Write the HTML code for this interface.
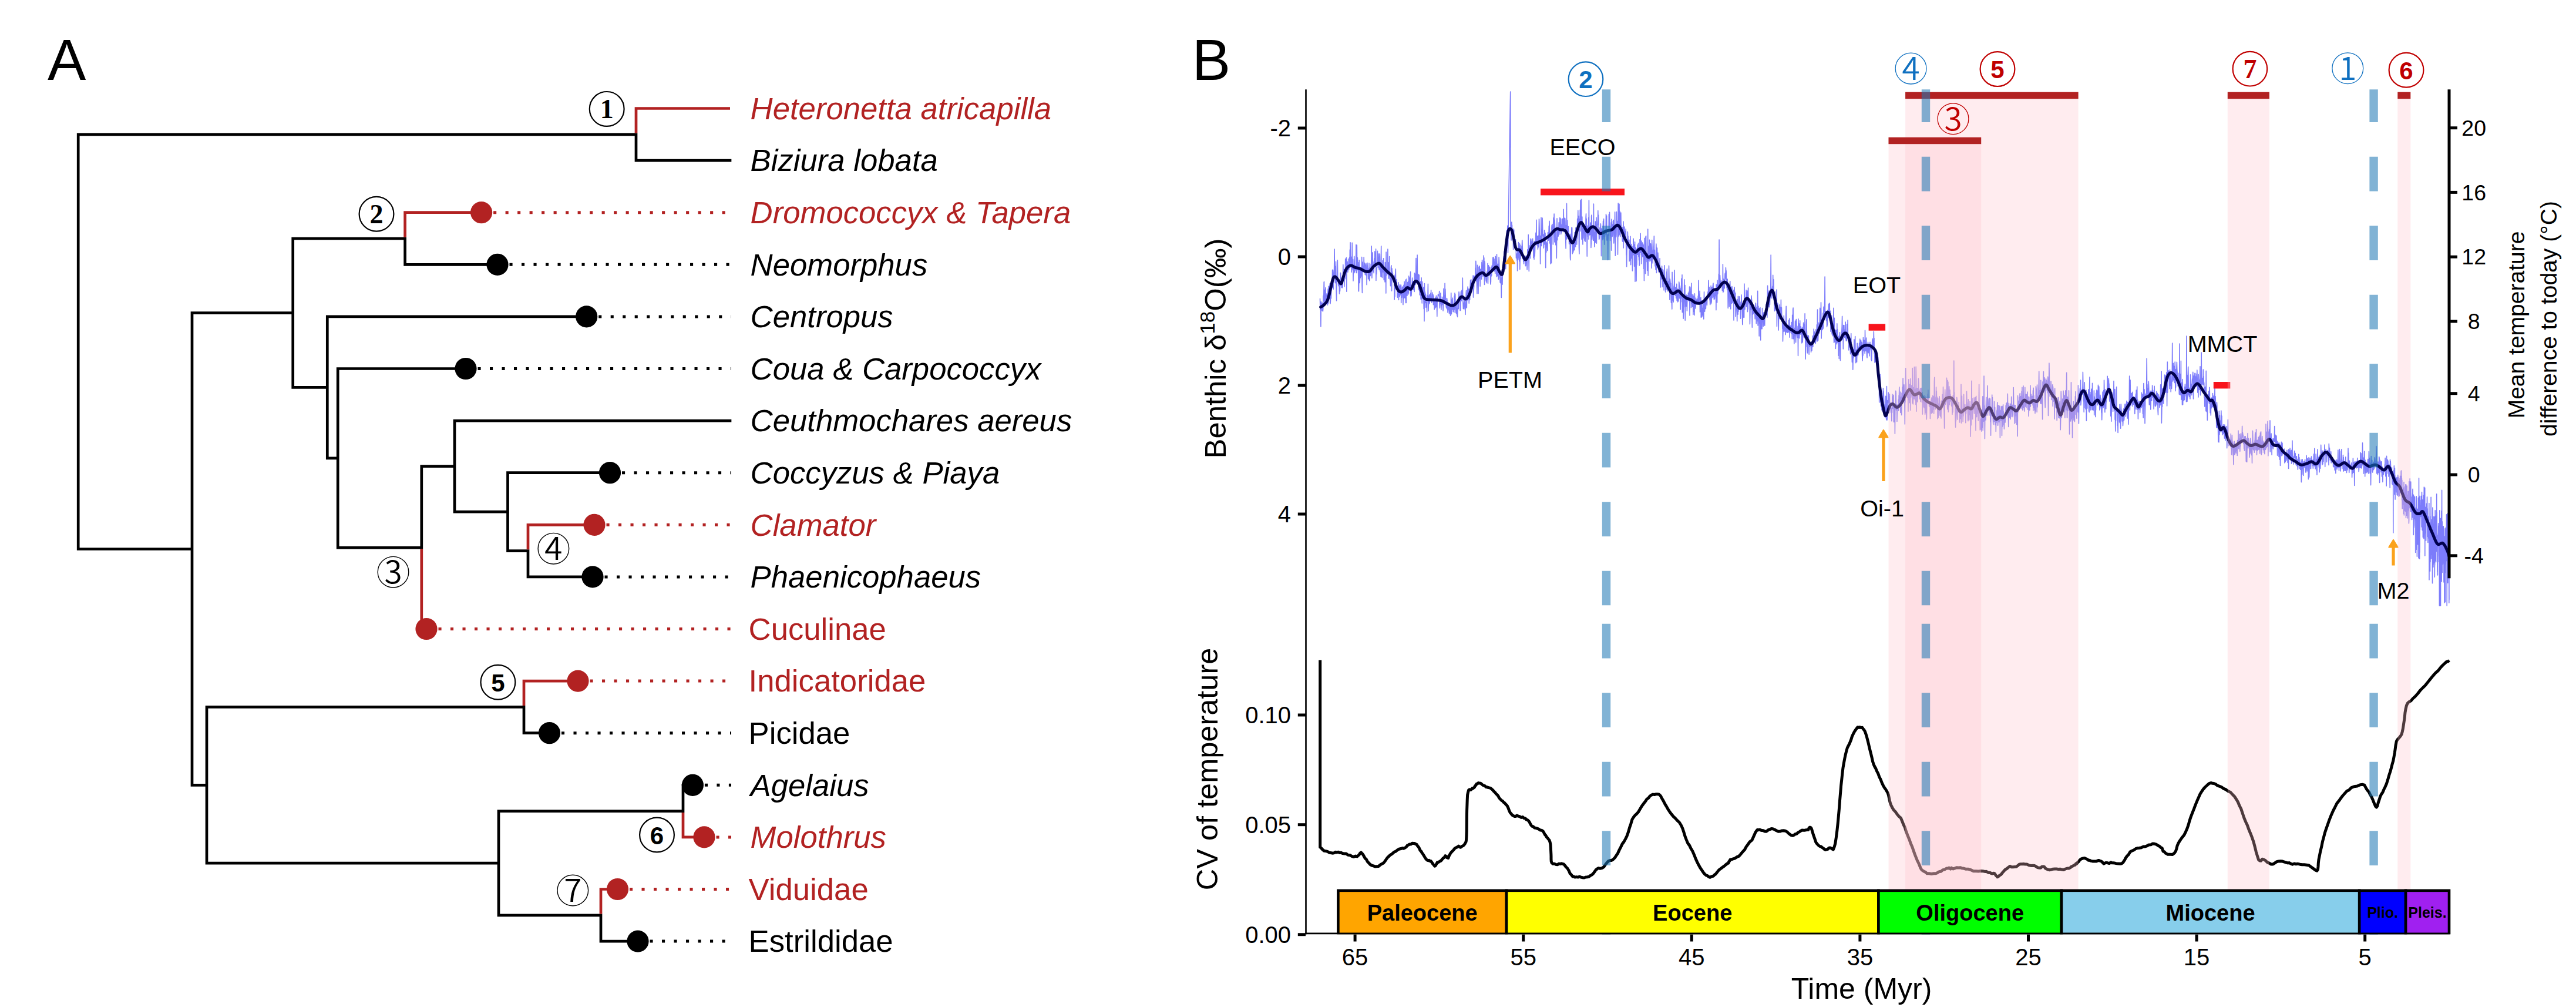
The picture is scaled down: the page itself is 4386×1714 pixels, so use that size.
<!DOCTYPE html>
<html><head><meta charset="utf-8"><title>Figure</title><style>html,body{margin:0;padding:0;background:#fff}svg{display:block}</style></head><body>
<svg width="4386" height="1714" viewBox="0 0 4386 1714" font-family="'Liberation Sans', Arial, Helvetica, sans-serif">
<rect width="4386" height="1714" fill="#fff"/>
<path d="M2247.5 507.9L2247.9 527.1L2248.2 525.9L2248.6 514.7L2248.9 556.0L2249.3 513.2L2249.6 517.6L2250.0 525.8L2250.3 520.4L2250.7 515.7L2251.0 528.8L2251.4 522.9L2251.7 518.0L2252.1 515.3L2252.4 529.9L2252.8 525.0L2253.1 503.4L2253.5 512.2L2253.8 504.0L2254.2 480.3L2254.5 479.5L2254.9 517.4L2255.2 493.4L2255.6 512.0L2255.9 511.7L2256.3 508.8L2256.6 496.1L2257.0 489.5L2257.3 511.5L2257.7 509.9L2258.0 506.9L2258.4 511.5L2258.7 503.8L2259.1 499.9L2259.4 504.7L2259.8 509.4L2260.1 511.1L2260.5 519.3L2260.8 499.8L2261.2 491.9L2261.5 516.3L2261.9 508.2L2262.2 487.3L2262.6 503.8L2262.9 494.8L2263.3 497.1L2263.6 486.5L2264.0 503.3L2264.3 482.9L2264.7 516.0L2265.0 517.0L2265.4 512.3L2265.7 494.6L2266.1 488.9L2266.4 507.9L2266.8 491.8L2267.1 489.9L2267.5 490.2L2267.9 486.8L2268.2 489.5L2268.6 459.3L2268.9 470.1L2269.3 488.5L2269.6 459.5L2270.0 465.4L2270.3 492.3L2270.7 473.2L2271.0 478.6L2271.4 474.0L2271.7 453.1L2272.1 424.0L2272.4 463.4L2272.8 453.0L2273.1 466.8L2273.5 481.8L2273.8 478.6L2274.2 461.4L2274.5 445.3L2274.9 470.4L2275.2 495.6L2275.6 512.0L2275.9 475.7L2276.3 476.8L2276.6 471.8L2277.0 475.2L2277.3 442.8L2277.7 470.5L2278.0 477.5L2278.4 475.3L2278.7 485.7L2279.1 484.6L2279.4 476.6L2279.8 488.0L2280.1 481.8L2280.5 500.3L2280.8 483.8L2281.2 478.1L2281.5 495.7L2281.9 478.3L2282.2 464.4L2282.6 465.1L2282.9 472.7L2283.3 478.6L2283.6 479.9L2284.0 481.2L2284.3 489.7L2284.7 480.2L2285.0 475.4L2285.4 480.5L2285.7 474.9L2286.1 490.0L2286.4 478.8L2286.8 450.6L2287.1 462.1L2287.5 462.8L2287.8 477.3L2288.2 463.9L2288.6 458.5L2288.9 487.7L2289.3 461.7L2289.6 467.5L2290.0 474.7L2290.3 470.7L2290.7 440.6L2291.0 445.7L2291.4 449.5L2291.7 446.2L2292.1 449.9L2292.4 438.5L2292.8 496.2L2293.1 441.7L2293.5 460.9L2293.8 453.5L2294.2 445.5L2294.5 454.0L2294.9 463.1L2295.2 456.4L2295.6 453.0L2295.9 456.9L2296.3 440.7L2296.6 459.4L2297.0 449.2L2297.3 441.0L2297.7 438.1L2298.0 455.9L2298.4 425.1L2298.7 449.6L2299.1 412.8L2299.4 445.9L2299.8 449.6L2300.1 445.5L2300.5 455.7L2300.8 437.4L2301.2 463.3L2301.5 438.7L2301.9 459.7L2302.2 413.3L2302.6 442.9L2302.9 457.0L2303.3 450.4L2303.6 441.6L2304.0 478.2L2304.3 459.7L2304.7 451.3L2305.0 451.4L2305.4 464.8L2305.7 436.2L2306.1 444.1L2306.4 463.1L2306.8 454.5L2307.1 452.4L2307.5 457.1L2307.8 457.4L2308.2 460.0L2308.6 450.7L2308.9 416.5L2309.3 464.4L2309.6 437.9L2310.0 464.4L2310.3 417.1L2310.7 458.5L2311.0 453.7L2311.4 438.7L2311.7 459.6L2312.1 455.9L2312.4 446.7L2312.8 472.0L2313.1 495.2L2313.5 495.8L2313.8 471.0L2314.2 442.9L2314.5 451.5L2314.9 473.3L2315.2 481.6L2315.6 468.4L2315.9 459.2L2316.3 472.9L2316.6 466.9L2317.0 462.7L2317.3 470.4L2317.7 455.2L2318.0 463.0L2318.4 466.3L2318.7 437.5L2319.1 486.2L2319.4 498.5L2319.8 456.7L2320.1 446.1L2320.5 458.6L2320.8 459.1L2321.2 457.2L2321.5 460.8L2321.9 457.5L2322.2 437.8L2322.6 456.7L2322.9 461.7L2323.3 447.6L2323.6 460.7L2324.0 456.8L2324.3 467.5L2324.7 450.8L2325.0 451.3L2325.4 459.7L2325.7 448.2L2326.1 468.9L2326.4 460.9L2326.8 454.4L2327.1 484.7L2327.5 451.1L2327.8 447.3L2328.2 452.3L2328.5 458.5L2328.9 462.7L2329.3 458.9L2329.6 475.2L2330.0 457.6L2330.3 474.1L2330.7 462.2L2331.0 448.1L2331.4 465.0L2331.7 478.0L2332.1 477.0L2332.4 460.9L2332.8 463.5L2333.1 455.3L2333.5 469.5L2333.8 466.9L2334.2 449.3L2334.5 456.8L2334.9 440.6L2335.2 418.9L2335.6 449.5L2335.9 473.3L2336.3 457.1L2336.6 449.8L2337.0 429.9L2337.3 453.0L2337.7 445.5L2338.0 457.8L2338.4 462.2L2338.7 456.5L2339.1 464.6L2339.4 456.4L2339.8 439.7L2340.1 447.4L2340.5 446.2L2340.8 428.0L2341.2 451.4L2341.5 439.7L2341.9 450.3L2342.2 450.0L2342.6 423.8L2342.9 477.5L2343.3 456.9L2343.6 466.6L2344.0 461.0L2344.3 456.1L2344.7 455.1L2345.0 443.7L2345.4 427.2L2345.7 438.5L2346.1 438.3L2346.4 445.9L2346.8 445.0L2347.1 456.0L2347.5 432.0L2347.8 446.2L2348.2 459.5L2348.5 453.2L2348.9 446.5L2349.3 431.9L2349.6 449.0L2350.0 461.4L2350.3 462.8L2350.7 454.8L2351.0 470.8L2351.4 439.8L2351.7 418.9L2352.1 471.2L2352.4 458.1L2352.8 462.6L2353.1 464.2L2353.5 472.6L2353.8 450.9L2354.2 443.5L2354.5 460.6L2354.9 462.9L2355.2 451.3L2355.6 439.8L2355.9 453.4L2356.3 476.6L2356.6 472.5L2357.0 454.7L2357.3 455.2L2357.7 462.4L2358.0 479.9L2358.4 446.5L2358.7 467.0L2359.1 453.6L2359.4 452.3L2359.8 499.1L2360.1 429.0L2360.5 469.1L2360.8 464.8L2361.2 465.4L2361.5 459.3L2361.9 464.4L2362.2 459.0L2362.6 462.5L2362.9 424.0L2363.3 467.7L2363.6 466.7L2364.0 457.9L2364.3 474.1L2364.7 446.9L2365.0 461.9L2365.4 470.9L2365.7 436.6L2366.1 473.2L2366.4 475.2L2366.8 474.1L2367.1 474.4L2367.5 486.8L2367.8 474.6L2368.2 470.1L2368.5 454.8L2368.9 451.8L2369.3 477.9L2369.6 495.2L2370.0 457.1L2370.3 475.5L2370.7 462.8L2371.0 471.8L2371.4 465.4L2371.7 475.3L2372.1 473.8L2372.4 478.5L2372.8 469.9L2373.1 473.4L2373.5 477.9L2373.8 470.1L2374.2 510.0L2374.5 491.2L2374.9 504.7L2375.2 467.9L2375.6 484.3L2375.9 465.1L2376.3 457.7L2376.6 481.5L2377.0 488.6L2377.3 488.8L2377.7 478.1L2378.0 475.7L2378.4 484.8L2378.7 486.3L2379.1 501.4L2379.4 506.1L2379.8 495.8L2380.1 490.3L2380.5 501.6L2380.8 498.8L2381.2 480.8L2381.5 510.4L2381.9 486.6L2382.2 498.2L2382.6 499.6L2382.9 505.1L2383.3 500.1L2383.6 484.1L2384.0 502.2L2384.3 493.2L2384.7 497.2L2385.0 491.6L2385.4 485.0L2385.7 515.5L2386.1 495.2L2386.4 494.6L2386.8 506.3L2387.1 493.1L2387.5 488.0L2387.8 496.7L2388.2 488.6L2388.5 500.3L2388.9 518.6L2389.2 509.9L2389.6 496.5L2390.0 485.4L2390.3 507.8L2390.7 498.3L2391.0 479.2L2391.4 498.4L2391.7 506.5L2392.1 507.1L2392.4 503.8L2392.8 476.1L2393.1 503.6L2393.5 515.4L2393.8 496.9L2394.2 515.5L2394.5 487.3L2394.9 491.0L2395.2 474.7L2395.6 485.5L2395.9 503.3L2396.3 495.9L2396.6 480.9L2397.0 498.2L2397.3 486.3L2397.7 479.4L2398.0 494.4L2398.4 500.8L2398.7 469.8L2399.1 481.3L2399.4 488.0L2399.8 489.6L2400.1 472.8L2400.5 485.8L2400.8 482.1L2401.2 494.7L2401.5 462.6L2401.9 503.9L2402.2 483.6L2402.6 496.4L2402.9 503.8L2403.3 498.5L2403.6 489.1L2404.0 486.3L2404.3 485.4L2404.7 473.1L2405.0 484.5L2405.4 488.6L2405.7 489.8L2406.1 487.3L2406.4 478.7L2406.8 493.4L2407.1 488.3L2407.5 482.4L2407.8 479.1L2408.2 496.5L2408.5 464.8L2408.9 476.6L2409.2 473.8L2409.6 466.5L2410.0 470.9L2410.3 484.7L2410.7 468.7L2411.0 439.5L2411.4 469.1L2411.7 463.8L2412.1 476.4L2412.4 474.8L2412.8 482.6L2413.1 434.0L2413.5 475.2L2413.8 478.0L2414.2 473.8L2414.5 467.2L2414.9 466.7L2415.2 492.4L2415.6 483.4L2415.9 478.9L2416.3 468.0L2416.6 495.2L2417.0 483.5L2417.3 501.8L2417.7 502.2L2418.0 493.1L2418.4 479.4L2418.7 487.8L2419.1 507.8L2419.4 509.5L2419.8 492.7L2420.1 472.8L2420.5 494.3L2420.8 493.9L2421.2 516.1L2421.5 479.5L2421.9 495.5L2422.2 494.7L2422.6 496.7L2422.9 496.1L2423.3 501.0L2423.6 488.7L2424.0 511.1L2424.3 525.8L2424.7 494.8L2425.0 546.7L2425.4 482.5L2425.7 503.3L2426.1 510.7L2426.4 496.8L2426.8 515.5L2427.1 500.0L2427.5 501.1L2427.8 523.3L2428.2 513.7L2428.5 518.4L2428.9 514.0L2429.2 519.4L2429.6 530.7L2429.9 505.0L2430.3 502.9L2430.7 507.1L2431.0 508.5L2431.4 483.3L2431.7 514.3L2432.1 529.2L2432.4 507.9L2432.8 504.4L2433.1 517.4L2433.5 502.7L2433.8 501.6L2434.2 515.9L2434.5 508.5L2434.9 503.4L2435.2 502.1L2435.6 502.5L2435.9 498.8L2436.3 508.6L2436.6 493.9L2437.0 513.5L2437.3 507.2L2437.7 515.3L2438.0 505.4L2438.4 508.5L2438.7 498.0L2439.1 505.4L2439.4 506.2L2439.8 501.2L2440.1 502.1L2440.5 518.7L2440.8 503.6L2441.2 508.9L2441.5 514.2L2441.9 510.9L2442.2 526.7L2442.6 508.5L2442.9 510.2L2443.3 524.6L2443.6 516.4L2444.0 513.6L2444.3 505.9L2444.7 522.9L2445.0 521.3L2445.4 503.2L2445.7 505.9L2446.1 520.5L2446.4 519.6L2446.8 538.6L2447.1 513.4L2447.5 506.4L2447.8 513.8L2448.2 508.0L2448.5 501.2L2448.9 504.1L2449.2 501.0L2449.6 501.8L2449.9 503.1L2450.3 502.0L2450.7 495.5L2451.0 518.4L2451.4 524.4L2451.7 519.1L2452.1 510.7L2452.4 514.3L2452.8 498.9L2453.1 516.6L2453.5 504.9L2453.8 527.1L2454.2 516.9L2454.5 519.7L2454.9 513.8L2455.2 514.4L2455.6 512.6L2455.9 517.9L2456.3 509.3L2456.6 505.5L2457.0 529.1L2457.3 524.2L2457.7 513.7L2458.0 491.4L2458.4 512.3L2458.7 515.4L2459.1 513.8L2459.4 502.7L2459.8 510.7L2460.1 482.2L2460.5 505.0L2460.8 492.1L2461.2 502.2L2461.5 514.8L2461.9 516.1L2462.2 522.0L2462.6 523.6L2462.9 524.5L2463.3 507.5L2463.6 507.8L2464.0 511.3L2464.3 526.5L2464.7 519.8L2465.0 532.0L2465.4 528.7L2465.7 514.9L2466.1 520.7L2466.4 522.2L2466.8 526.8L2467.1 522.6L2467.5 533.9L2467.8 529.5L2468.2 523.8L2468.5 521.9L2468.9 531.2L2469.2 528.2L2469.6 537.1L2469.9 521.2L2470.3 521.5L2470.7 498.5L2471.0 516.6L2471.4 534.6L2471.7 510.5L2472.1 511.3L2472.4 527.1L2472.8 507.0L2473.1 510.8L2473.5 515.2L2473.8 524.5L2474.2 530.7L2474.5 525.9L2474.9 530.7L2475.2 521.5L2475.6 527.5L2475.9 511.0L2476.3 503.8L2476.6 521.1L2477.0 498.8L2477.3 532.1L2477.7 500.7L2478.0 517.0L2478.4 514.7L2478.7 515.5L2479.1 525.1L2479.4 533.3L2479.8 519.2L2480.1 525.5L2480.5 532.7L2480.8 536.9L2481.2 524.6L2481.5 539.5L2481.9 525.3L2482.2 514.9L2482.6 510.9L2482.9 523.0L2483.3 525.8L2483.6 508.1L2484.0 496.7L2484.3 498.8L2484.7 505.6L2485.0 508.2L2485.4 510.4L2485.7 509.6L2486.1 528.7L2486.4 508.7L2486.8 528.1L2487.1 504.6L2487.5 496.3L2487.8 498.9L2488.2 512.2L2488.5 505.1L2488.9 494.3L2489.2 498.7L2489.6 506.8L2489.9 501.9L2490.3 473.1L2490.6 503.9L2491.0 516.0L2491.4 525.4L2491.7 524.0L2492.1 516.5L2492.4 515.3L2492.8 526.2L2493.1 519.8L2493.5 507.4L2493.8 511.1L2494.2 519.3L2494.5 518.5L2494.9 535.4L2495.2 520.1L2495.6 524.8L2495.9 512.7L2496.3 497.5L2496.6 494.4L2497.0 510.1L2497.3 523.9L2497.7 500.5L2498.0 505.6L2498.4 510.9L2498.7 493.9L2499.1 488.0L2499.4 509.2L2499.8 492.3L2500.1 497.4L2500.5 503.1L2500.8 491.8L2501.2 516.3L2501.5 503.9L2501.9 500.6L2502.2 504.6L2502.6 510.5L2502.9 493.1L2503.3 484.4L2503.6 477.3L2504.0 483.2L2504.3 485.5L2504.7 475.7L2505.0 483.0L2505.4 482.1L2505.7 483.2L2506.1 491.7L2506.4 482.6L2506.8 479.2L2507.1 491.5L2507.5 479.3L2507.8 476.1L2508.2 468.9L2508.5 506.1L2508.9 497.4L2509.2 493.7L2509.6 487.2L2509.9 470.6L2510.3 470.0L2510.6 475.7L2511.0 475.1L2511.4 475.1L2511.7 473.3L2512.1 456.2L2512.4 463.6L2512.8 444.2L2513.1 449.9L2513.5 478.6L2513.8 478.5L2514.2 464.7L2514.5 483.6L2514.9 499.8L2515.2 468.1L2515.6 451.3L2515.9 466.3L2516.3 472.4L2516.6 483.9L2517.0 499.8L2517.3 473.5L2517.7 478.5L2518.0 454.3L2518.4 474.5L2518.7 458.7L2519.1 452.8L2519.4 459.2L2519.8 466.4L2520.1 487.3L2520.5 463.0L2520.8 458.2L2521.2 460.7L2521.5 459.4L2521.9 457.7L2522.2 463.7L2522.6 475.2L2522.9 446.6L2523.3 453.6L2523.6 442.5L2524.0 447.1L2524.3 454.6L2524.7 464.8L2525.0 470.5L2525.4 464.8L2525.7 458.2L2526.1 435.1L2526.4 463.7L2526.8 438.7L2527.1 460.7L2527.5 484.5L2527.8 445.0L2528.2 448.1L2528.5 464.8L2528.9 470.7L2529.2 467.7L2529.6 467.7L2529.9 474.3L2530.3 478.8L2530.6 473.7L2531.0 476.6L2531.4 481.6L2531.7 463.0L2532.1 462.4L2532.4 465.7L2532.8 466.8L2533.1 448.4L2533.5 482.5L2533.8 461.2L2534.2 465.2L2534.5 451.9L2534.9 462.1L2535.2 460.2L2535.6 464.3L2535.9 460.9L2536.3 454.2L2536.6 469.2L2537.0 466.2L2537.3 460.8L2537.7 479.9L2538.0 484.0L2538.4 479.0L2538.7 455.4L2539.1 470.2L2539.4 468.1L2539.8 469.0L2540.1 452.4L2540.5 457.7L2540.8 462.2L2541.2 452.4L2541.5 447.5L2541.9 438.3L2542.2 454.7L2542.6 448.5L2542.9 437.7L2543.3 449.0L2543.6 444.9L2544.0 440.7L2544.3 455.4L2544.7 461.7L2545.0 445.7L2545.4 446.6L2545.7 465.6L2546.1 436.3L2546.4 436.7L2546.8 451.6L2547.1 460.8L2547.5 457.3L2547.8 471.1L2548.2 450.9L2548.5 432.7L2548.9 461.1L2549.2 456.4L2549.6 467.6L2549.9 469.9L2550.3 449.3L2550.6 456.3L2551.0 462.2L2551.3 475.5L2551.7 459.0L2552.1 437.9L2552.4 443.4L2552.8 455.0L2553.1 462.8L2553.5 473.4L2553.8 472.5L2554.2 481.0L2554.5 465.5L2554.9 472.0L2555.2 482.1L2555.6 481.8L2555.9 479.4L2556.3 506.4L2556.6 474.7L2557.0 471.7L2557.3 458.8L2557.7 464.2L2558.0 484.2L2558.4 464.2L2558.7 466.4L2559.1 455.7L2559.4 460.1L2559.8 437.4L2560.1 448.6L2560.5 463.1L2560.8 428.3L2561.2 444.8L2561.5 440.6L2561.9 439.7L2562.2 437.1L2562.6 430.6L2562.9 420.6L2563.3 430.3L2563.6 457.8L2564.0 444.5L2564.3 429.3L2564.7 414.7L2565.0 422.9L2565.4 392.4L2565.7 419.0L2566.1 402.5L2566.4 411.9L2566.8 384.2L2567.1 396.7L2567.5 430.0L2567.8 407.2L2568.2 384.3L2568.5 361.5L2568.9 338.7L2569.2 315.8L2569.6 293.0L2569.9 270.2L2570.3 247.3L2570.6 224.5L2571.0 201.7L2571.3 178.8L2571.7 156.0L2572.1 385.8L2572.4 384.4L2572.8 392.4L2573.1 408.9L2573.5 378.4L2573.8 378.0L2574.2 387.9L2574.5 383.2L2574.9 402.5L2575.2 400.1L2575.6 394.8L2575.9 391.6L2576.3 402.2L2576.6 424.7L2577.0 391.6L2577.3 389.5L2577.7 392.3L2578.0 415.2L2578.4 413.2L2578.7 417.0L2579.1 414.5L2579.4 418.5L2579.8 416.8L2580.1 416.3L2580.5 407.8L2580.8 416.2L2581.2 421.1L2581.5 439.3L2581.9 436.0L2582.2 432.1L2582.6 434.5L2582.9 443.3L2583.3 431.9L2583.6 461.0L2584.0 423.6L2584.3 439.1L2584.7 442.1L2585.0 437.9L2585.4 412.6L2585.7 427.4L2586.1 419.0L2586.4 432.8L2586.8 444.8L2587.1 433.9L2587.5 414.7L2587.8 458.4L2588.2 435.0L2588.5 417.2L2588.9 440.5L2589.2 422.5L2589.6 425.7L2589.9 428.3L2590.3 429.2L2590.6 428.8L2591.0 418.9L2591.3 422.1L2591.7 408.9L2592.0 415.5L2592.4 424.0L2592.8 440.5L2593.1 434.9L2593.5 437.2L2593.8 445.3L2594.2 441.0L2594.5 449.3L2594.9 440.6L2595.2 444.2L2595.6 436.2L2595.9 439.8L2596.3 440.4L2596.6 437.3L2597.0 445.9L2597.3 452.8L2597.7 446.1L2598.0 435.8L2598.4 447.3L2598.7 436.4L2599.1 444.7L2599.4 452.7L2599.8 444.0L2600.1 458.9L2600.5 443.2L2600.8 424.8L2601.2 432.9L2601.5 438.8L2601.9 439.2L2602.2 399.6L2602.6 434.1L2602.9 442.5L2603.3 461.8L2603.6 417.7L2604.0 420.0L2604.3 420.9L2604.7 425.8L2605.0 430.9L2605.4 439.7L2605.7 414.5L2606.1 406.6L2606.4 406.4L2606.8 408.1L2607.1 421.1L2607.5 422.9L2607.8 414.2L2608.2 423.7L2608.5 411.1L2608.9 418.0L2609.2 409.6L2609.6 406.2L2609.9 419.1L2610.3 425.6L2610.6 417.4L2611.0 438.8L2611.3 416.6L2611.7 416.4L2612.0 441.5L2612.4 410.5L2612.8 415.3L2613.1 436.0L2613.5 426.8L2613.8 415.3L2614.2 410.6L2614.5 414.3L2614.9 396.3L2615.2 396.1L2615.6 411.0L2615.9 374.2L2616.3 414.6L2616.6 416.6L2617.0 417.2L2617.3 409.9L2617.7 402.3L2618.0 414.6L2618.4 424.3L2618.7 401.1L2619.1 401.7L2619.4 420.8L2619.8 403.6L2620.1 406.7L2620.5 372.7L2620.8 379.8L2621.2 394.5L2621.5 409.6L2621.9 401.1L2622.2 402.7L2622.6 449.3L2622.9 421.4L2623.3 405.1L2623.6 414.7L2624.0 370.3L2624.3 405.6L2624.7 418.6L2625.0 390.6L2625.4 403.8L2625.7 413.2L2626.1 371.0L2626.4 381.7L2626.8 400.1L2627.1 401.5L2627.5 399.4L2627.8 404.2L2628.2 422.3L2628.5 421.0L2628.9 398.8L2629.2 416.1L2629.6 391.9L2629.9 399.6L2630.3 415.4L2630.6 398.3L2631.0 396.5L2631.3 415.1L2631.7 455.8L2632.0 414.3L2632.4 425.5L2632.8 429.4L2633.1 411.9L2633.5 420.7L2633.8 420.2L2634.2 414.6L2634.5 418.9L2634.9 426.6L2635.2 407.6L2635.6 395.5L2635.9 400.3L2636.3 402.3L2636.6 409.1L2637.0 397.4L2637.3 384.5L2637.7 390.3L2638.0 376.2L2638.4 391.0L2638.7 413.9L2639.1 404.5L2639.4 409.6L2639.8 421.7L2640.1 449.2L2640.5 401.4L2640.8 394.2L2641.2 394.4L2641.5 447.8L2641.9 388.0L2642.2 383.2L2642.6 396.0L2642.9 381.6L2643.3 397.3L2643.6 395.5L2644.0 388.2L2644.3 416.1L2644.7 380.1L2645.0 370.8L2645.4 377.5L2645.7 390.5L2646.1 364.1L2646.4 394.8L2646.8 412.1L2647.1 374.3L2647.5 385.8L2647.8 403.1L2648.2 395.0L2648.5 394.9L2648.9 417.0L2649.2 413.9L2649.6 412.4L2649.9 404.7L2650.3 439.5L2650.6 407.7L2651.0 371.9L2651.3 407.5L2651.7 408.6L2652.0 388.3L2652.4 396.5L2652.7 389.3L2653.1 402.3L2653.5 394.2L2653.8 394.0L2654.2 378.8L2654.5 399.4L2654.9 395.8L2655.2 392.2L2655.6 380.0L2655.9 370.5L2656.3 386.5L2656.6 392.7L2657.0 372.0L2657.3 388.5L2657.7 398.7L2658.0 391.3L2658.4 396.7L2658.7 382.3L2659.1 391.3L2659.4 372.8L2659.8 388.6L2660.1 389.0L2660.5 372.3L2660.8 391.9L2661.2 393.2L2661.5 378.5L2661.9 375.3L2662.2 356.2L2662.6 394.6L2662.9 374.9L2663.3 371.1L2663.6 387.2L2664.0 376.1L2664.3 376.9L2664.7 371.9L2665.0 376.9L2665.4 402.8L2665.7 407.5L2666.1 422.9L2666.4 383.7L2666.8 407.4L2667.1 407.0L2667.5 346.4L2667.8 406.6L2668.2 393.9L2668.5 374.7L2668.9 382.8L2669.2 400.0L2669.6 400.3L2669.9 387.0L2670.3 385.5L2670.6 392.7L2671.0 406.5L2671.3 399.8L2671.7 415.5L2672.0 412.4L2672.4 403.5L2672.7 400.2L2673.1 398.4L2673.5 437.8L2673.8 442.7L2674.2 423.3L2674.5 410.2L2674.9 399.9L2675.2 406.0L2675.6 397.5L2675.9 387.3L2676.3 408.5L2676.6 387.5L2677.0 410.5L2677.3 431.9L2677.7 415.1L2678.0 410.0L2678.4 408.9L2678.7 429.3L2679.1 408.7L2679.4 426.1L2679.8 424.8L2680.1 420.8L2680.5 409.6L2680.8 425.6L2681.2 395.5L2681.5 404.4L2681.9 404.4L2682.2 399.4L2682.6 420.3L2682.9 387.7L2683.3 394.2L2683.6 404.4L2684.0 396.7L2684.3 400.7L2684.7 416.1L2685.0 399.8L2685.4 405.9L2685.7 372.5L2686.1 377.4L2686.4 379.0L2686.8 358.4L2687.1 388.5L2687.5 389.3L2687.8 377.2L2688.2 367.8L2688.5 422.2L2688.9 432.3L2689.2 372.9L2689.6 373.3L2689.9 386.5L2690.3 357.2L2690.6 393.4L2691.0 341.0L2691.3 352.1L2691.7 372.3L2692.0 382.1L2692.4 339.2L2692.7 375.5L2693.1 406.9L2693.4 407.6L2693.8 369.1L2694.2 406.0L2694.5 387.9L2694.9 416.0L2695.2 385.9L2695.6 389.8L2695.9 405.5L2696.3 395.0L2696.6 381.3L2697.0 382.3L2697.3 390.5L2697.7 388.1L2698.0 409.2L2698.4 404.0L2698.7 408.0L2699.1 411.3L2699.4 395.1L2699.8 389.7L2700.1 370.6L2700.5 363.8L2700.8 394.7L2701.2 372.4L2701.5 388.7L2701.9 403.4L2702.2 436.2L2702.6 394.0L2702.9 402.5L2703.3 384.2L2703.6 397.9L2704.0 398.3L2704.3 390.9L2704.7 370.4L2705.0 407.3L2705.4 340.9L2705.7 389.8L2706.1 385.2L2706.4 400.0L2706.8 392.7L2707.1 399.8L2707.5 387.1L2707.8 379.1L2708.2 383.3L2708.5 382.7L2708.9 421.4L2709.2 414.6L2709.6 368.3L2709.9 366.1L2710.3 375.9L2710.6 407.5L2711.0 391.7L2711.3 384.1L2711.7 387.2L2712.0 392.8L2712.4 402.1L2712.7 409.1L2713.1 395.3L2713.4 347.0L2713.8 409.4L2714.2 407.1L2714.5 395.7L2714.9 420.2L2715.2 400.7L2715.6 392.0L2715.9 404.2L2716.3 377.1L2716.6 412.8L2717.0 390.4L2717.3 378.7L2717.7 397.4L2718.0 370.2L2718.4 414.3L2718.7 383.2L2719.1 383.5L2719.4 390.6L2719.8 384.7L2720.1 379.1L2720.5 373.6L2720.8 358.5L2721.2 382.2L2721.5 366.0L2721.9 380.0L2722.2 390.0L2722.6 407.8L2722.9 387.5L2723.3 406.3L2723.6 400.5L2724.0 401.5L2724.3 396.7L2724.7 395.2L2725.0 385.7L2725.4 380.9L2725.7 395.6L2726.1 394.8L2726.4 435.7L2726.8 399.6L2727.1 389.0L2727.5 391.5L2727.8 396.5L2728.2 397.3L2728.5 396.4L2728.9 408.4L2729.2 390.7L2729.6 376.3L2729.9 402.1L2730.3 376.9L2730.6 372.5L2731.0 406.8L2731.3 396.7L2731.7 416.3L2732.0 399.7L2732.4 403.5L2732.7 400.7L2733.1 398.5L2733.4 390.5L2733.8 396.0L2734.2 391.7L2734.5 364.6L2734.9 398.7L2735.2 398.8L2735.6 367.3L2735.9 408.9L2736.3 398.6L2736.6 408.9L2737.0 399.7L2737.3 404.1L2737.7 442.5L2738.0 411.4L2738.4 398.7L2738.7 401.4L2739.1 400.7L2739.4 364.8L2739.8 365.9L2740.1 380.2L2740.5 361.4L2740.8 380.5L2741.2 392.4L2741.5 409.6L2741.9 398.2L2742.2 396.2L2742.6 400.5L2742.9 396.9L2743.3 378.9L2743.6 426.3L2744.0 373.1L2744.3 385.9L2744.7 381.9L2745.0 402.7L2745.4 401.5L2745.7 399.4L2746.1 391.7L2746.4 376.7L2746.8 375.6L2747.1 374.5L2747.5 391.1L2747.8 414.0L2748.2 402.4L2748.5 387.2L2748.9 393.5L2749.2 387.7L2749.6 360.9L2749.9 408.4L2750.3 435.3L2750.6 397.2L2751.0 383.3L2751.3 386.8L2751.7 403.4L2752.0 399.4L2752.4 360.6L2752.7 380.3L2753.1 385.3L2753.4 381.9L2753.8 376.5L2754.1 376.7L2754.5 433.3L2754.9 384.9L2755.2 345.9L2755.6 402.3L2755.9 396.8L2756.3 399.1L2756.6 400.6L2757.0 347.3L2757.3 399.0L2757.7 386.9L2758.0 359.6L2758.4 384.6L2758.7 403.0L2759.1 391.0L2759.4 390.9L2759.8 362.0L2760.1 381.3L2760.5 384.0L2760.8 393.8L2761.2 395.9L2761.5 392.7L2761.9 398.7L2762.2 408.8L2762.6 411.0L2762.9 386.6L2763.3 401.3L2763.6 386.8L2764.0 377.1L2764.3 422.1L2764.7 389.2L2765.0 391.8L2765.4 406.5L2765.7 386.1L2766.1 393.2L2766.4 396.4L2766.8 393.6L2767.1 411.5L2767.5 403.3L2767.8 410.0L2768.2 389.7L2768.5 409.2L2768.9 434.2L2769.2 424.8L2769.6 453.9L2769.9 432.8L2770.3 414.1L2770.6 415.5L2771.0 416.5L2771.3 394.6L2771.7 405.7L2772.0 402.1L2772.4 422.1L2772.7 414.8L2773.1 411.2L2773.4 410.1L2773.8 408.2L2774.1 444.7L2774.5 427.7L2774.9 443.2L2775.2 436.8L2775.6 426.6L2775.9 402.2L2776.3 434.2L2776.6 450.7L2777.0 423.9L2777.3 430.1L2777.7 439.8L2778.0 415.5L2778.4 428.9L2778.7 437.6L2779.1 429.9L2779.4 461.1L2779.8 426.5L2780.1 419.4L2780.5 422.6L2780.8 420.2L2781.2 406.3L2781.5 434.0L2781.9 422.6L2782.2 416.4L2782.6 453.2L2782.9 449.3L2783.3 442.5L2783.6 411.7L2784.0 479.2L2784.3 437.0L2784.7 421.1L2785.0 431.6L2785.4 447.1L2785.7 423.0L2786.1 478.5L2786.4 436.8L2786.8 451.3L2787.1 432.8L2787.5 426.3L2787.8 428.6L2788.2 416.8L2788.5 433.2L2788.9 423.0L2789.2 424.7L2789.6 413.8L2789.9 436.9L2790.3 426.6L2790.6 442.9L2791.0 427.0L2791.3 451.9L2791.7 448.5L2792.0 407.5L2792.4 407.6L2792.7 409.5L2793.1 397.3L2793.4 430.2L2793.8 413.6L2794.1 412.5L2794.5 434.0L2794.8 410.0L2795.2 449.1L2795.6 413.2L2795.9 422.7L2796.3 416.5L2796.6 413.1L2797.0 437.2L2797.3 427.1L2797.7 415.3L2798.0 436.4L2798.4 417.4L2798.7 457.5L2799.1 437.2L2799.4 477.7L2799.8 405.4L2800.1 441.7L2800.5 423.8L2800.8 439.3L2801.2 427.5L2801.5 465.7L2801.9 402.8L2802.2 412.9L2802.6 401.5L2802.9 433.7L2803.3 438.1L2803.6 433.4L2804.0 445.6L2804.3 433.1L2804.7 460.6L2805.0 445.0L2805.4 434.5L2805.7 390.1L2806.1 469.1L2806.4 443.8L2806.8 435.6L2807.1 443.5L2807.5 418.9L2807.8 419.5L2808.2 442.5L2808.5 408.4L2808.9 427.1L2809.2 445.1L2809.6 415.1L2809.9 443.5L2810.3 432.1L2810.6 414.9L2811.0 424.5L2811.3 422.7L2811.7 439.2L2812.0 456.5L2812.4 427.8L2812.7 408.5L2813.1 429.9L2813.4 428.2L2813.8 438.4L2814.1 447.9L2814.5 428.6L2814.8 425.0L2815.2 433.6L2815.6 420.7L2815.9 417.4L2816.3 401.8L2816.6 437.1L2817.0 429.6L2817.3 425.6L2817.7 440.8L2818.0 453.0L2818.4 441.3L2818.7 449.8L2819.1 459.3L2819.4 441.4L2819.8 415.1L2820.1 422.5L2820.5 464.5L2820.8 438.5L2821.2 450.7L2821.5 422.0L2821.9 454.3L2822.2 444.9L2822.6 448.9L2822.9 430.3L2823.3 442.6L2823.6 450.0L2824.0 463.0L2824.3 448.5L2824.7 459.5L2825.0 460.4L2825.4 453.0L2825.7 457.8L2826.1 439.7L2826.4 460.7L2826.8 467.3L2827.1 465.3L2827.5 488.9L2827.8 473.7L2828.2 456.8L2828.5 462.8L2828.9 456.4L2829.2 475.1L2829.6 452.7L2829.9 468.5L2830.3 458.5L2830.6 464.4L2831.0 488.5L2831.3 465.7L2831.7 459.2L2832.0 464.7L2832.4 470.2L2832.7 469.9L2833.1 494.0L2833.4 473.4L2833.8 480.4L2834.1 451.7L2834.5 474.9L2834.8 483.0L2835.2 473.0L2835.6 497.1L2835.9 478.5L2836.3 483.1L2836.6 484.5L2837.0 492.9L2837.3 474.9L2837.7 462.8L2838.0 465.0L2838.4 457.9L2838.7 471.9L2839.1 495.4L2839.4 481.1L2839.8 488.5L2840.1 483.4L2840.5 478.8L2840.8 482.9L2841.2 485.4L2841.5 452.2L2841.9 471.5L2842.2 486.0L2842.6 484.6L2842.9 510.2L2843.3 474.9L2843.6 477.3L2844.0 481.0L2844.3 487.8L2844.7 482.2L2845.0 499.3L2845.4 515.1L2845.7 491.5L2846.1 507.1L2846.4 516.4L2846.8 526.1L2847.1 463.3L2847.5 504.8L2847.8 490.0L2848.2 511.1L2848.5 504.0L2848.9 503.0L2849.2 514.2L2849.6 500.5L2849.9 487.9L2850.3 486.6L2850.6 482.8L2851.0 459.8L2851.3 499.7L2851.7 501.2L2852.0 500.1L2852.4 503.1L2852.7 489.0L2853.1 497.2L2853.4 495.7L2853.8 507.4L2854.1 489.4L2854.5 501.2L2854.8 483.4L2855.2 511.6L2855.5 492.3L2855.9 491.5L2856.3 499.2L2856.6 513.9L2857.0 495.9L2857.3 493.6L2857.7 512.6L2858.0 505.0L2858.4 496.8L2858.7 479.9L2859.1 482.0L2859.4 489.7L2859.8 507.7L2860.1 486.2L2860.5 488.8L2860.8 511.7L2861.2 526.8L2861.5 491.3L2861.9 513.9L2862.2 492.9L2862.6 507.8L2862.9 474.2L2863.3 477.5L2863.6 496.9L2864.0 467.7L2864.3 531.6L2864.7 502.9L2865.0 505.8L2865.4 521.9L2865.7 516.0L2866.1 542.5L2866.4 533.5L2866.8 502.3L2867.1 522.7L2867.5 510.1L2867.8 475.9L2868.2 506.1L2868.5 512.3L2868.9 485.6L2869.2 545.2L2869.6 510.1L2869.9 509.0L2870.3 512.5L2870.6 515.0L2871.0 521.3L2871.3 502.1L2871.7 506.1L2872.0 505.8L2872.4 529.3L2872.7 514.4L2873.1 506.0L2873.4 502.8L2873.8 509.8L2874.1 508.4L2874.5 498.5L2874.8 512.1L2875.2 510.6L2875.5 501.9L2875.9 496.0L2876.3 502.2L2876.6 488.0L2877.0 536.9L2877.3 506.3L2877.7 496.4L2878.0 508.8L2878.4 503.1L2878.7 493.6L2879.1 488.4L2879.4 523.7L2879.8 482.1L2880.1 516.3L2880.5 511.4L2880.8 500.8L2881.2 512.4L2881.5 522.3L2881.9 517.7L2882.2 514.4L2882.6 501.5L2882.9 535.6L2883.3 519.7L2883.6 504.1L2884.0 530.1L2884.3 527.5L2884.7 512.4L2885.0 536.4L2885.4 499.9L2885.7 513.3L2886.1 512.7L2886.4 512.0L2886.8 521.2L2887.1 525.1L2887.5 507.1L2887.8 518.5L2888.2 512.3L2888.5 511.6L2888.9 512.0L2889.2 509.8L2889.6 514.8L2889.9 509.1L2890.3 514.1L2890.6 508.0L2891.0 513.9L2891.3 503.8L2891.7 511.0L2892.0 477.2L2892.4 517.0L2892.7 505.5L2893.1 510.2L2893.4 501.7L2893.8 504.1L2894.1 495.2L2894.5 531.1L2894.8 511.2L2895.2 530.4L2895.5 524.3L2895.9 506.6L2896.3 540.3L2896.6 540.2L2897.0 519.5L2897.3 511.9L2897.7 527.0L2898.0 538.9L2898.4 526.0L2898.7 524.5L2899.1 536.5L2899.4 523.9L2899.8 514.8L2900.1 525.9L2900.5 513.8L2900.8 543.1L2901.2 517.7L2901.5 496.7L2901.9 527.6L2902.2 508.6L2902.6 530.3L2902.9 517.4L2903.3 509.7L2903.6 507.1L2904.0 514.3L2904.3 525.8L2904.7 517.4L2905.0 514.7L2905.4 506.7L2905.7 505.2L2906.1 509.2L2906.4 519.4L2906.8 508.1L2907.1 507.4L2907.5 506.7L2907.8 498.1L2908.2 496.1L2908.5 502.2L2908.9 477.2L2909.2 493.6L2909.6 496.2L2909.9 503.2L2910.3 488.7L2910.6 494.7L2911.0 511.0L2911.3 507.6L2911.7 518.8L2912.0 496.4L2912.4 503.8L2912.7 501.8L2913.1 486.6L2913.4 517.3L2913.8 488.9L2914.1 514.7L2914.5 503.4L2914.8 502.4L2915.2 489.4L2915.5 506.7L2915.9 491.0L2916.2 488.0L2916.6 485.0L2917.0 482.1L2917.3 498.4L2917.7 505.8L2918.0 501.2L2918.4 509.9L2918.7 506.1L2919.1 498.0L2919.4 508.6L2919.8 504.3L2920.1 495.9L2920.5 501.9L2920.8 496.1L2921.2 503.8L2921.5 492.3L2921.9 527.8L2922.2 484.4L2922.6 502.4L2922.9 492.4L2923.3 499.6L2923.6 515.1L2924.0 477.0L2924.3 494.5L2924.7 500.4L2925.0 493.1L2925.4 490.1L2925.7 484.7L2926.1 494.1L2926.4 466.3L2926.8 486.7L2927.1 408.0L2927.5 486.1L2927.8 481.0L2928.2 484.5L2928.5 468.6L2928.9 476.9L2929.2 481.1L2929.6 478.4L2929.9 483.8L2930.3 481.6L2930.6 477.9L2931.0 483.2L2931.3 481.1L2931.7 482.6L2932.0 481.0L2932.4 494.7L2932.7 483.1L2933.1 489.0L2933.4 449.8L2933.8 497.4L2934.1 474.5L2934.5 496.4L2934.8 475.5L2935.2 487.5L2935.5 477.0L2935.9 489.6L2936.2 490.6L2936.6 480.7L2937.0 466.9L2937.3 465.1L2937.7 475.3L2938.0 464.9L2938.4 455.5L2938.7 462.5L2939.1 460.8L2939.4 473.5L2939.8 476.2L2940.1 490.0L2940.5 485.9L2940.8 493.4L2941.2 475.1L2941.5 488.4L2941.9 488.8L2942.2 524.6L2942.6 497.9L2942.9 486.2L2943.3 502.7L2943.6 483.2L2944.0 499.4L2944.3 522.0L2944.7 510.0L2945.0 494.5L2945.4 482.8L2945.7 478.5L2946.1 494.5L2946.4 491.4L2946.8 526.0L2947.1 496.7L2947.5 495.9L2947.8 489.4L2948.2 491.5L2948.5 516.7L2948.9 487.6L2949.2 491.2L2949.6 494.6L2949.9 495.3L2950.3 515.2L2950.6 504.5L2951.0 504.5L2951.3 505.1L2951.7 493.8L2952.0 545.1L2952.4 503.5L2952.7 492.8L2953.1 488.7L2953.4 508.0L2953.8 496.9L2954.1 515.2L2954.5 508.3L2954.8 499.0L2955.2 538.8L2955.5 526.1L2955.9 510.2L2956.2 521.1L2956.6 518.5L2956.9 522.3L2957.3 531.8L2957.7 546.7L2958.0 509.6L2958.4 521.3L2958.7 516.6L2959.1 535.1L2959.4 504.2L2959.8 530.4L2960.1 526.4L2960.5 523.7L2960.8 517.9L2961.2 526.1L2961.5 504.8L2961.9 507.3L2962.2 511.5L2962.6 514.7L2962.9 514.1L2963.3 527.8L2963.6 542.3L2964.0 524.6L2964.3 520.2L2964.7 517.7L2965.0 501.7L2965.4 515.9L2965.7 520.2L2966.1 520.3L2966.4 530.7L2966.8 552.6L2967.1 550.9L2967.5 535.7L2967.8 526.6L2968.2 536.1L2968.5 520.3L2968.9 540.2L2969.2 514.0L2969.6 540.3L2969.9 483.0L2970.3 512.3L2970.6 511.9L2971.0 526.4L2971.3 511.9L2971.7 517.7L2972.0 511.2L2972.4 505.8L2972.7 513.4L2973.1 493.9L2973.4 522.1L2973.8 501.5L2974.1 507.7L2974.5 504.5L2974.8 497.0L2975.2 495.0L2975.5 530.6L2975.9 502.4L2976.2 526.3L2976.6 490.1L2976.9 512.1L2977.3 506.8L2977.7 511.7L2978.0 511.1L2978.4 517.7L2978.7 514.8L2979.1 516.0L2979.4 551.7L2979.8 535.1L2980.1 523.4L2980.5 527.0L2980.8 516.8L2981.2 526.9L2981.5 518.8L2981.9 503.3L2982.2 507.7L2982.6 511.3L2982.9 529.7L2983.3 557.3L2983.6 520.8L2984.0 522.9L2984.3 535.1L2984.7 530.1L2985.0 531.2L2985.4 534.2L2985.7 529.6L2986.1 531.4L2986.4 520.1L2986.8 524.0L2987.1 530.6L2987.5 531.0L2987.8 533.9L2988.2 542.9L2988.5 539.3L2988.9 521.9L2989.2 515.8L2989.6 536.8L2989.9 522.5L2990.3 550.7L2990.6 543.7L2991.0 532.8L2991.3 537.8L2991.7 516.7L2992.0 535.9L2992.4 546.8L2992.7 495.4L2993.1 554.1L2993.4 539.6L2993.8 521.3L2994.1 542.6L2994.5 529.6L2994.8 534.6L2995.2 572.1L2995.5 525.0L2995.9 543.4L2996.2 538.6L2996.6 550.3L2996.9 523.2L2997.3 547.1L2997.7 579.0L2998.0 537.4L2998.4 542.4L2998.7 550.0L2999.1 559.7L2999.4 542.3L2999.8 541.1L3000.1 559.7L3000.5 524.6L3000.8 542.5L3001.2 543.9L3001.5 548.1L3001.9 543.7L3002.2 555.5L3002.6 532.3L3002.9 548.2L3003.3 551.6L3003.6 539.7L3004.0 548.2L3004.3 551.6L3004.7 554.2L3005.0 535.0L3005.4 537.8L3005.7 536.1L3006.1 531.6L3006.4 536.4L3006.8 524.7L3007.1 517.7L3007.5 517.6L3007.8 519.7L3008.2 514.5L3008.5 516.3L3008.9 540.2L3009.2 517.1L3009.6 486.4L3009.9 503.7L3010.3 516.1L3010.6 498.2L3011.0 502.2L3011.3 522.5L3011.7 500.6L3012.0 495.1L3012.4 522.8L3012.7 496.5L3013.1 508.2L3013.4 518.7L3013.8 502.6L3014.1 502.2L3014.5 507.3L3014.8 488.0L3015.2 434.0L3015.5 486.5L3015.9 491.9L3016.2 491.7L3016.6 499.3L3016.9 507.7L3017.3 491.0L3017.6 496.4L3018.0 487.1L3018.4 502.6L3018.7 468.3L3019.1 495.4L3019.4 488.1L3019.8 475.9L3020.1 490.5L3020.5 511.2L3020.8 504.3L3021.2 521.7L3021.5 529.5L3021.9 505.8L3022.2 496.6L3022.6 528.3L3022.9 523.7L3023.3 512.6L3023.6 512.7L3024.0 519.7L3024.3 520.5L3024.7 522.5L3025.0 493.1L3025.4 555.6L3025.7 526.3L3026.1 533.0L3026.4 523.3L3026.8 515.9L3027.1 526.7L3027.5 531.0L3027.8 545.2L3028.2 562.1L3028.5 531.6L3028.9 526.6L3029.2 534.2L3029.6 518.7L3029.9 542.7L3030.3 535.0L3030.6 526.9L3031.0 522.9L3031.3 528.6L3031.7 534.5L3032.0 536.1L3032.4 510.2L3032.7 541.1L3033.1 541.5L3033.4 523.5L3033.8 541.1L3034.1 543.8L3034.5 541.3L3034.8 559.3L3035.2 541.9L3035.5 581.0L3035.9 563.7L3036.2 554.0L3036.6 564.3L3036.9 548.6L3037.3 537.4L3037.6 555.8L3038.0 557.5L3038.4 563.1L3038.7 553.6L3039.1 564.4L3039.4 559.2L3039.8 561.1L3040.1 569.7L3040.5 559.8L3040.8 535.4L3041.2 521.3L3041.5 540.3L3041.9 565.1L3042.2 565.7L3042.6 556.3L3042.9 559.7L3043.3 554.8L3043.6 566.1L3044.0 556.5L3044.3 559.8L3044.7 562.1L3045.0 558.2L3045.4 565.4L3045.7 545.0L3046.1 549.8L3046.4 551.1L3046.8 542.3L3047.1 574.3L3047.5 553.5L3047.8 562.3L3048.2 555.8L3048.5 556.5L3048.9 554.8L3049.2 566.1L3049.6 559.8L3049.9 567.8L3050.3 548.6L3050.6 553.9L3051.0 563.5L3051.3 576.8L3051.7 536.2L3052.0 564.7L3052.4 568.6L3052.7 527.1L3053.1 524.0L3053.4 576.6L3053.8 566.3L3054.1 576.0L3054.5 570.4L3054.8 585.2L3055.2 570.8L3055.5 558.4L3055.9 562.9L3056.2 560.3L3056.6 546.1L3056.9 569.5L3057.3 575.6L3057.6 582.7L3058.0 564.9L3058.3 543.6L3058.7 547.8L3059.1 564.9L3059.4 561.9L3059.8 571.1L3060.1 572.4L3060.5 574.7L3060.8 562.5L3061.2 555.1L3061.5 605.4L3061.9 542.7L3062.2 553.4L3062.6 575.2L3062.9 550.8L3063.3 568.8L3063.6 575.7L3064.0 568.2L3064.3 565.5L3064.7 545.8L3065.0 569.2L3065.4 559.4L3065.7 560.2L3066.1 555.8L3066.4 568.5L3066.8 561.6L3067.1 566.9L3067.5 570.0L3067.8 584.0L3068.2 569.1L3068.5 557.0L3068.9 575.9L3069.2 582.4L3069.6 570.3L3069.9 574.3L3070.3 561.1L3070.6 549.2L3071.0 555.6L3071.3 557.1L3071.7 565.0L3072.0 563.2L3072.4 552.3L3072.7 575.5L3073.1 533.7L3073.4 574.1L3073.8 570.4L3074.1 611.3L3074.5 578.8L3074.8 590.6L3075.2 570.4L3075.5 549.1L3075.9 543.7L3076.2 560.9L3076.6 575.3L3076.9 594.1L3077.3 600.9L3077.6 571.2L3078.0 586.3L3078.3 574.6L3078.7 570.7L3079.1 580.1L3079.4 572.1L3079.8 596.7L3080.1 603.3L3080.5 586.0L3080.8 584.0L3081.2 590.2L3081.5 588.1L3081.9 585.5L3082.2 584.1L3082.6 588.7L3082.9 583.3L3083.3 591.1L3083.6 599.4L3084.0 583.7L3084.3 584.2L3084.7 581.6L3085.0 596.7L3085.4 580.2L3085.7 585.2L3086.1 586.8L3086.4 571.8L3086.8 590.4L3087.1 576.0L3087.5 571.3L3087.8 581.1L3088.2 560.0L3088.5 567.6L3088.9 567.1L3089.2 564.9L3089.6 570.7L3089.9 583.2L3090.3 576.6L3090.6 579.7L3091.0 581.0L3091.3 584.8L3091.7 561.1L3092.0 578.9L3092.4 565.5L3092.7 567.4L3093.1 572.7L3093.4 552.8L3093.8 581.3L3094.1 579.9L3094.5 527.0L3094.8 562.0L3095.2 577.0L3095.5 579.5L3095.9 570.1L3096.2 569.1L3096.6 567.6L3096.9 549.4L3097.3 556.7L3097.6 567.1L3098.0 551.1L3098.3 553.6L3098.7 524.2L3099.1 539.7L3099.4 548.5L3099.8 561.0L3100.1 548.3L3100.5 514.9L3100.8 542.5L3101.2 575.9L3101.5 556.7L3101.9 559.1L3102.2 554.5L3102.6 553.8L3102.9 547.2L3103.3 561.4L3103.6 555.2L3104.0 532.9L3104.3 558.9L3104.7 544.7L3105.0 522.2L3105.4 546.3L3105.7 537.3L3106.1 528.4L3106.4 524.9L3106.8 511.3L3107.1 471.0L3107.5 529.9L3107.8 531.9L3108.2 529.7L3108.5 533.2L3108.9 530.4L3109.2 540.8L3109.6 545.9L3109.9 535.3L3110.3 537.8L3110.6 556.4L3111.0 532.1L3111.3 553.8L3111.7 529.4L3112.0 527.8L3112.4 540.5L3112.7 528.5L3113.1 541.0L3113.4 521.3L3113.8 517.4L3114.1 533.0L3114.5 535.2L3114.8 520.8L3115.2 516.1L3115.5 545.4L3115.9 533.5L3116.2 542.1L3116.6 529.2L3116.9 564.3L3117.3 542.3L3117.6 538.8L3118.0 546.2L3118.3 551.7L3118.7 537.1L3119.0 566.8L3119.4 569.2L3119.8 554.3L3120.1 560.6L3120.5 571.8L3120.8 566.7L3121.2 571.6L3121.5 565.7L3121.9 524.3L3122.2 567.6L3122.6 583.2L3122.9 565.2L3123.3 541.2L3123.6 581.9L3124.0 565.1L3124.3 565.3L3124.7 570.3L3125.0 561.6L3125.4 593.5L3125.7 578.5L3126.1 562.8L3126.4 562.0L3126.8 583.2L3127.1 580.7L3127.5 585.7L3127.8 550.7L3128.2 582.8L3128.5 560.5L3128.9 580.1L3129.2 582.6L3129.6 576.0L3129.9 577.3L3130.3 605.2L3130.6 588.0L3131.0 572.1L3131.3 610.6L3131.7 578.2L3132.0 575.2L3132.4 565.9L3132.7 588.4L3133.1 578.2L3133.4 613.6L3133.8 577.0L3134.1 575.2L3134.5 571.7L3134.8 579.0L3135.2 565.1L3135.5 574.8L3135.9 562.0L3136.2 555.9L3136.6 538.4L3136.9 563.8L3137.3 565.7L3137.6 577.8L3138.0 563.1L3138.3 593.9L3138.7 553.6L3139.0 559.0L3139.4 569.8L3139.8 553.6L3140.1 566.6L3140.5 571.9L3140.8 574.3L3141.2 568.7L3141.5 561.0L3141.9 563.1L3142.2 548.1L3142.6 576.4L3142.9 564.7L3143.3 580.5L3143.6 568.0L3144.0 567.5L3144.3 579.4L3144.7 551.7L3145.0 575.8L3145.4 573.6L3145.7 571.6L3146.1 545.0L3146.4 573.2L3146.8 579.6L3147.1 578.7L3147.5 571.4L3147.8 595.9L3148.2 581.5L3148.5 579.4L3148.9 585.1L3149.2 589.2L3149.6 590.9L3149.9 586.7L3150.3 585.3L3150.6 602.6L3151.0 591.1L3151.3 601.4L3151.7 567.6L3152.0 584.7L3152.4 593.1L3152.7 597.6L3153.1 600.0L3153.4 616.5L3153.8 601.2L3154.1 606.6L3154.5 599.4L3154.8 629.2L3155.2 603.3L3155.5 609.7L3155.9 594.3L3156.2 607.9L3156.6 600.1L3156.9 577.9L3157.3 603.8L3157.6 599.0L3158.0 589.4L3158.3 588.2L3158.7 572.6L3159.0 600.9L3159.4 601.8L3159.8 617.7L3160.1 609.0L3160.5 596.2L3160.8 595.2L3161.2 599.5L3161.5 616.3L3161.9 596.3L3162.2 584.3L3162.6 589.5L3162.9 603.7L3163.3 605.5L3163.6 598.7L3164.0 603.5L3164.3 601.2L3164.7 591.2L3165.0 590.3L3165.4 592.2L3165.7 584.0L3166.1 588.4L3166.4 596.6L3166.8 577.0L3167.1 590.8L3167.5 584.7L3167.8 589.8L3168.2 588.4L3168.5 579.2L3168.9 593.6L3169.2 594.2L3169.6 582.4L3169.9 582.6L3170.3 584.6L3170.6 602.8L3171.0 614.2L3171.3 608.3L3171.7 591.8L3172.0 605.1L3172.4 574.6L3172.7 583.9L3173.1 596.8L3173.4 583.3L3173.8 579.0L3174.1 597.4L3174.5 591.0L3174.8 594.9L3175.2 601.8L3175.5 562.4L3175.9 583.2L3176.2 586.7L3176.6 593.8L3176.9 597.4L3177.3 593.3L3177.6 575.0L3178.0 589.4L3178.3 599.4L3178.7 607.0L3179.0 608.9L3179.4 592.1L3179.7 599.5L3180.1 597.5L3180.5 582.3L3180.8 589.4L3181.2 585.7L3181.5 600.8L3181.9 594.2L3182.2 589.7L3182.6 590.6L3182.9 606.0L3183.3 586.3L3183.6 584.9L3184.0 582.4L3184.3 593.7L3184.7 593.1L3185.0 590.9L3185.4 595.7L3185.7 597.5L3186.1 612.6L3186.4 610.1L3186.8 614.1L3187.1 586.8L3187.5 591.6L3187.8 576.3L3188.2 583.0L3188.5 578.2L3188.9 583.8L3189.2 587.4L3189.6 593.1L3189.9 586.1L3190.3 564.3L3190.6 580.7L3191.0 575.6L3191.3 602.3L3191.7 601.2L3192.0 617.1L3192.4 595.9L3192.7 606.4L3193.1 612.3L3193.4 615.7L3193.8 606.3L3194.1 605.6L3194.5 596.9L3194.8 600.8L3195.2 604.2L3195.5 609.3L3195.9 615.7L3196.2 607.2L3196.6 625.1L3196.9 620.4L3197.3 623.3L3197.6 608.2L3198.0 644.1L3198.3 644.4L3198.7 631.5L3199.0 654.9L3199.4 650.5L3199.7 684.9L3200.1 655.2L3200.5 666.0L3200.8 660.8L3201.2 637.2L3201.5 660.7L3201.9 684.7L3202.2 670.2L3202.6 691.3L3202.9 672.0L3203.3 682.8L3203.6 677.4L3204.0 697.9L3204.3 680.1L3204.7 689.5L3205.0 696.0L3205.4 689.5L3205.7 700.2L3206.1 677.1L3206.4 660.9L3206.8 689.7L3207.1 666.1L3207.5 677.2L3207.8 690.0L3208.2 707.0L3208.5 688.8L3208.9 697.8L3209.2 709.0L3209.6 709.8L3209.9 710.6L3210.3 685.0L3210.6 674.3L3211.0 686.3L3211.3 699.5L3211.7 714.1L3212.0 709.3L3212.4 657.6L3212.7 715.3L3213.1 714.3L3213.4 705.7L3213.8 687.5L3214.1 681.5L3214.5 685.0L3214.8 684.9L3215.2 668.1L3215.5 683.1L3215.9 674.8L3216.2 703.0L3216.6 692.2L3216.9 692.8L3217.3 670.5L3217.6 693.7L3218.0 689.5L3218.3 685.2L3218.7 695.7L3219.0 690.4L3219.4 698.9L3219.7 702.5L3220.1 698.2L3220.4 695.7L3220.8 716.7L3221.2 693.2L3221.5 702.5L3221.9 671.1L3222.2 695.8L3222.6 687.6L3222.9 688.5L3223.3 694.8L3223.6 674.1L3224.0 672.4L3224.3 718.3L3224.7 693.6L3225.0 718.3L3225.4 688.5L3225.7 709.4L3226.1 697.0L3226.4 738.2L3226.8 691.1L3227.1 688.3L3227.5 682.9L3227.8 665.3L3228.2 669.1L3228.5 697.9L3228.9 688.0L3229.2 697.0L3229.6 688.7L3229.9 717.4L3230.3 697.7L3230.6 689.2L3231.0 690.1L3231.3 695.4L3231.7 690.6L3232.0 693.8L3232.4 680.1L3232.7 699.3L3233.1 673.1L3233.4 677.9L3233.8 658.7L3234.1 671.7L3234.5 688.9L3234.8 684.4L3235.2 676.0L3235.5 677.9L3235.9 702.4L3236.2 667.0L3236.6 692.6L3236.9 668.8L3237.3 693.3L3237.6 706.4L3238.0 689.8L3238.3 675.3L3238.7 681.6L3239.0 658.7L3239.4 680.1L3239.7 670.4L3240.1 643.7L3240.4 678.7L3240.8 673.4L3241.2 660.0L3241.5 663.5L3241.9 654.7L3242.2 672.0L3242.6 676.4L3242.9 675.7L3243.3 721.9L3243.6 681.4L3244.0 684.8L3244.3 657.1L3244.7 626.8L3245.0 649.5L3245.4 653.4L3245.7 669.6L3246.1 673.4L3246.4 667.2L3246.8 669.2L3247.1 666.9L3247.5 676.6L3247.8 676.2L3248.2 675.4L3248.5 667.6L3248.9 700.2L3249.2 666.7L3249.6 646.0L3249.9 645.9L3250.3 680.4L3250.6 657.9L3251.0 685.8L3251.3 675.7L3251.7 654.0L3252.0 679.2L3252.4 664.1L3252.7 698.2L3253.1 644.6L3253.4 677.2L3253.8 673.6L3254.1 657.0L3254.5 656.2L3254.8 657.8L3255.2 670.7L3255.5 672.7L3255.9 686.2L3256.2 626.6L3256.6 679.0L3256.9 682.2L3257.3 687.9L3257.6 674.6L3258.0 659.3L3258.3 668.6L3258.7 673.1L3259.0 679.0L3259.4 624.6L3259.7 678.9L3260.1 677.7L3260.4 673.1L3260.8 681.2L3261.2 662.3L3261.5 666.6L3261.9 688.7L3262.2 624.2L3262.6 646.2L3262.9 700.3L3263.3 660.6L3263.6 672.5L3264.0 671.5L3264.3 660.9L3264.7 684.2L3265.0 682.0L3265.4 671.6L3265.7 669.8L3266.1 652.6L3266.4 644.0L3266.8 650.7L3267.1 665.8L3267.5 669.7L3267.8 668.9L3268.2 679.1L3268.5 678.4L3268.9 663.5L3269.2 678.4L3269.6 660.9L3269.9 683.8L3270.3 667.0L3270.6 663.7L3271.0 665.9L3271.3 660.5L3271.7 665.1L3272.0 665.7L3272.4 684.7L3272.7 680.1L3273.1 667.8L3273.4 705.1L3273.8 678.1L3274.1 678.9L3274.5 674.3L3274.8 680.2L3275.2 683.2L3275.5 692.7L3275.9 681.1L3276.2 694.0L3276.6 673.3L3276.9 683.3L3277.3 694.7L3277.6 705.4L3278.0 702.3L3278.3 675.2L3278.7 693.6L3279.0 679.4L3279.4 702.2L3279.7 692.0L3280.1 713.8L3280.4 711.7L3280.8 682.7L3281.1 675.9L3281.5 681.1L3281.9 677.4L3282.2 670.5L3282.6 675.5L3282.9 663.9L3283.3 683.2L3283.6 674.0L3284.0 683.8L3284.3 685.7L3284.7 692.0L3285.0 689.8L3285.4 684.3L3285.7 690.4L3286.1 684.3L3286.4 712.6L3286.8 688.0L3287.1 688.8L3287.5 682.5L3287.8 687.6L3288.2 679.0L3288.5 703.7L3288.9 677.0L3289.2 697.3L3289.6 695.8L3289.9 702.4L3290.3 701.3L3290.6 673.5L3291.0 677.3L3291.3 697.0L3291.7 689.2L3292.0 681.7L3292.4 674.4L3292.7 704.1L3293.1 689.0L3293.4 649.8L3293.8 642.3L3294.1 676.0L3294.5 683.4L3294.8 684.2L3295.2 686.2L3295.5 696.4L3295.9 675.8L3296.2 679.8L3296.6 658.9L3296.9 677.8L3297.3 665.5L3297.6 693.8L3298.0 685.6L3298.3 675.9L3298.7 684.6L3299.0 713.0L3299.4 682.3L3299.7 678.4L3300.1 711.3L3300.4 706.0L3300.8 697.2L3301.1 687.0L3301.5 707.3L3301.9 678.6L3302.2 674.8L3302.6 687.1L3302.9 690.7L3303.3 698.6L3303.6 706.6L3304.0 708.9L3304.3 701.2L3304.7 695.9L3305.0 711.9L3305.4 682.2L3305.7 688.5L3306.1 693.2L3306.4 688.3L3306.8 683.7L3307.1 671.6L3307.5 685.8L3307.8 680.3L3308.2 685.0L3308.5 658.6L3308.9 678.2L3309.2 689.3L3309.6 682.4L3309.9 696.6L3310.3 708.1L3310.6 729.1L3311.0 728.5L3311.3 683.0L3311.7 663.1L3312.0 672.3L3312.4 688.4L3312.7 686.5L3313.1 680.2L3313.4 684.3L3313.8 681.1L3314.1 674.7L3314.5 643.2L3314.8 674.4L3315.2 675.3L3315.5 690.6L3315.9 696.7L3316.2 647.2L3316.6 680.3L3316.9 650.0L3317.3 701.3L3317.6 678.5L3318.0 692.8L3318.3 690.3L3318.7 657.8L3319.0 665.7L3319.4 688.6L3319.7 674.4L3320.1 663.9L3320.4 683.6L3320.8 671.2L3321.1 673.7L3321.5 682.0L3321.8 677.1L3322.2 677.0L3322.6 690.3L3322.9 691.2L3323.3 685.6L3323.6 687.2L3324.0 705.4L3324.3 695.1L3324.7 682.4L3325.0 701.6L3325.4 673.1L3325.7 689.5L3326.1 674.3L3326.4 680.3L3326.8 614.0L3327.1 679.9L3327.5 667.8L3327.8 680.1L3328.2 687.2L3328.5 683.0L3328.9 683.4L3329.2 713.3L3329.6 727.2L3329.9 686.0L3330.3 717.0L3330.6 710.6L3331.0 701.2L3331.3 695.7L3331.7 676.4L3332.0 678.3L3332.4 683.8L3332.7 714.1L3333.1 692.7L3333.4 702.1L3333.8 690.6L3334.1 701.3L3334.5 698.3L3334.8 698.4L3335.2 684.6L3335.5 701.5L3335.9 701.6L3336.2 704.7L3336.6 719.0L3336.9 700.3L3337.3 705.6L3337.6 708.7L3338.0 708.0L3338.3 712.6L3338.7 693.7L3339.0 654.3L3339.4 720.1L3339.7 710.9L3340.1 709.5L3340.4 674.0L3340.8 701.3L3341.1 703.0L3341.5 700.1L3341.8 696.1L3342.2 717.8L3342.6 704.2L3342.9 708.1L3343.3 688.0L3343.6 671.4L3344.0 700.0L3344.3 699.8L3344.7 700.9L3345.0 695.8L3345.4 695.1L3345.7 688.5L3346.1 704.9L3346.4 697.1L3346.8 719.7L3347.1 695.5L3347.5 704.2L3347.8 696.7L3348.2 682.3L3348.5 666.1L3348.9 684.3L3349.2 685.1L3349.6 694.6L3349.9 689.2L3350.3 699.5L3350.6 715.0L3351.0 716.6L3351.3 679.8L3351.7 712.2L3352.0 698.7L3352.4 708.4L3352.7 715.0L3353.1 693.5L3353.4 694.0L3353.8 697.0L3354.1 683.1L3354.5 706.4L3354.8 706.9L3355.2 743.1L3355.5 706.4L3355.9 690.9L3356.2 723.7L3356.6 703.8L3356.9 648.2L3357.3 693.8L3357.6 689.4L3358.0 678.0L3358.3 696.0L3358.7 713.4L3359.0 687.8L3359.4 703.8L3359.7 699.1L3360.1 687.8L3360.4 688.4L3360.8 696.5L3361.1 677.0L3361.5 688.4L3361.8 692.9L3362.2 704.1L3362.6 689.9L3362.9 697.6L3363.3 676.2L3363.6 695.8L3364.0 732.7L3364.3 687.2L3364.7 674.2L3365.0 693.1L3365.4 696.0L3365.7 709.8L3366.1 695.6L3366.4 699.4L3366.8 703.8L3367.1 684.8L3367.5 684.9L3367.8 700.8L3368.2 715.9L3368.5 702.2L3368.9 693.7L3369.2 689.5L3369.6 654.3L3369.9 686.0L3370.3 694.3L3370.6 689.7L3371.0 706.5L3371.3 732.0L3371.7 713.2L3372.0 716.9L3372.4 713.2L3372.7 725.2L3373.1 731.4L3373.4 710.5L3373.8 717.5L3374.1 734.3L3374.5 712.7L3374.8 715.5L3375.2 727.8L3375.5 726.8L3375.9 674.7L3376.2 732.4L3376.6 714.6L3376.9 716.9L3377.3 706.3L3377.6 717.1L3378.0 640.0L3378.3 696.9L3378.7 701.9L3379.0 690.6L3379.4 746.7L3379.7 708.4L3380.1 709.4L3380.4 696.2L3380.8 706.2L3381.1 714.9L3381.5 690.1L3381.8 676.2L3382.2 698.5L3382.5 695.1L3382.9 706.7L3383.3 707.0L3383.6 701.0L3384.0 656.5L3384.3 688.5L3384.7 678.6L3385.0 680.7L3385.4 688.1L3385.7 694.6L3386.1 691.7L3386.4 698.6L3386.8 707.1L3387.1 677.5L3387.5 681.3L3387.8 686.4L3388.2 700.9L3388.5 678.7L3388.9 717.9L3389.2 696.0L3389.6 741.3L3389.9 697.7L3390.3 703.6L3390.6 707.8L3391.0 701.1L3391.3 699.7L3391.7 672.1L3392.0 701.0L3392.4 676.6L3392.7 697.3L3393.1 709.3L3393.4 714.5L3393.8 722.6L3394.1 712.1L3394.5 712.7L3394.8 717.5L3395.2 712.0L3395.5 683.4L3395.9 706.2L3396.2 717.9L3396.6 693.4L3396.9 723.1L3397.3 717.0L3397.6 718.2L3398.0 708.8L3398.3 734.4L3398.7 716.1L3399.0 719.6L3399.4 714.2L3399.7 700.9L3400.1 698.1L3400.4 701.4L3400.8 684.8L3401.1 715.6L3401.5 724.1L3401.8 724.0L3402.2 703.0L3402.5 689.7L3402.9 708.9L3403.3 715.6L3403.6 718.5L3404.0 712.6L3404.3 708.4L3404.7 691.1L3405.0 696.5L3405.4 744.9L3405.7 698.3L3406.1 703.9L3406.4 702.2L3406.8 707.2L3407.1 715.5L3407.5 691.6L3407.8 702.7L3408.2 703.8L3408.5 741.6L3408.9 704.5L3409.2 692.3L3409.6 726.0L3409.9 691.2L3410.3 705.3L3410.6 688.9L3411.0 711.0L3411.3 700.2L3411.7 723.4L3412.0 707.9L3412.4 730.2L3412.7 721.3L3413.1 708.2L3413.4 707.9L3413.8 704.6L3414.1 718.9L3414.5 702.4L3414.8 706.3L3415.2 690.1L3415.5 696.8L3415.9 686.9L3416.2 704.4L3416.6 696.1L3416.9 687.5L3417.3 684.6L3417.6 688.0L3418.0 688.1L3418.3 670.3L3418.7 708.9L3419.0 689.7L3419.4 707.6L3419.7 726.4L3420.1 715.0L3420.4 686.3L3420.8 701.8L3421.1 697.0L3421.5 711.0L3421.8 696.0L3422.2 691.2L3422.5 692.6L3422.9 687.3L3423.2 713.4L3423.6 701.8L3424.0 702.7L3424.3 709.1L3424.7 675.3L3425.0 693.3L3425.4 690.5L3425.7 701.0L3426.1 689.3L3426.4 703.2L3426.8 706.8L3427.1 709.6L3427.5 705.8L3427.8 679.9L3428.2 659.6L3428.5 677.1L3428.9 698.9L3429.2 690.6L3429.6 699.9L3429.9 701.6L3430.3 720.9L3430.6 689.5L3431.0 719.7L3431.3 689.8L3431.7 708.1L3432.0 706.3L3432.4 701.0L3432.7 701.4L3433.1 701.5L3433.4 699.8L3433.8 722.6L3434.1 701.4L3434.5 704.4L3434.8 692.6L3435.2 742.4L3435.5 673.5L3435.9 693.6L3436.2 701.2L3436.6 682.5L3436.9 690.5L3437.3 693.8L3437.6 686.1L3438.0 697.6L3438.3 676.6L3438.7 686.8L3439.0 670.6L3439.4 669.6L3439.7 689.8L3440.1 680.1L3440.4 674.8L3440.8 684.1L3441.1 695.2L3441.5 691.7L3441.8 679.1L3442.2 665.6L3442.5 680.9L3442.9 659.2L3443.2 683.6L3443.6 698.0L3444.0 697.3L3444.3 697.9L3444.7 678.8L3445.0 656.7L3445.4 693.5L3445.7 687.4L3446.1 689.8L3446.4 685.3L3446.8 700.1L3447.1 685.2L3447.5 674.9L3447.8 659.2L3448.2 684.6L3448.5 675.8L3448.9 692.2L3449.2 671.4L3449.6 679.1L3449.9 694.1L3450.3 671.1L3450.6 675.6L3451.0 681.6L3451.3 682.8L3451.7 673.8L3452.0 667.1L3452.4 684.2L3452.7 697.1L3453.1 694.1L3453.4 684.6L3453.8 675.3L3454.1 708.4L3454.5 692.5L3454.8 696.4L3455.2 682.3L3455.5 687.1L3455.9 698.1L3456.2 675.9L3456.6 688.8L3456.9 656.0L3457.3 691.9L3457.6 679.6L3458.0 676.8L3458.3 671.4L3458.7 682.2L3459.0 686.8L3459.4 679.8L3459.7 686.5L3460.1 674.4L3460.4 684.5L3460.8 674.8L3461.1 689.8L3461.5 664.8L3461.8 699.0L3462.2 660.3L3462.5 693.8L3462.9 673.3L3463.2 691.3L3463.6 680.6L3464.0 698.0L3464.3 694.2L3464.7 687.1L3465.0 703.5L3465.4 686.9L3465.7 700.0L3466.1 698.0L3466.4 657.8L3466.8 662.2L3467.1 669.9L3467.5 685.2L3467.8 677.2L3468.2 701.5L3468.5 655.0L3468.9 693.2L3469.2 691.6L3469.6 682.3L3469.9 683.9L3470.3 674.1L3470.6 674.3L3471.0 662.0L3471.3 654.6L3471.7 632.0L3472.0 670.0L3472.4 666.1L3472.7 681.1L3473.1 676.3L3473.4 664.6L3473.8 686.9L3474.1 668.5L3474.5 680.0L3474.8 647.2L3475.2 670.6L3475.5 687.4L3475.9 675.3L3476.2 673.0L3476.6 672.8L3476.9 683.1L3477.3 685.5L3477.6 713.8L3478.0 649.7L3478.3 659.7L3478.7 652.3L3479.0 642.1L3479.4 632.6L3479.7 663.9L3480.1 646.7L3480.4 648.8L3480.8 642.6L3481.1 662.6L3481.5 644.8L3481.8 682.4L3482.2 693.6L3482.5 675.9L3482.9 665.6L3483.2 651.7L3483.6 644.7L3483.9 648.5L3484.3 649.0L3484.7 647.9L3485.0 661.1L3485.4 664.8L3485.7 660.6L3486.1 657.5L3486.4 668.8L3486.8 641.3L3487.1 648.2L3487.5 707.4L3487.8 668.6L3488.2 666.5L3488.5 654.3L3488.9 618.0L3489.2 634.4L3489.6 659.7L3489.9 663.6L3490.3 674.7L3490.6 663.0L3491.0 662.3L3491.3 661.0L3491.7 661.2L3492.0 648.8L3492.4 655.1L3492.7 680.6L3493.1 666.8L3493.4 666.0L3493.8 667.5L3494.1 671.5L3494.5 659.8L3494.8 654.9L3495.2 691.5L3495.5 658.1L3495.9 665.4L3496.2 668.9L3496.6 683.1L3496.9 674.6L3497.3 681.7L3497.6 683.8L3498.0 713.2L3498.3 665.1L3498.7 661.1L3499.0 682.7L3499.4 675.7L3499.7 684.0L3500.1 693.9L3500.4 680.2L3500.8 682.3L3501.1 687.3L3501.5 681.6L3501.8 683.2L3502.2 715.4L3502.5 704.7L3502.9 699.5L3503.2 690.1L3503.6 685.0L3503.9 685.6L3504.3 676.5L3504.7 676.5L3505.0 711.1L3505.4 702.8L3505.7 686.7L3506.1 686.1L3506.4 711.6L3506.8 697.1L3507.1 682.7L3507.5 703.3L3507.8 712.6L3508.2 731.7L3508.5 719.6L3508.9 703.4L3509.2 666.2L3509.6 677.1L3509.9 705.1L3510.3 711.0L3510.6 694.7L3511.0 695.0L3511.3 698.7L3511.7 679.0L3512.0 684.4L3512.4 692.4L3512.7 695.5L3513.1 665.3L3513.4 686.8L3513.8 672.8L3514.1 681.0L3514.5 700.6L3514.8 692.5L3515.2 673.3L3515.5 674.2L3515.9 711.1L3516.2 676.8L3516.6 670.4L3516.9 664.9L3517.3 668.6L3517.6 671.8L3518.0 697.7L3518.3 673.9L3518.7 634.4L3519.0 680.4L3519.4 710.8L3519.7 711.1L3520.1 684.2L3520.4 675.6L3520.8 699.3L3521.1 683.4L3521.5 694.5L3521.8 689.7L3522.2 689.5L3522.5 664.8L3522.9 694.1L3523.2 697.9L3523.6 738.9L3523.9 702.2L3524.3 692.8L3524.7 695.5L3525.0 701.0L3525.4 701.4L3525.7 717.0L3526.1 707.7L3526.4 650.8L3526.8 698.4L3527.1 705.6L3527.5 713.5L3527.8 711.9L3528.2 697.0L3528.5 745.2L3528.9 697.0L3529.2 711.3L3529.6 700.4L3529.9 687.9L3530.3 683.3L3530.6 705.0L3531.0 715.1L3531.3 712.7L3531.7 690.1L3532.0 694.3L3532.4 717.7L3532.7 693.7L3533.1 705.6L3533.4 674.8L3533.8 692.2L3534.1 666.5L3534.5 692.4L3534.8 685.8L3535.2 705.7L3535.5 699.4L3535.9 712.3L3536.2 702.5L3536.6 695.7L3536.9 680.1L3537.3 682.3L3537.6 678.0L3538.0 701.4L3538.3 655.9L3538.7 675.0L3539.0 670.4L3539.4 721.0L3539.7 689.9L3540.1 673.2L3540.4 681.4L3540.8 674.2L3541.1 669.0L3541.5 661.2L3541.8 663.4L3542.2 676.1L3542.5 647.0L3542.9 689.7L3543.2 685.9L3543.6 676.4L3543.9 670.7L3544.3 665.3L3544.6 663.5L3545.0 665.2L3545.4 671.2L3545.7 667.4L3546.1 655.4L3546.4 633.3L3546.8 655.9L3547.1 667.0L3547.5 683.0L3547.8 675.4L3548.2 701.4L3548.5 664.2L3548.9 694.3L3549.2 650.7L3549.6 667.9L3549.9 671.3L3550.3 670.1L3550.6 682.5L3551.0 696.2L3551.3 688.9L3551.7 682.7L3552.0 664.1L3552.4 716.3L3552.7 676.0L3553.1 674.9L3553.4 695.8L3553.8 694.8L3554.1 671.3L3554.5 681.0L3554.8 682.6L3555.2 677.5L3555.5 678.8L3555.9 662.7L3556.2 675.6L3556.6 700.1L3556.9 679.2L3557.3 701.6L3557.6 656.0L3558.0 641.8L3558.3 693.8L3558.7 674.1L3559.0 672.3L3559.4 688.0L3559.7 698.0L3560.1 667.5L3560.4 678.6L3560.8 662.1L3561.1 687.5L3561.5 683.0L3561.8 692.9L3562.2 697.7L3562.5 652.2L3562.9 669.7L3563.2 682.0L3563.6 697.5L3563.9 684.1L3564.3 698.0L3564.6 688.9L3565.0 686.5L3565.4 664.9L3565.7 706.6L3566.1 675.1L3566.4 677.4L3566.8 682.4L3567.1 683.2L3567.5 688.1L3567.8 709.6L3568.2 694.5L3568.5 697.7L3568.9 669.3L3569.2 682.4L3569.6 674.5L3569.9 663.8L3570.3 679.6L3570.6 664.7L3571.0 676.6L3571.3 687.8L3571.7 689.5L3572.0 684.0L3572.4 655.3L3572.7 659.3L3573.1 668.4L3573.4 684.9L3573.8 658.1L3574.1 675.1L3574.5 677.6L3574.8 698.0L3575.2 693.6L3575.5 696.3L3575.9 672.2L3576.2 675.9L3576.6 692.6L3576.9 677.5L3577.3 679.6L3577.6 680.7L3578.0 702.3L3578.3 698.8L3578.7 714.7L3579.0 701.8L3579.4 684.3L3579.7 689.2L3580.1 667.1L3580.4 682.9L3580.8 680.2L3581.1 694.1L3581.5 681.3L3581.8 664.6L3582.2 691.0L3582.5 647.0L3582.9 660.7L3583.2 691.3L3583.6 692.3L3583.9 701.7L3584.3 662.9L3584.6 684.5L3585.0 674.3L3585.3 674.0L3585.7 696.1L3586.1 670.7L3586.4 684.6L3586.8 669.2L3587.1 667.3L3587.5 668.2L3587.8 659.3L3588.2 640.2L3588.5 660.6L3588.9 651.2L3589.2 659.2L3589.6 647.9L3589.9 659.8L3590.3 644.2L3590.6 652.9L3591.0 653.2L3591.3 668.9L3591.7 683.0L3592.0 676.5L3592.4 677.4L3592.7 672.6L3593.1 683.8L3593.4 684.1L3593.8 708.3L3594.1 666.2L3594.5 684.1L3594.8 717.2L3595.2 697.4L3595.5 690.8L3595.9 667.9L3596.2 682.4L3596.6 683.0L3596.9 690.3L3597.3 677.9L3597.6 700.5L3598.0 684.4L3598.3 671.2L3598.7 668.5L3599.0 648.6L3599.4 674.6L3599.7 685.3L3600.1 699.1L3600.4 689.8L3600.8 662.6L3601.1 714.3L3601.5 708.8L3601.8 733.9L3602.2 705.3L3602.5 716.3L3602.9 690.6L3603.2 670.5L3603.6 658.6L3603.9 700.9L3604.3 697.3L3604.6 699.7L3605.0 695.6L3605.3 724.5L3605.7 718.9L3606.1 736.5L3606.4 707.2L3606.8 703.0L3607.1 698.6L3607.5 700.1L3607.8 703.8L3608.2 705.0L3608.5 718.8L3608.9 697.9L3609.2 688.3L3609.6 706.0L3609.9 720.9L3610.3 717.4L3610.6 729.3L3611.0 704.9L3611.3 687.7L3611.7 696.8L3612.0 697.7L3612.4 705.0L3612.7 707.1L3613.1 717.0L3613.4 707.1L3613.8 714.2L3614.1 712.4L3614.5 724.8L3614.8 719.5L3615.2 697.4L3615.5 705.0L3615.9 695.5L3616.2 715.7L3616.6 714.0L3616.9 708.8L3617.3 693.6L3617.6 697.0L3618.0 687.7L3618.3 687.8L3618.7 701.9L3619.0 701.0L3619.4 709.0L3619.7 703.7L3620.1 691.3L3620.4 687.3L3620.8 684.0L3621.1 682.3L3621.5 690.9L3621.8 687.4L3622.2 712.1L3622.5 684.5L3622.9 699.0L3623.2 690.0L3623.6 703.3L3623.9 722.2L3624.3 691.5L3624.6 684.1L3625.0 690.2L3625.3 677.2L3625.7 640.1L3626.1 695.0L3626.4 698.3L3626.8 681.3L3627.1 646.9L3627.5 690.2L3627.8 687.8L3628.2 682.0L3628.5 670.6L3628.9 669.5L3629.2 669.2L3629.6 670.1L3629.9 672.1L3630.3 688.4L3630.6 691.4L3631.0 667.3L3631.3 683.5L3631.7 683.0L3632.0 685.1L3632.4 688.4L3632.7 683.2L3633.1 674.7L3633.4 677.0L3633.8 686.0L3634.1 687.4L3634.5 693.4L3634.8 704.5L3635.2 687.0L3635.5 676.0L3635.9 692.4L3636.2 678.9L3636.6 670.2L3636.9 696.5L3637.3 664.1L3637.6 682.9L3638.0 677.0L3638.3 689.2L3638.7 658.1L3639.0 697.3L3639.4 694.2L3639.7 680.5L3640.1 688.1L3640.4 713.1L3640.8 688.5L3641.1 694.0L3641.5 687.9L3641.8 683.8L3642.2 696.6L3642.5 682.8L3642.9 683.4L3643.2 692.3L3643.6 702.4L3643.9 695.0L3644.3 693.9L3644.6 691.8L3645.0 684.7L3645.3 691.1L3645.7 682.8L3646.0 694.2L3646.4 668.2L3646.8 691.4L3647.1 674.8L3647.5 675.8L3647.8 670.9L3648.2 690.5L3648.5 704.5L3648.9 673.1L3649.2 711.1L3649.6 667.1L3649.9 652.5L3650.3 682.6L3650.6 677.7L3651.0 662.7L3651.3 691.2L3651.7 676.3L3652.0 720.8L3652.4 701.5L3652.7 680.7L3653.1 671.8L3653.4 670.7L3653.8 673.6L3654.1 669.3L3654.5 678.5L3654.8 647.5L3655.2 610.0L3655.5 660.8L3655.9 654.6L3656.2 669.6L3656.6 674.5L3656.9 673.5L3657.3 660.8L3657.6 674.0L3658.0 658.2L3658.3 649.3L3658.7 659.6L3659.0 674.2L3659.4 689.1L3659.7 667.8L3660.1 682.2L3660.4 688.7L3660.8 678.0L3661.1 665.5L3661.5 669.1L3661.8 696.9L3662.2 684.7L3662.5 665.4L3662.9 678.8L3663.2 676.9L3663.6 681.9L3663.9 675.0L3664.3 676.3L3664.6 656.0L3665.0 667.0L3665.3 663.9L3665.7 664.7L3666.0 676.6L3666.4 671.7L3666.8 671.5L3667.1 696.3L3667.5 672.0L3667.8 675.0L3668.2 657.4L3668.5 673.4L3668.9 678.7L3669.2 689.6L3669.6 691.9L3669.9 688.4L3670.3 683.7L3670.6 690.5L3671.0 677.8L3671.3 684.1L3671.7 666.3L3672.0 684.7L3672.4 686.4L3672.7 688.6L3673.1 680.5L3673.4 669.3L3673.8 687.2L3674.1 699.1L3674.5 706.1L3674.8 676.9L3675.2 678.2L3675.5 671.8L3675.9 681.0L3676.2 682.5L3676.6 685.0L3676.9 693.6L3677.3 675.6L3677.6 677.0L3678.0 687.4L3678.3 689.5L3678.7 654.8L3679.0 656.3L3679.4 671.6L3679.7 688.4L3680.1 632.1L3680.4 720.1L3680.8 698.0L3681.1 662.9L3681.5 692.4L3681.8 680.0L3682.2 660.9L3682.5 677.1L3682.9 679.6L3683.2 680.1L3683.6 686.9L3683.9 678.3L3684.3 663.5L3684.6 675.4L3685.0 661.7L3685.3 651.0L3685.7 638.1L3686.0 658.8L3686.4 649.4L3686.7 638.7L3687.1 658.1L3687.5 668.1L3687.8 667.7L3688.2 640.6L3688.5 645.9L3688.9 633.7L3689.2 641.0L3689.6 691.0L3689.9 654.8L3690.3 616.1L3690.6 668.2L3691.0 650.1L3691.3 644.9L3691.7 639.7L3692.0 630.8L3692.4 644.6L3692.7 632.5L3693.1 642.3L3693.4 636.2L3693.8 661.7L3694.1 642.6L3694.5 629.3L3694.8 656.4L3695.2 651.5L3695.5 638.4L3695.9 639.2L3696.2 666.9L3696.6 656.6L3696.9 658.8L3697.3 648.6L3697.6 661.2L3698.0 639.2L3698.3 643.5L3698.7 584.0L3699.0 635.5L3699.4 636.6L3699.7 649.1L3700.1 619.5L3700.4 618.3L3700.8 646.7L3701.1 644.4L3701.5 623.1L3701.8 642.2L3702.2 631.5L3702.5 651.4L3702.9 646.1L3703.2 616.1L3703.6 644.7L3703.9 665.6L3704.3 643.1L3704.6 659.3L3705.0 628.6L3705.3 646.1L3705.7 638.7L3706.0 624.2L3706.4 616.3L3706.7 627.8L3707.1 634.0L3707.5 646.1L3707.8 650.6L3708.2 656.9L3708.5 650.9L3708.9 645.4L3709.2 650.8L3709.6 654.2L3709.9 635.1L3710.3 670.6L3710.6 671.4L3711.0 585.0L3711.3 660.9L3711.7 658.7L3712.0 660.2L3712.4 672.1L3712.7 636.6L3713.1 653.9L3713.4 614.3L3713.8 680.3L3714.1 669.1L3714.5 651.6L3714.8 651.5L3715.2 670.5L3715.5 689.1L3715.9 673.4L3716.2 645.5L3716.6 688.8L3716.9 675.7L3717.3 680.2L3717.6 668.3L3718.0 678.1L3718.3 681.9L3718.7 679.8L3719.0 664.3L3719.4 680.4L3719.7 658.5L3720.1 661.6L3720.4 653.7L3720.8 665.7L3721.1 658.5L3721.5 667.5L3721.8 674.1L3722.2 667.0L3722.5 683.7L3722.9 572.0L3723.2 676.1L3723.6 638.3L3723.9 683.4L3724.3 676.1L3724.6 677.3L3725.0 649.2L3725.3 635.9L3725.7 624.3L3726.0 641.0L3726.4 672.5L3726.7 659.8L3727.1 660.8L3727.5 675.3L3727.8 664.4L3728.2 661.6L3728.5 675.0L3728.9 679.0L3729.2 669.0L3729.6 637.7L3729.9 667.7L3730.3 668.1L3730.6 662.3L3731.0 666.6L3731.3 653.9L3731.7 672.5L3732.0 657.5L3732.4 648.7L3732.7 644.9L3733.1 647.2L3733.4 639.5L3733.8 633.3L3734.1 655.7L3734.5 678.9L3734.8 643.9L3735.2 639.7L3735.5 656.1L3735.9 660.1L3736.2 656.5L3736.6 652.4L3736.9 635.4L3737.3 639.5L3737.6 635.2L3738.0 652.2L3738.3 641.0L3738.7 641.3L3739.0 644.1L3739.4 650.9L3739.7 646.2L3740.1 636.2L3740.4 657.8L3740.8 629.9L3741.1 641.1L3741.5 654.6L3741.8 668.1L3742.2 654.7L3742.5 653.5L3742.9 676.1L3743.2 637.3L3743.6 644.8L3743.9 660.6L3744.3 663.4L3744.6 646.9L3745.0 663.2L3745.3 660.8L3745.7 642.9L3746.0 623.8L3746.4 672.6L3746.7 669.2L3747.1 658.8L3747.4 656.2L3747.8 646.9L3748.2 600.0L3748.5 655.0L3748.9 650.3L3749.2 645.9L3749.6 643.6L3749.9 652.3L3750.3 647.2L3750.6 653.8L3751.0 655.5L3751.3 629.0L3751.7 654.3L3752.0 640.5L3752.4 654.1L3752.7 651.5L3753.1 677.5L3753.4 668.2L3753.8 692.0L3754.1 662.3L3754.5 658.6L3754.8 658.6L3755.2 671.0L3755.5 674.2L3755.9 699.7L3756.2 631.2L3756.6 689.7L3756.9 697.2L3757.3 701.0L3757.6 680.7L3758.0 676.8L3758.3 715.3L3758.7 672.4L3759.0 684.0L3759.4 671.4L3759.7 682.3L3760.1 680.8L3760.4 675.3L3760.8 665.9L3761.1 683.2L3761.5 686.6L3761.8 670.2L3762.2 659.2L3762.5 683.3L3762.9 687.7L3763.2 702.8L3763.6 698.2L3763.9 692.0L3764.3 707.0L3764.6 681.4L3765.0 677.0L3765.3 694.7L3765.7 679.3L3766.0 679.8L3766.4 677.1L3766.7 692.1L3767.1 678.7L3767.4 669.6L3767.8 690.8L3768.2 693.2L3768.5 677.3L3768.9 690.2L3769.2 673.8L3769.6 680.6L3769.9 688.1L3770.3 688.4L3770.6 685.8L3771.0 658.7L3771.3 680.3L3771.7 674.5L3772.0 674.5L3772.4 683.4L3772.7 689.0L3773.1 692.0L3773.4 697.8L3773.8 728.0L3774.1 708.1L3774.5 684.7L3774.8 689.7L3775.2 713.1L3775.5 727.6L3775.9 712.4L3776.2 719.6L3776.6 730.4L3776.9 752.2L3777.3 727.5L3777.6 735.4L3778.0 752.7L3778.3 699.6L3778.7 724.6L3779.0 739.6L3779.4 706.9L3779.7 735.7L3780.1 733.7L3780.4 716.2L3780.8 730.9L3781.1 730.6L3781.5 722.0L3781.8 699.1L3782.2 711.1L3782.5 722.1L3782.9 708.0L3783.2 735.6L3783.6 731.8L3783.9 735.6L3784.3 740.3L3784.6 732.8L3785.0 738.7L3785.3 723.2L3785.7 722.8L3786.0 735.2L3786.4 735.0L3786.7 738.1L3787.1 734.0L3787.4 746.1L3787.8 723.1L3788.1 730.8L3788.5 729.4L3788.9 749.7L3789.2 726.6L3789.6 745.7L3789.9 741.0L3790.3 736.5L3790.6 732.9L3791.0 739.4L3791.3 725.6L3791.7 762.7L3792.0 744.4L3792.4 735.4L3792.7 732.2L3793.1 746.4L3793.4 714.3L3793.8 759.1L3794.1 748.5L3794.5 743.9L3794.8 751.2L3795.2 751.2L3795.5 749.8L3795.9 757.9L3796.2 754.3L3796.6 753.4L3796.9 750.8L3797.3 748.5L3797.6 759.8L3798.0 758.9L3798.3 738.4L3798.7 753.6L3799.0 763.6L3799.4 761.7L3799.7 774.0L3800.1 761.7L3800.4 740.5L3800.8 754.8L3801.1 751.8L3801.5 754.0L3801.8 761.6L3802.2 775.1L3802.5 768.2L3802.9 790.8L3803.2 765.2L3803.6 756.9L3803.9 751.3L3804.3 751.4L3804.6 772.8L3805.0 774.1L3805.3 761.4L3805.7 768.8L3806.0 759.4L3806.4 756.9L3806.7 767.1L3807.1 771.5L3807.4 756.3L3807.8 767.2L3808.1 762.9L3808.5 765.4L3808.9 761.3L3809.2 775.5L3809.6 749.5L3809.9 757.0L3810.3 751.8L3810.6 755.6L3811.0 733.0L3811.3 759.1L3811.7 764.0L3812.0 748.2L3812.4 749.0L3812.7 746.8L3813.1 751.7L3813.4 739.1L3813.8 768.3L3814.1 759.1L3814.5 759.4L3814.8 756.2L3815.2 742.4L3815.5 737.9L3815.9 753.5L3816.2 752.9L3816.6 745.9L3816.9 752.3L3817.3 745.1L3817.6 725.4L3818.0 744.1L3818.3 735.6L3818.7 738.7L3819.0 741.7L3819.4 740.5L3819.7 755.5L3820.1 751.4L3820.4 747.4L3820.8 764.0L3821.1 752.9L3821.5 767.1L3821.8 743.1L3822.2 749.7L3822.5 742.7L3822.9 755.3L3823.2 742.9L3823.6 757.2L3823.9 750.1L3824.3 785.2L3824.6 745.9L3825.0 752.2L3825.3 755.5L3825.7 786.6L3826.0 765.5L3826.4 751.1L3826.7 753.5L3827.1 737.5L3827.4 756.3L3827.8 762.7L3828.1 749.6L3828.5 746.1L3828.9 749.4L3829.2 749.7L3829.6 753.7L3829.9 778.4L3830.3 768.1L3830.6 755.5L3831.0 771.8L3831.3 767.9L3831.7 759.3L3832.0 745.7L3832.4 752.8L3832.7 758.3L3833.1 774.5L3833.4 760.7L3833.8 765.6L3834.1 755.6L3834.5 788.2L3834.8 756.4L3835.2 755.5L3835.5 733.2L3835.9 749.5L3836.2 764.5L3836.6 752.7L3836.9 765.7L3837.3 756.0L3837.6 766.8L3838.0 758.1L3838.3 770.3L3838.7 759.7L3839.0 750.7L3839.4 748.4L3839.7 738.6L3840.1 736.2L3840.4 761.1L3840.8 765.9L3841.1 756.6L3841.5 730.8L3841.8 753.3L3842.2 753.6L3842.5 774.2L3842.9 760.7L3843.2 749.6L3843.6 757.2L3843.9 766.6L3844.3 755.8L3844.6 747.9L3845.0 765.4L3845.3 744.1L3845.7 755.4L3846.0 748.0L3846.4 764.6L3846.7 758.9L3847.1 742.0L3847.4 756.0L3847.8 771.9L3848.1 751.5L3848.5 736.9L3848.8 754.5L3849.2 757.1L3849.6 734.7L3849.9 767.8L3850.3 774.0L3850.6 764.8L3851.0 770.8L3851.3 755.7L3851.7 742.5L3852.0 747.6L3852.4 758.1L3852.7 756.7L3853.1 753.9L3853.4 765.6L3853.8 753.0L3854.1 756.1L3854.5 750.6L3854.8 770.3L3855.2 761.9L3855.5 759.4L3855.9 772.8L3856.2 767.7L3856.6 762.0L3856.9 761.3L3857.3 755.0L3857.6 765.2L3858.0 721.9L3858.3 743.1L3858.7 735.8L3859.0 762.5L3859.4 743.5L3859.7 740.0L3860.1 734.7L3860.4 760.0L3860.8 732.5L3861.1 717.1L3861.5 738.0L3861.8 776.0L3862.2 748.3L3862.5 748.5L3862.9 735.0L3863.2 741.2L3863.6 731.1L3863.9 744.3L3864.3 749.9L3864.6 751.1L3865.0 715.9L3865.3 768.9L3865.7 762.8L3866.0 751.0L3866.4 744.9L3866.7 746.0L3867.1 738.0L3867.4 759.7L3867.8 754.2L3868.1 774.2L3868.5 749.6L3868.8 758.5L3869.2 760.8L3869.6 759.0L3869.9 746.9L3870.3 764.1L3870.6 756.4L3871.0 747.0L3871.3 746.7L3871.7 751.5L3872.0 751.6L3872.4 751.3L3872.7 725.6L3873.1 750.1L3873.4 751.6L3873.8 749.2L3874.1 740.2L3874.5 756.5L3874.8 755.3L3875.2 747.6L3875.5 742.6L3875.9 741.7L3876.2 752.4L3876.6 758.7L3876.9 761.3L3877.3 756.9L3877.6 775.2L3878.0 750.9L3878.3 758.1L3878.7 753.8L3879.0 759.0L3879.4 760.3L3879.7 765.2L3880.1 777.5L3880.4 753.5L3880.8 763.5L3881.1 755.3L3881.5 782.3L3881.8 781.8L3882.2 761.1L3882.5 792.4L3882.9 766.0L3883.2 757.1L3883.6 767.7L3883.9 771.1L3884.3 752.3L3884.6 767.8L3885.0 775.9L3885.3 766.4L3885.7 775.1L3886.0 754.0L3886.4 771.6L3886.7 764.9L3887.1 770.1L3887.4 772.8L3887.8 767.8L3888.1 766.9L3888.5 765.9L3888.8 767.8L3889.2 764.0L3889.6 768.9L3889.9 787.9L3890.3 771.7L3890.6 783.1L3891.0 777.5L3891.3 786.1L3891.7 775.7L3892.0 769.8L3892.4 783.7L3892.7 783.6L3893.1 780.0L3893.4 776.2L3893.8 766.3L3894.1 780.0L3894.5 776.2L3894.8 778.8L3895.2 787.4L3895.5 781.2L3895.9 781.1L3896.2 766.1L3896.6 797.5L3896.9 764.8L3897.3 769.2L3897.6 766.6L3898.0 776.3L3898.3 766.9L3898.7 775.9L3899.0 762.9L3899.4 779.7L3899.7 782.8L3900.1 773.8L3900.4 771.5L3900.8 769.1L3901.1 766.4L3901.5 789.2L3901.8 778.0L3902.2 777.6L3902.5 787.3L3902.9 750.0L3903.2 774.7L3903.6 780.8L3903.9 776.3L3904.3 779.1L3904.6 779.7L3905.0 782.6L3905.3 790.2L3905.7 783.7L3906.0 778.4L3906.4 772.1L3906.7 767.5L3907.1 778.1L3907.4 774.3L3907.8 779.5L3908.1 771.6L3908.5 777.7L3908.8 778.2L3909.2 791.0L3909.5 777.2L3909.9 779.1L3910.3 776.7L3910.6 792.8L3911.0 781.2L3911.3 783.4L3911.7 789.2L3912.0 793.6L3912.4 799.1L3912.7 794.7L3913.1 788.1L3913.4 781.3L3913.8 773.4L3914.1 780.4L3914.5 790.1L3914.8 778.5L3915.2 786.3L3915.5 797.3L3915.9 792.7L3916.2 786.5L3916.6 799.3L3916.9 787.2L3917.3 799.1L3917.6 796.7L3918.0 782.2L3918.3 820.6L3918.7 808.7L3919.0 785.9L3919.4 791.3L3919.7 807.6L3920.1 781.9L3920.4 785.8L3920.8 797.2L3921.1 789.9L3921.5 794.8L3921.8 809.4L3922.2 786.5L3922.5 788.6L3922.9 785.3L3923.2 787.0L3923.6 795.0L3923.9 789.0L3924.3 795.7L3924.6 782.0L3925.0 793.9L3925.3 797.1L3925.7 802.7L3926.0 804.2L3926.4 797.1L3926.7 794.1L3927.1 775.4L3927.4 791.6L3927.8 791.0L3928.1 801.9L3928.5 786.8L3928.8 780.1L3929.2 782.0L3929.5 786.7L3929.9 787.5L3930.3 815.7L3930.6 799.3L3931.0 778.8L3931.3 785.5L3931.7 812.2L3932.0 799.6L3932.4 787.8L3932.7 790.5L3933.1 779.6L3933.4 786.8L3933.8 790.8L3934.1 797.5L3934.5 797.7L3934.8 788.3L3935.2 784.8L3935.5 777.0L3935.9 786.4L3936.2 781.8L3936.6 783.2L3936.9 783.3L3937.3 788.6L3937.6 792.6L3938.0 790.0L3938.3 797.3L3938.7 782.4L3939.0 791.9L3939.4 777.2L3939.7 772.8L3940.1 782.8L3940.4 792.9L3940.8 763.2L3941.1 793.2L3941.5 785.9L3941.8 793.9L3942.2 798.1L3942.5 789.8L3942.9 789.1L3943.2 772.7L3943.6 787.3L3943.9 793.9L3944.3 801.1L3944.6 781.7L3945.0 808.3L3945.3 783.4L3945.7 777.6L3946.0 764.9L3946.4 791.0L3946.7 786.2L3947.1 784.5L3947.4 778.1L3947.8 781.4L3948.1 791.0L3948.5 795.4L3948.8 785.8L3949.2 803.8L3949.5 794.4L3949.9 774.6L3950.2 795.5L3950.6 797.1L3951.0 788.9L3951.3 786.6L3951.7 757.2L3952.0 769.4L3952.4 770.4L3952.7 773.7L3953.1 774.5L3953.4 775.1L3953.8 791.5L3954.1 767.2L3954.5 779.2L3954.8 789.9L3955.2 781.9L3955.5 780.9L3955.9 785.5L3956.2 777.7L3956.6 769.9L3956.9 771.2L3957.3 766.5L3957.6 772.3L3958.0 757.1L3958.3 776.2L3958.7 794.4L3959.0 770.9L3959.4 767.2L3959.7 771.6L3960.1 764.6L3960.4 774.5L3960.8 770.4L3961.1 772.2L3961.5 786.4L3961.8 779.7L3962.2 772.1L3962.5 772.2L3962.9 766.5L3963.2 767.2L3963.6 767.4L3963.9 774.9L3964.3 776.6L3964.6 772.5L3965.0 791.6L3965.3 755.4L3965.7 763.4L3966.0 766.5L3966.4 762.5L3966.7 769.4L3967.1 779.2L3967.4 783.3L3967.8 781.1L3968.1 780.4L3968.5 776.9L3968.8 768.9L3969.2 788.0L3969.5 782.0L3969.9 784.9L3970.2 779.9L3970.6 781.5L3971.0 785.2L3971.3 781.9L3971.7 785.3L3972.0 783.9L3972.4 785.2L3972.7 794.9L3973.1 785.1L3973.4 784.9L3973.8 789.2L3974.1 794.5L3974.5 785.9L3974.8 784.0L3975.2 800.2L3975.5 783.1L3975.9 783.7L3976.2 792.4L3976.6 789.2L3976.9 805.6L3977.3 790.9L3977.6 795.5L3978.0 783.8L3978.3 787.7L3978.7 782.6L3979.0 798.8L3979.4 787.0L3979.7 795.0L3980.1 784.6L3980.4 795.5L3980.8 766.0L3981.1 786.0L3981.5 795.4L3981.8 791.5L3982.2 785.3L3982.5 801.1L3982.9 771.6L3983.2 764.6L3983.6 792.5L3983.9 795.2L3984.3 795.3L3984.6 785.6L3985.0 802.0L3985.3 785.5L3985.7 780.0L3986.0 767.5L3986.4 787.2L3986.7 764.9L3987.1 785.2L3987.4 782.9L3987.8 798.0L3988.1 789.3L3988.5 789.6L3988.8 791.4L3989.2 789.3L3989.5 774.5L3989.9 802.3L3990.2 778.2L3990.6 787.0L3991.0 799.8L3991.3 801.2L3991.7 797.4L3992.0 786.2L3992.4 795.8L3992.7 789.7L3993.1 786.3L3993.4 801.3L3993.8 777.9L3994.1 796.2L3994.5 798.4L3994.8 797.3L3995.2 786.4L3995.5 804.6L3995.9 788.2L3996.2 792.3L3996.6 794.2L3996.9 800.0L3997.3 789.7L3997.6 788.4L3998.0 763.1L3998.3 788.0L3998.7 771.0L3999.0 788.3L3999.4 795.3L3999.7 804.4L4000.1 797.3L4000.4 784.4L4000.8 796.9L4001.1 796.3L4001.5 792.3L4001.8 798.6L4002.2 798.1L4002.5 794.8L4002.9 796.8L4003.2 790.0L4003.6 796.6L4003.9 787.9L4004.3 797.6L4004.6 812.5L4005.0 797.1L4005.3 805.9L4005.7 795.3L4006.0 794.6L4006.4 780.0L4006.7 800.8L4007.1 804.4L4007.4 794.1L4007.8 787.2L4008.1 792.6L4008.5 799.5L4008.8 826.5L4009.2 790.6L4009.5 785.7L4009.9 789.3L4010.2 792.3L4010.6 791.9L4010.9 788.2L4011.3 785.8L4011.7 785.7L4012.0 796.9L4012.4 785.9L4012.7 794.4L4013.1 795.9L4013.4 790.3L4013.8 779.5L4014.1 796.1L4014.5 794.4L4014.8 793.4L4015.2 784.7L4015.5 787.5L4015.9 793.1L4016.2 802.7L4016.6 795.1L4016.9 794.0L4017.3 792.4L4017.6 786.3L4018.0 784.7L4018.3 796.4L4018.7 791.5L4019.0 770.1L4019.4 796.1L4019.7 793.8L4020.1 771.7L4020.4 787.8L4020.8 784.2L4021.1 797.1L4021.5 792.8L4021.8 787.1L4022.2 791.5L4022.5 753.7L4022.9 778.1L4023.2 786.9L4023.6 788.0L4023.9 779.1L4024.3 785.1L4024.6 806.1L4025.0 793.0L4025.3 786.9L4025.7 768.3L4026.0 779.9L4026.4 784.2L4026.7 811.0L4027.1 783.1L4027.4 799.0L4027.8 804.9L4028.1 794.6L4028.5 792.9L4028.8 796.8L4029.2 787.9L4029.5 795.7L4029.9 804.8L4030.2 796.5L4030.6 792.2L4030.9 803.1L4031.3 787.9L4031.7 781.6L4032.0 788.6L4032.4 795.3L4032.7 806.0L4033.1 792.4L4033.4 768.5L4033.8 785.0L4034.1 791.2L4034.5 779.7L4034.8 789.1L4035.2 805.4L4035.5 792.9L4035.9 788.3L4036.2 798.2L4036.6 825.7L4036.9 799.7L4037.3 776.6L4037.6 789.6L4038.0 794.2L4038.3 789.1L4038.7 783.3L4039.0 794.7L4039.4 803.1L4039.7 803.9L4040.1 794.4L4040.4 793.4L4040.8 795.8L4041.1 786.3L4041.5 799.8L4041.8 795.7L4042.2 797.0L4042.5 797.3L4042.9 782.6L4043.2 778.7L4043.6 790.6L4043.9 790.6L4044.3 789.7L4044.6 789.9L4045.0 788.8L4045.3 780.7L4045.7 775.6L4046.0 759.5L4046.4 787.8L4046.7 805.8L4047.1 785.1L4047.4 786.1L4047.8 794.9L4048.1 800.4L4048.5 807.9L4048.8 795.2L4049.2 798.7L4049.5 786.4L4049.9 796.2L4050.2 804.7L4050.6 777.5L4050.9 777.8L4051.3 781.8L4051.6 821.4L4052.0 785.4L4052.4 783.4L4052.7 788.5L4053.1 797.7L4053.4 796.2L4053.8 786.1L4054.1 803.5L4054.5 793.6L4054.8 792.7L4055.2 785.6L4055.5 810.9L4055.9 806.0L4056.2 794.7L4056.6 796.1L4056.9 820.4L4057.3 804.4L4057.6 808.2L4058.0 803.5L4058.3 807.4L4058.7 802.8L4059.0 800.2L4059.4 803.0L4059.7 796.4L4060.1 798.0L4060.4 790.7L4060.8 792.8L4061.1 779.5L4061.5 800.0L4061.8 810.6L4062.2 809.7L4062.5 797.3L4062.9 812.9L4063.2 827.3L4063.6 776.4L4063.9 799.7L4064.3 806.3L4064.6 800.7L4065.0 790.6L4065.3 782.5L4065.7 791.0L4066.0 784.4L4066.4 797.7L4066.7 791.4L4067.1 811.3L4067.4 807.7L4067.8 791.0L4068.1 795.8L4068.5 805.1L4068.8 798.5L4069.2 830.3L4069.5 782.4L4069.9 804.3L4070.2 785.1L4070.6 795.7L4070.9 802.5L4071.3 804.9L4071.6 804.0L4072.0 809.5L4072.1 811.3L4072.2 810.0L4072.4 795.6L4072.5 812.4L4072.6 806.1L4072.7 812.6L4072.9 823.4L4073.0 803.0L4073.1 809.1L4073.2 802.9L4073.3 807.0L4073.5 824.7L4073.6 802.9L4073.7 805.6L4073.8 804.8L4074.0 812.9L4074.1 818.6L4074.2 815.0L4074.3 812.4L4074.5 814.9L4074.6 815.4L4074.7 821.6L4074.8 907.0L4074.9 828.4L4075.1 826.8L4075.2 818.0L4075.3 807.4L4075.4 811.8L4075.6 805.6L4075.7 815.2L4075.8 800.4L4075.9 818.6L4076.0 821.3L4076.2 812.8L4076.3 792.9L4076.4 808.3L4076.5 806.0L4076.7 809.4L4076.8 810.7L4076.9 841.6L4077.0 824.8L4077.2 811.4L4077.3 817.7L4077.4 796.9L4077.5 816.4L4077.6 837.2L4077.8 808.6L4077.9 817.0L4078.0 833.7L4078.1 850.1L4078.3 812.4L4078.4 817.6L4078.5 815.0L4078.6 820.1L4078.7 824.3L4078.9 815.5L4079.0 817.9L4079.1 819.3L4079.2 817.4L4079.4 818.2L4079.5 816.4L4079.6 829.3L4079.7 815.0L4079.8 813.9L4080.0 824.6L4080.1 822.5L4080.2 837.8L4080.3 826.5L4080.5 826.2L4080.6 824.4L4080.7 828.7L4080.8 819.9L4081.0 826.4L4081.1 812.2L4081.2 842.1L4081.3 823.7L4081.4 834.6L4081.6 834.9L4081.7 823.1L4081.8 842.4L4081.9 825.3L4082.1 843.4L4082.2 823.0L4082.3 823.2L4082.4 831.8L4082.5 832.3L4082.7 833.1L4082.8 808.6L4082.9 830.1L4083.0 816.5L4083.2 829.9L4083.3 821.4L4083.4 841.3L4083.5 817.2L4083.7 812.2L4083.8 813.0L4083.9 839.9L4084.0 839.0L4084.1 845.1L4084.3 843.4L4084.4 826.2L4084.5 823.1L4084.6 825.5L4084.8 818.0L4084.9 837.0L4085.0 818.0L4085.1 834.9L4085.2 821.8L4085.4 831.1L4085.5 827.1L4085.6 823.4L4085.7 844.3L4085.9 835.4L4086.0 814.6L4086.1 844.2L4086.2 825.9L4086.4 819.1L4086.5 827.0L4086.6 810.2L4086.7 812.7L4086.8 831.4L4087.0 837.5L4087.1 817.0L4087.2 821.6L4087.3 833.5L4087.5 836.4L4087.6 833.6L4087.7 824.8L4087.8 816.3L4087.9 826.7L4088.1 802.5L4088.2 816.5L4088.3 833.0L4088.4 801.0L4088.6 812.5L4088.7 818.1L4088.8 826.4L4088.9 835.7L4089.0 810.3L4089.2 821.0L4089.3 839.5L4089.4 814.5L4089.5 840.5L4089.7 851.2L4089.8 817.6L4089.9 851.9L4090.0 847.4L4090.2 865.8L4090.3 845.9L4090.4 845.5L4090.5 847.7L4090.6 846.7L4090.8 842.9L4090.9 859.1L4091.0 834.9L4091.1 859.1L4091.3 839.7L4091.4 840.9L4091.5 838.3L4091.6 845.9L4091.7 830.5L4091.9 851.3L4092.0 852.9L4092.1 858.7L4092.2 831.8L4092.4 835.1L4092.5 844.3L4092.6 874.5L4092.7 838.3L4092.9 829.2L4093.0 820.5L4093.1 835.8L4093.2 858.5L4093.3 877.0L4093.5 865.9L4093.6 865.5L4093.7 841.9L4093.8 838.8L4094.0 857.3L4094.1 868.8L4094.2 851.6L4094.3 864.1L4094.4 844.8L4094.6 859.1L4094.7 862.5L4094.8 843.2L4094.9 836.4L4095.1 828.4L4095.2 837.1L4095.3 841.2L4095.4 853.2L4095.5 870.3L4095.7 856.2L4095.8 824.7L4095.9 844.4L4096.0 842.6L4096.2 857.7L4096.3 850.4L4096.4 860.9L4096.5 881.4L4096.7 824.9L4096.8 854.6L4096.9 858.2L4097.0 850.0L4097.1 847.4L4097.3 869.6L4097.4 873.1L4097.5 877.5L4097.6 861.2L4097.8 852.6L4097.9 845.2L4098.0 845.0L4098.1 857.5L4098.2 827.1L4098.4 858.3L4098.5 868.1L4098.6 851.5L4098.7 853.1L4098.9 851.0L4099.0 853.0L4099.1 846.4L4099.2 856.9L4099.4 882.0L4099.5 863.1L4099.6 842.3L4099.7 862.4L4099.8 868.9L4100.0 859.6L4100.1 855.8L4100.2 836.3L4100.3 854.6L4100.5 844.2L4100.6 862.5L4100.7 868.0L4100.8 841.4L4100.9 847.5L4101.1 848.1L4101.2 855.3L4101.3 865.5L4101.4 890.9L4101.6 885.4L4101.7 849.7L4101.8 819.8L4101.9 834.4L4102.1 854.8L4102.2 838.6L4102.3 861.9L4102.4 863.7L4102.5 844.5L4102.7 851.9L4102.8 842.9L4102.9 840.3L4103.0 848.6L4103.2 814.8L4103.3 858.2L4103.4 864.9L4103.5 856.3L4103.6 855.2L4103.8 848.3L4103.9 843.3L4104.0 835.9L4104.1 848.9L4104.3 863.6L4104.4 854.4L4104.5 870.7L4104.6 828.3L4104.7 820.0L4104.9 858.4L4105.0 843.5L4105.1 865.5L4105.2 858.6L4105.4 851.8L4105.5 849.1L4105.6 857.4L4105.7 845.7L4105.9 866.9L4106.0 853.6L4106.1 871.7L4106.2 870.5L4106.3 861.1L4106.5 880.4L4106.6 884.6L4106.7 854.7L4106.8 878.6L4107.0 864.5L4107.1 855.9L4107.2 880.9L4107.3 872.6L4107.4 872.2L4107.6 840.1L4107.7 841.6L4107.8 873.3L4107.9 834.3L4108.1 832.3L4108.2 867.7L4108.3 859.5L4108.4 871.4L4108.6 853.2L4108.7 864.1L4108.8 864.9L4108.9 861.8L4109.0 864.7L4109.2 880.5L4109.3 910.4L4109.4 892.9L4109.5 842.4L4109.7 852.1L4109.8 852.9L4109.9 869.8L4110.0 857.4L4110.1 897.8L4110.3 865.4L4110.4 882.3L4110.5 878.0L4110.6 871.2L4110.8 870.5L4110.9 864.1L4111.0 866.3L4111.1 845.2L4111.2 861.0L4111.4 882.9L4111.5 845.7L4111.6 859.0L4111.7 881.6L4111.9 864.9L4112.0 864.2L4112.1 881.2L4112.2 884.3L4112.4 895.2L4112.5 880.9L4112.6 880.2L4112.7 940.5L4112.8 884.5L4113.0 873.0L4113.1 867.8L4113.2 871.3L4113.3 881.7L4113.5 885.0L4113.6 882.1L4113.7 864.1L4113.8 873.8L4113.9 874.5L4114.1 883.7L4114.2 872.5L4114.3 844.7L4114.4 874.9L4114.6 880.1L4114.7 900.6L4114.8 935.5L4114.9 875.3L4115.1 868.6L4115.2 882.6L4115.3 879.5L4115.4 947.2L4115.5 890.4L4115.7 891.2L4115.8 866.3L4115.9 885.3L4116.0 868.5L4116.2 871.0L4116.3 913.3L4116.4 890.0L4116.5 876.3L4116.6 921.9L4116.8 878.5L4116.9 926.7L4117.0 887.4L4117.1 901.4L4117.3 883.0L4117.4 847.3L4117.5 890.5L4117.6 873.8L4117.7 876.0L4117.9 864.3L4118.0 950.0L4118.1 864.4L4118.2 864.4L4118.4 869.5L4118.5 813.9L4118.6 881.8L4118.7 867.0L4118.9 846.5L4119.0 853.8L4119.1 849.3L4119.2 877.8L4119.3 920.1L4119.5 870.1L4119.6 951.3L4119.7 853.6L4119.8 878.9L4120.0 940.3L4120.1 906.5L4120.2 844.2L4120.3 901.9L4120.4 892.7L4120.6 879.4L4120.7 883.0L4120.8 860.4L4120.9 866.7L4121.1 869.3L4121.2 865.5L4121.3 872.6L4121.4 861.6L4121.6 863.8L4121.7 879.5L4121.8 865.4L4121.9 857.7L4122.0 851.3L4122.2 857.5L4122.3 850.8L4122.4 860.3L4122.5 844.5L4122.7 865.8L4122.8 847.9L4122.9 860.8L4123.0 848.3L4123.1 896.9L4123.3 875.1L4123.4 850.1L4123.5 837.6L4123.6 858.1L4123.8 883.7L4123.9 887.3L4124.0 853.2L4124.1 902.1L4124.3 876.7L4124.4 858.0L4124.5 876.7L4124.6 850.7L4124.7 880.9L4124.9 903.0L4125.0 887.4L4125.1 892.8L4125.2 858.9L4125.4 914.6L4125.5 873.0L4125.6 873.0L4125.7 898.3L4125.8 879.3L4126.0 882.9L4126.1 865.4L4126.2 843.0L4126.3 864.3L4126.5 848.4L4126.6 872.4L4126.7 873.9L4126.8 905.8L4126.9 916.7L4127.1 909.3L4127.2 859.0L4127.3 829.1L4127.4 857.6L4127.6 895.8L4127.7 852.1L4127.8 863.8L4127.9 880.7L4128.1 883.3L4128.2 857.5L4128.3 875.6L4128.4 885.2L4128.5 878.5L4128.7 830.3L4128.8 945.9L4128.9 890.5L4129.0 879.2L4129.2 885.9L4129.3 901.3L4129.4 907.5L4129.5 873.7L4129.6 893.4L4129.8 863.3L4129.9 883.3L4130.0 865.9L4130.1 893.6L4130.3 879.9L4130.4 874.8L4130.5 871.1L4130.6 920.3L4130.8 876.8L4130.9 879.5L4131.0 869.0L4131.1 875.3L4131.2 874.8L4131.4 857.3L4131.5 874.8L4131.6 871.9L4131.7 876.7L4131.9 882.2L4132.0 874.5L4132.1 861.6L4132.2 886.3L4132.3 872.6L4132.5 845.8L4132.6 849.6L4132.7 874.4L4132.8 867.0L4133.0 913.5L4133.1 865.8L4133.2 874.4L4133.3 898.4L4133.4 882.4L4133.6 891.0L4133.7 907.7L4133.8 886.5L4133.9 923.5L4134.1 902.6L4134.2 907.0L4134.3 885.5L4134.4 916.1L4134.6 890.5L4134.7 901.5L4134.8 893.6L4134.9 879.5L4135.0 890.6L4135.2 894.9L4135.3 900.5L4135.4 884.9L4135.5 890.8L4135.7 867.5L4135.8 856.5L4135.9 911.3L4136.0 986.9L4136.1 919.4L4136.3 950.2L4136.4 915.7L4136.5 958.0L4136.6 888.6L4136.8 923.0L4136.9 957.7L4137.0 957.7L4137.1 956.9L4137.3 941.8L4137.4 898.7L4137.5 972.2L4137.6 917.1L4137.7 929.2L4137.9 906.1L4138.0 956.6L4138.1 926.0L4138.2 910.5L4138.4 891.6L4138.5 912.9L4138.6 879.1L4138.7 891.0L4138.8 895.6L4139.0 883.9L4139.1 846.3L4139.2 913.5L4139.3 949.0L4139.5 935.5L4139.6 951.1L4139.7 935.9L4139.8 945.1L4139.9 912.6L4140.1 898.0L4140.2 933.0L4140.3 912.0L4140.4 916.1L4140.6 909.7L4140.7 909.7L4140.8 884.2L4140.9 895.8L4141.1 894.3L4141.2 906.1L4141.3 916.0L4141.4 941.5L4141.5 992.8L4141.7 915.6L4141.8 890.1L4141.9 864.1L4142.0 867.4L4142.2 896.4L4142.3 901.7L4142.4 891.7L4142.5 923.7L4142.6 902.1L4142.8 923.4L4142.9 965.3L4143.0 934.4L4143.1 961.2L4143.3 913.4L4143.4 951.3L4143.5 952.5L4143.6 910.1L4143.8 923.6L4143.9 879.4L4144.0 921.6L4144.1 918.2L4144.2 904.3L4144.4 932.4L4144.5 958.0L4144.6 892.8L4144.7 906.9L4144.9 895.0L4145.0 943.6L4145.1 944.7L4145.2 879.8L4145.3 982.2L4145.5 953.7L4145.6 962.0L4145.7 948.4L4145.8 955.5L4146.0 891.7L4146.1 911.1L4146.2 868.7L4146.3 896.7L4146.5 947.0L4146.6 950.1L4146.7 923.8L4146.8 917.4L4146.9 913.9L4147.1 893.5L4147.2 878.3L4147.3 954.6L4147.4 911.0L4147.6 956.7L4147.7 925.6L4147.8 917.5L4147.9 910.7L4148.0 901.3L4148.2 938.8L4148.3 926.4L4148.4 912.1L4148.5 913.3L4148.7 840.7L4148.8 919.9L4148.9 906.4L4149.0 910.2L4149.1 872.2L4149.3 904.6L4149.4 918.8L4149.5 907.9L4149.6 916.2L4149.8 913.5L4149.9 931.6L4150.0 911.0L4150.1 973.5L4150.3 920.9L4150.4 979.0L4150.5 937.8L4150.6 954.0L4150.7 944.1L4150.9 940.7L4151.0 956.5L4151.1 947.6L4151.2 946.3L4151.4 924.3L4151.5 912.6L4151.6 890.7L4151.7 906.5L4151.8 893.8L4152.0 918.1L4152.1 897.6L4152.2 923.4L4152.3 905.3L4152.5 903.4L4152.6 906.4L4152.7 896.0L4152.8 916.5L4153.0 913.1L4153.1 918.9L4153.2 928.2L4153.3 922.7L4153.4 1031.0L4153.6 970.0L4153.7 905.6L4153.8 868.9L4153.9 910.3L4154.1 947.0L4154.2 895.3L4154.3 897.3L4154.4 1031.0L4154.5 947.9L4154.7 927.7L4154.8 907.2L4154.9 882.3L4155.0 939.4L4155.2 928.5L4155.3 982.2L4155.4 897.6L4155.5 1031.0L4155.6 940.9L4155.8 965.0L4155.9 934.9L4156.0 921.4L4156.1 938.4L4156.3 946.9L4156.4 896.7L4156.5 882.1L4156.6 974.3L4156.8 891.9L4156.9 869.5L4157.0 930.9L4157.1 989.9L4157.2 967.5L4157.4 929.5L4157.5 896.9L4157.6 834.4L4157.7 949.8L4157.9 954.0L4158.0 915.1L4158.1 944.6L4158.2 974.5L4158.3 887.7L4158.5 931.3L4158.6 939.1L4158.7 933.0L4158.8 905.1L4159.0 961.1L4159.1 946.7L4159.2 956.6L4159.3 926.3L4159.5 910.0L4159.6 945.7L4159.7 896.2L4159.8 958.6L4159.9 939.2L4160.1 924.5L4160.2 939.9L4160.3 895.7L4160.4 954.1L4160.6 954.3L4160.7 944.5L4160.8 953.1L4160.9 938.9L4161.0 991.0L4161.2 949.7L4161.3 913.7L4161.4 938.2L4161.5 913.0L4161.7 933.2L4161.8 923.5L4161.9 935.3L4162.0 1026.0L4162.2 996.4L4162.3 940.2L4162.4 952.2L4162.5 925.4L4162.6 949.1L4162.8 989.7L4162.9 908.7L4163.0 899.9L4163.1 923.1L4163.3 974.8L4163.4 1024.6L4163.5 898.5L4163.6 966.2L4163.7 967.8L4163.9 959.0L4164.0 974.9L4164.1 919.6L4164.2 961.2L4164.4 940.1L4164.5 938.6L4164.6 919.3L4164.7 926.6L4164.8 954.5L4165.0 945.8L4165.1 901.1L4165.2 954.2L4165.3 919.4L4165.5 875.7L4165.6 898.7L4165.7 926.6L4165.8 914.8L4166.0 937.2L4166.1 928.3L4166.2 1031.0L4166.3 921.7L4166.4 988.6L4166.6 936.2L4166.7 954.8L4166.8 946.0L4166.9 984.4L4167.1 873.8L4167.2 917.8L4167.3 916.2L4167.4 963.3L4167.5 915.6L4167.7 992.2L4167.8 951.7L4167.9 924.1L4168.0 979.5L4168.2 967.2L4168.3 948.3L4168.4 948.1L4168.5 926.7L4168.7 865.8L4168.8 937.1L4168.9 936.8L4169.0 941.8L4169.1 954.2L4169.3 947.6L4169.4 956.1L4169.5 920.5L4169.6 920.1L4169.8 1026.3L4169.9 955.1L4170.0 1020.7" fill="none" stroke="#5050fa" stroke-opacity="0.75" stroke-width="1.6" stroke-linejoin="round"/>
<path d="M2248.6 522.6L2249.3 522.2L2250.2 521.7L2251.3 521.1L2252.5 520.3L2253.7 519.4L2254.8 518.4L2255.9 517.2L2256.9 516.0L2258.0 514.7L2259.1 513.1L2260.1 511.2L2261.0 509.0L2261.9 506.2L2262.8 502.9L2263.7 499.4L2264.5 495.7L2265.3 492.2L2266.0 489.1L2266.7 486.2L2267.3 483.3L2267.9 480.6L2268.5 478.1L2269.1 476.0L2269.7 474.2L2270.3 472.9L2270.9 471.9L2271.5 471.3L2272.1 471.0L2272.8 470.9L2273.4 471.0L2274.2 471.4L2275.0 472.2L2275.9 473.2L2276.7 474.4L2277.6 475.6L2278.4 476.7L2279.3 477.9L2280.1 479.4L2281.0 480.8L2281.8 482.1L2282.6 482.9L2283.4 482.9L2284.1 482.1L2284.7 480.5L2285.2 478.5L2285.8 476.3L2286.4 473.9L2287.1 471.7L2287.8 469.5L2288.6 467.1L2289.4 464.6L2290.2 462.2L2291.1 459.9L2292.1 458.1L2293.2 456.5L2294.4 455.1L2295.6 453.9L2296.9 453.0L2298.2 452.3L2299.5 451.9L2300.7 451.9L2302.0 452.3L2303.2 452.9L2304.4 453.7L2305.6 454.5L2307.0 455.1L2308.3 455.5L2309.8 455.8L2311.2 456.1L2312.7 456.4L2314.2 456.8L2315.7 457.3L2317.1 458.0L2318.6 458.8L2320.1 459.7L2321.5 460.5L2323.0 461.3L2324.3 461.8L2325.7 462.1L2326.9 462.4L2328.1 462.6L2329.4 462.6L2330.6 462.3L2331.8 461.8L2333.0 460.8L2334.2 459.4L2335.4 457.8L2336.7 456.0L2337.9 454.4L2339.2 453.1L2340.6 451.9L2342.1 450.8L2343.7 449.7L2345.2 448.8L2346.6 448.3L2347.9 448.1L2349.1 448.5L2350.1 449.3L2351.1 450.5L2352.1 451.8L2353.1 453.1L2354.1 454.3L2355.3 455.5L2356.4 456.6L2357.6 457.8L2358.9 459.1L2360.2 460.4L2361.6 461.8L2363.1 463.2L2364.8 464.5L2366.5 466.0L2368.3 467.6L2370.0 469.5L2371.5 471.7L2372.9 474.6L2374.2 478.1L2375.5 481.9L2376.7 485.7L2377.8 489.0L2379.0 491.6L2380.1 493.4L2381.1 494.8L2382.1 495.7L2383.1 496.4L2384.1 496.8L2385.2 497.0L2386.2 497.0L2387.3 496.7L2388.3 496.2L2389.4 495.5L2390.4 494.7L2391.4 494.1L2392.3 493.3L2393.1 492.4L2393.9 491.5L2394.6 490.6L2395.5 490.0L2396.3 489.6L2397.3 489.8L2398.4 490.4L2399.4 491.2L2400.5 491.9L2401.6 492.3L2402.5 492.1L2403.5 491.0L2404.3 489.3L2405.2 487.2L2406.0 485.1L2406.8 483.1L2407.5 481.6L2408.2 480.6L2408.8 479.8L2409.4 479.2L2409.9 478.8L2410.6 478.6L2411.2 478.7L2412.0 479.0L2412.7 479.4L2413.6 480.1L2414.4 481.1L2415.3 482.4L2416.2 484.1L2417.2 486.5L2418.3 489.4L2419.4 492.7L2420.5 496.0L2421.5 499.1L2422.4 501.5L2423.1 503.3L2423.6 504.8L2424.0 506.0L2424.5 506.9L2425.2 507.7L2426.1 508.5L2427.4 509.1L2429.0 509.5L2430.7 509.7L2432.5 509.9L2434.3 510.0L2436.1 510.2L2437.7 510.3L2439.4 510.4L2441.1 510.5L2442.8 510.5L2444.4 510.6L2446.0 510.7L2447.5 510.8L2449.0 510.9L2450.4 511.1L2451.8 511.3L2453.2 511.5L2454.7 511.9L2456.1 512.5L2457.6 513.2L2459.0 514.0L2460.5 514.9L2461.9 515.7L2463.4 516.4L2464.8 517.2L2466.3 518.0L2467.8 518.8L2469.3 519.5L2470.7 519.9L2472.1 520.1L2473.4 520.0L2474.6 519.7L2475.8 519.2L2477.0 518.5L2478.2 517.5L2479.5 516.4L2480.9 514.8L2482.4 512.7L2483.8 510.4L2485.3 508.1L2486.8 506.3L2488.2 505.2L2489.5 505.1L2490.8 505.8L2492.1 506.9L2493.3 508.0L2494.5 508.8L2495.6 509.0L2496.7 508.5L2497.8 507.8L2498.8 506.7L2499.8 505.3L2500.8 503.6L2501.8 501.5L2502.9 498.8L2503.9 495.5L2504.9 491.9L2505.9 488.2L2506.9 484.7L2508.1 481.6L2509.2 479.1L2510.4 476.7L2511.6 474.5L2512.9 472.5L2514.2 470.8L2515.5 469.2L2516.9 467.9L2518.4 466.7L2519.9 465.7L2521.4 465.0L2522.9 464.5L2524.2 464.3L2525.3 464.6L2526.4 465.5L2527.3 466.6L2528.2 467.7L2529.2 468.5L2530.4 468.7L2531.7 468.2L2533.1 467.3L2534.6 466.0L2536.1 464.6L2537.6 463.1L2539.1 461.8L2540.6 460.4L2542.1 458.8L2543.7 457.2L2545.2 455.7L2546.5 454.7L2547.8 454.3L2548.8 454.7L2549.7 455.8L2550.5 457.3L2551.2 458.9L2552.0 460.5L2552.7 461.8L2553.6 463.1L2554.4 464.6L2555.3 466.1L2556.1 467.2L2557.0 467.5L2557.7 466.8L2558.4 464.8L2559.0 461.8L2559.6 458.1L2560.2 453.8L2560.8 449.2L2561.4 444.4L2562.1 439.1L2562.7 433.1L2563.3 426.8L2563.9 420.5L2564.5 414.7L2565.2 409.7L2565.8 405.4L2566.3 401.5L2566.9 398.1L2567.5 395.2L2568.2 392.8L2568.9 391.0L2569.6 389.9L2570.5 389.3L2571.4 389.3L2572.2 389.7L2573.1 390.6L2573.8 391.8L2574.5 393.5L2575.2 395.8L2575.8 398.5L2576.4 401.4L2577.0 404.4L2577.6 407.2L2578.2 410.0L2578.7 413.0L2579.3 416.0L2579.9 418.9L2580.5 421.4L2581.3 423.3L2582.2 424.4L2583.2 424.9L2584.3 425.0L2585.4 425.0L2586.5 425.2L2587.5 425.8L2588.4 426.9L2589.2 428.3L2590.1 429.8L2590.9 431.4L2591.6 433.0L2592.5 434.5L2593.3 436.0L2594.1 437.6L2594.9 439.2L2595.8 440.6L2596.6 441.6L2597.4 441.9L2598.3 441.6L2599.1 440.7L2599.9 439.4L2600.7 437.9L2601.6 436.2L2602.4 434.5L2603.2 432.6L2604.0 430.5L2604.8 428.3L2605.6 426.0L2606.5 423.9L2607.4 422.1L2608.3 420.5L2609.3 419.0L2610.3 417.8L2611.4 416.6L2612.4 415.5L2613.6 414.6L2614.7 413.9L2615.9 413.3L2617.1 412.9L2618.4 412.6L2619.7 412.2L2621.0 411.6L2622.4 411.0L2623.8 410.4L2625.2 409.7L2626.7 408.9L2628.2 408.1L2629.7 407.2L2631.3 406.1L2632.9 405.0L2634.6 403.8L2636.3 402.5L2638.0 401.1L2639.6 399.7L2641.3 398.1L2643.0 396.2L2644.8 394.2L2646.4 392.4L2648.1 390.8L2649.6 389.8L2650.9 389.4L2652.2 389.4L2653.4 389.7L2654.6 390.2L2655.8 390.7L2657.0 391.0L2658.3 391.1L2659.5 391.1L2660.8 391.1L2662.1 391.2L2663.3 391.6L2664.5 392.3L2665.6 393.4L2666.6 394.9L2667.6 396.6L2668.6 398.5L2669.6 400.4L2670.7 402.2L2671.7 404.2L2672.8 406.6L2673.8 409.0L2674.9 411.1L2675.9 412.6L2676.9 413.4L2677.8 413.2L2678.6 412.3L2679.4 410.8L2680.2 409.0L2681.0 406.9L2681.8 404.7L2682.7 402.2L2683.5 399.2L2684.3 396.0L2685.1 392.8L2686.0 389.8L2686.8 387.3L2687.6 385.2L2688.5 383.2L2689.3 381.5L2690.1 380.1L2690.9 379.1L2691.8 378.6L2692.6 378.7L2693.4 379.4L2694.2 380.6L2695.0 381.9L2695.8 383.4L2696.7 384.8L2697.7 386.4L2698.8 388.4L2699.9 390.5L2701.0 392.4L2702.1 393.9L2702.9 394.8L2703.6 394.8L2704.1 394.1L2704.6 393.0L2705.0 391.8L2705.5 390.5L2706.2 389.6L2707.1 388.8L2708.1 387.9L2709.1 387.1L2710.2 386.4L2711.3 386.0L2712.4 385.9L2713.4 386.2L2714.5 386.8L2715.5 387.7L2716.6 388.7L2717.6 389.8L2718.6 390.8L2719.6 392.0L2720.6 393.3L2721.5 394.7L2722.5 396.0L2723.6 397.0L2724.8 397.5L2726.3 397.4L2727.9 396.9L2729.6 396.0L2731.3 395.0L2733.1 394.0L2734.8 393.3L2736.5 392.8L2738.3 392.4L2740.0 392.1L2741.7 391.8L2743.3 391.4L2744.7 390.8L2745.8 390.1L2746.7 389.3L2747.5 388.3L2748.2 387.4L2748.9 386.6L2749.7 385.9L2750.5 385.2L2751.3 384.5L2752.1 383.9L2753.0 383.5L2753.8 383.3L2754.6 383.4L2755.4 383.8L2756.2 384.5L2757.0 385.4L2757.8 386.5L2758.7 387.9L2759.6 389.6L2760.5 391.6L2761.6 394.0L2762.6 396.7L2763.7 399.5L2764.7 402.1L2765.8 404.5L2766.8 406.6L2767.9 408.6L2768.9 410.5L2769.9 412.2L2771.0 414.0L2772.0 415.7L2773.0 417.3L2774.1 418.9L2775.1 420.4L2776.1 421.8L2777.2 423.1L2778.2 424.3L2779.2 425.5L2780.3 426.6L2781.3 427.7L2782.3 428.5L2783.4 429.1L2784.4 429.3L2785.5 429.0L2786.5 428.2L2787.6 427.2L2788.6 426.0L2789.7 425.0L2790.6 424.3L2791.5 423.9L2792.3 423.5L2793.1 423.3L2793.9 423.2L2794.7 423.4L2795.6 423.8L2796.6 424.7L2797.6 425.9L2798.7 427.4L2799.8 429.0L2800.8 430.5L2801.8 431.8L2802.7 433.0L2803.5 434.3L2804.3 435.6L2805.1 436.7L2805.9 437.5L2806.8 438.0L2807.7 437.9L2808.8 437.3L2809.9 436.4L2810.9 435.5L2812.0 434.9L2813.0 434.8L2813.8 435.1L2814.7 435.7L2815.4 436.6L2816.2 437.7L2817.0 439.0L2817.9 440.5L2818.9 442.2L2819.9 444.3L2820.9 446.6L2821.9 449.0L2823.0 451.5L2824.1 454.1L2825.3 456.8L2826.5 459.7L2827.8 462.7L2829.1 465.8L2830.3 468.7L2831.6 471.5L2832.8 474.2L2834.1 476.8L2835.4 479.3L2836.6 481.8L2837.9 484.2L2839.0 486.4L2840.1 488.6L2841.2 490.8L2842.3 492.8L2843.3 494.7L2844.3 496.3L2845.2 497.6L2846.1 498.5L2846.9 499.1L2847.6 499.4L2848.4 499.5L2849.2 499.5L2850.2 499.3L2851.3 498.8L2852.5 498.0L2853.8 496.9L2855.2 495.9L2856.4 495.3L2857.6 495.1L2858.7 495.5L2859.8 496.4L2860.7 497.5L2861.7 498.8L2862.8 500.1L2863.9 501.3L2865.0 502.4L2866.2 503.5L2867.5 504.6L2868.8 505.7L2870.0 506.7L2871.3 507.5L2872.5 508.1L2873.8 508.5L2875.0 508.8L2876.3 509.1L2877.5 509.5L2878.7 510.0L2880.0 510.7L2881.2 511.6L2882.5 512.6L2883.7 513.5L2885.0 514.3L2886.2 515.0L2887.4 515.4L2888.7 515.8L2889.9 516.1L2891.2 516.3L2892.4 516.3L2893.6 516.2L2894.9 515.9L2896.1 515.5L2897.4 515.0L2898.6 514.3L2899.9 513.4L2901.1 512.5L2902.3 511.3L2903.5 510.0L2904.7 508.5L2906.0 507.0L2907.2 505.4L2908.5 503.8L2909.9 502.1L2911.4 500.3L2912.9 498.4L2914.4 496.6L2915.8 495.1L2917.2 493.9L2918.5 493.1L2919.8 492.9L2921.0 492.8L2922.2 492.8L2923.5 492.5L2924.7 491.9L2925.9 490.7L2927.3 489.1L2928.6 487.3L2929.8 485.5L2931.0 483.9L2932.1 482.7L2933.1 481.8L2934.0 481.1L2934.8 480.6L2935.5 480.2L2936.3 480.1L2937.1 480.2L2937.9 480.5L2938.7 481.0L2939.5 481.7L2940.3 482.6L2941.2 483.7L2942.1 485.2L2943.0 486.9L2944.0 488.9L2945.0 491.2L2946.1 493.7L2947.1 496.2L2948.3 498.8L2949.4 501.6L2950.7 504.7L2952.0 507.8L2953.3 510.9L2954.5 513.8L2955.7 516.2L2956.8 518.3L2957.9 520.2L2959.0 521.9L2960.0 523.2L2961.0 524.3L2961.9 524.9L2962.8 525.1L2963.7 524.8L2964.5 524.3L2965.3 523.4L2966.1 522.4L2966.9 521.2L2967.7 519.6L2968.6 517.6L2969.4 515.5L2970.3 513.3L2971.1 511.4L2971.8 510.0L2972.5 509.0L2973.1 508.4L2973.6 507.9L2974.2 507.8L2974.8 507.9L2975.6 508.3L2976.5 509.0L2977.5 510.0L2978.5 511.3L2979.6 512.9L2980.7 514.5L2981.8 516.2L2982.8 518.0L2983.8 520.1L2984.8 522.4L2985.8 524.6L2986.9 526.7L2988.0 528.6L2989.2 530.3L2990.4 531.9L2991.7 533.4L2993.0 534.8L2994.2 536.1L2995.4 537.3L2996.6 538.5L2997.6 539.8L2998.7 541.0L2999.7 541.9L3000.7 542.4L3001.6 542.3L3002.5 541.5L3003.4 540.2L3004.2 538.5L3005.0 536.4L3005.8 533.9L3006.6 531.1L3007.4 527.6L3008.3 523.4L3009.1 518.7L3009.9 514.1L3010.7 509.8L3011.6 506.3L3012.4 503.3L3013.3 500.6L3014.1 498.3L3015.0 496.4L3015.8 495.1L3016.5 494.3L3017.2 494.2L3017.8 494.7L3018.4 495.7L3019.0 497.1L3019.6 499.0L3020.3 501.3L3021.0 504.2L3021.8 507.9L3022.6 512.0L3023.4 516.2L3024.3 520.2L3025.2 523.6L3026.2 526.6L3027.2 529.3L3028.2 531.7L3029.2 534.0L3030.3 536.3L3031.4 538.5L3032.6 540.8L3033.8 543.0L3035.0 545.1L3036.3 547.2L3037.6 549.1L3038.9 551.0L3040.3 552.7L3041.9 554.4L3043.5 556.0L3045.1 557.4L3046.5 558.7L3047.6 559.6L3048.3 560.2L3048.7 560.5L3048.9 560.5L3049.0 560.5L3049.4 560.6L3050.0 561.0L3051.0 561.6L3052.2 562.5L3053.6 563.5L3055.0 564.5L3056.3 565.3L3057.4 565.9L3058.4 566.3L3059.2 566.4L3060.0 566.5L3060.8 566.4L3061.5 566.2L3062.4 565.9L3063.4 565.4L3064.4 564.4L3065.4 563.4L3066.5 562.5L3067.6 562.0L3068.6 562.2L3069.6 563.2L3070.6 564.8L3071.6 566.8L3072.6 569.0L3073.6 571.3L3074.8 573.4L3076.1 575.7L3077.6 578.3L3079.1 581.1L3080.6 583.4L3082.1 585.1L3083.5 585.8L3084.8 585.2L3086.0 583.7L3087.2 581.5L3088.4 578.9L3089.7 576.1L3091.0 573.4L3092.4 570.6L3093.8 567.6L3095.3 564.4L3096.8 561.1L3098.3 557.9L3099.7 554.8L3101.0 551.7L3102.3 548.5L3103.6 545.3L3104.8 542.3L3106.0 539.6L3107.1 537.4L3108.1 535.5L3109.0 534.0L3109.8 532.7L3110.6 531.8L3111.3 531.3L3112.1 531.2L3112.7 531.5L3113.4 532.1L3113.9 533.2L3114.5 534.6L3115.1 536.4L3115.8 538.6L3116.5 541.4L3117.4 544.9L3118.2 548.8L3119.1 552.7L3119.9 556.5L3120.8 559.7L3121.6 562.5L3122.4 565.1L3123.2 567.5L3124.0 569.7L3124.8 571.6L3125.7 573.4L3126.7 575.0L3127.7 576.6L3128.7 578.0L3129.8 579.0L3130.9 579.6L3131.9 579.6L3133.0 578.8L3134.0 577.2L3135.1 575.2L3136.2 573.0L3137.2 571.1L3138.1 569.7L3139.0 568.7L3139.9 567.9L3140.7 567.2L3141.5 566.9L3142.3 566.9L3143.1 567.2L3143.9 567.9L3144.8 568.9L3145.6 570.2L3146.4 571.8L3147.2 573.7L3148.1 575.9L3148.9 578.5L3149.7 581.7L3150.5 585.1L3151.4 588.5L3152.2 591.8L3153.0 594.5L3153.8 596.8L3154.6 599.1L3155.4 601.1L3156.2 602.7L3157.1 603.9L3158.0 604.4L3158.9 604.2L3159.9 603.2L3160.9 601.8L3162.0 600.1L3163.1 598.4L3164.2 597.0L3165.4 595.7L3166.5 594.3L3167.8 592.9L3169.0 591.6L3170.3 590.4L3171.6 589.5L3173.0 588.8L3174.5 588.3L3176.0 587.9L3177.5 587.6L3178.9 587.5L3180.3 587.5L3181.7 587.7L3183.0 588.0L3184.2 588.5L3185.4 589.1L3186.6 589.8L3187.8 590.8L3188.9 591.8L3190.1 592.8L3191.2 594.1L3192.2 595.5L3193.2 597.3L3194.0 599.4L3194.6 602.1L3195.1 605.1L3195.5 608.4L3195.8 611.9L3196.1 615.6L3196.5 619.3L3196.9 623.1L3197.3 627.0L3197.6 631.1L3198.0 635.3L3198.5 639.6L3199.0 644.1L3199.5 648.9L3200.1 654.1L3200.7 659.3L3201.4 664.5L3202.0 669.5L3202.7 673.9L3203.3 677.9L3203.9 681.5L3204.5 684.9L3205.2 688.0L3205.8 690.9L3206.4 693.8L3207.0 696.6L3207.6 699.5L3208.3 702.2L3208.9 704.6L3209.5 706.4L3210.1 707.4L3210.7 707.6L3211.4 707.0L3212.0 705.8L3212.6 704.3L3213.2 702.7L3213.9 701.2L3214.5 699.7L3215.0 698.0L3215.6 696.1L3216.2 694.3L3216.9 692.6L3217.6 691.3L3218.3 690.2L3219.0 689.3L3219.8 688.5L3220.7 687.9L3221.6 687.6L3222.5 687.6L3223.6 688.1L3224.8 689.3L3226.1 690.6L3227.4 692.0L3228.7 693.0L3230.0 693.3L3231.2 692.9L3232.5 692.1L3233.8 690.9L3235.0 689.5L3236.3 688.0L3237.4 686.3L3238.5 684.6L3239.6 682.6L3240.5 680.4L3241.5 678.2L3242.6 676.0L3243.6 673.9L3244.8 671.8L3246.0 669.4L3247.3 667.0L3248.6 665.0L3249.8 663.4L3251.1 662.8L3252.4 663.2L3253.7 664.5L3255.0 666.4L3256.2 668.5L3257.4 670.3L3258.5 671.4L3259.5 671.9L3260.4 672.0L3261.2 671.9L3261.9 671.6L3262.7 671.2L3263.5 670.9L3264.3 670.6L3265.1 670.0L3265.9 669.4L3266.7 668.9L3267.6 668.7L3268.5 669.0L3269.4 669.8L3270.4 671.2L3271.4 672.8L3272.5 674.5L3273.6 676.2L3274.7 677.6L3275.8 678.9L3277.1 680.0L3278.3 681.1L3279.6 682.1L3280.9 683.0L3282.1 683.9L3283.4 684.6L3284.6 685.3L3285.8 685.9L3287.1 686.4L3288.3 687.0L3289.6 687.6L3290.8 688.2L3292.1 688.8L3293.4 689.4L3294.6 690.0L3295.9 690.6L3297.0 691.3L3298.1 692.2L3299.2 693.3L3300.2 694.5L3301.2 695.5L3302.2 696.0L3303.2 695.8L3304.3 694.7L3305.3 692.8L3306.4 690.5L3307.5 688.0L3308.5 685.7L3309.4 683.9L3310.3 682.4L3311.0 681.1L3311.8 680.0L3312.5 679.0L3313.4 678.3L3314.4 677.6L3315.6 677.2L3317.1 676.8L3318.6 676.6L3320.1 676.6L3321.7 676.9L3323.1 677.6L3324.4 678.8L3325.7 680.5L3326.9 682.5L3328.1 684.6L3329.3 686.8L3330.5 688.8L3331.8 691.0L3333.1 693.5L3334.3 696.0L3335.6 698.2L3336.8 700.1L3338.0 701.2L3339.1 701.5L3340.1 701.2L3341.2 700.4L3342.2 699.3L3343.2 698.3L3344.2 697.5L3345.2 696.8L3346.3 696.1L3347.3 695.3L3348.3 694.6L3349.4 694.1L3350.4 693.8L3351.4 693.9L3352.5 694.4L3353.6 695.1L3354.6 695.7L3355.6 696.0L3356.6 695.8L3357.5 694.9L3358.4 693.6L3359.2 691.9L3360.0 690.2L3360.8 688.7L3361.6 687.6L3362.4 686.7L3363.2 686.0L3364.1 685.4L3364.9 685.1L3365.7 685.2L3366.5 685.8L3367.4 687.2L3368.2 689.2L3369.0 691.6L3369.8 694.1L3370.7 696.6L3371.5 698.7L3372.3 700.8L3373.1 703.0L3373.9 705.1L3374.7 707.0L3375.6 708.2L3376.5 708.7L3377.4 708.1L3378.5 706.7L3379.6 704.6L3380.6 702.4L3381.7 700.3L3382.7 698.7L3383.6 697.4L3384.4 696.1L3385.2 694.9L3385.9 694.0L3386.8 693.5L3387.6 693.8L3388.6 694.9L3389.7 696.8L3390.7 699.2L3391.8 701.8L3392.9 704.2L3393.8 706.2L3394.7 707.9L3395.5 709.5L3396.3 710.9L3397.1 712.2L3397.9 713.1L3398.8 713.6L3399.8 713.6L3400.8 713.1L3401.8 712.2L3402.9 711.2L3404.0 710.4L3405.0 709.9L3406.0 709.9L3407.1 710.2L3408.1 710.6L3409.2 711.0L3410.2 711.1L3411.2 710.7L3412.3 709.7L3413.3 708.2L3414.4 706.5L3415.5 704.6L3416.5 702.8L3417.4 701.2L3418.3 699.8L3419.1 698.2L3419.9 696.7L3420.7 695.4L3421.5 694.4L3422.4 693.8L3423.4 693.7L3424.4 694.0L3425.5 694.7L3426.6 695.4L3427.6 696.2L3428.6 696.8L3429.5 697.3L3430.3 698.1L3431.1 698.8L3431.9 699.3L3432.7 699.5L3433.6 699.2L3434.5 698.4L3435.5 697.0L3436.6 695.4L3437.7 693.5L3438.7 691.7L3439.8 690.1L3440.8 688.5L3441.9 686.7L3443.0 685.0L3444.0 683.4L3445.0 682.2L3446.0 681.4L3446.9 681.1L3447.7 681.4L3448.5 681.9L3449.3 682.6L3450.1 683.3L3450.9 683.9L3451.8 684.3L3452.6 684.8L3453.3 685.3L3454.2 685.7L3455.0 685.9L3455.9 685.8L3456.9 685.4L3457.9 684.6L3458.9 683.6L3460.0 682.6L3461.1 681.8L3462.1 681.4L3463.1 681.5L3464.2 682.0L3465.2 682.7L3466.3 683.3L3467.3 683.6L3468.3 683.4L3469.4 682.5L3470.4 681.3L3471.4 679.7L3472.5 677.9L3473.5 675.9L3474.5 673.9L3475.6 671.6L3476.7 668.9L3477.8 666.1L3478.8 663.4L3479.8 660.9L3480.7 659.0L3481.5 657.6L3482.1 656.5L3482.7 655.7L3483.2 655.2L3483.8 655.1L3484.5 655.3L3485.2 656.0L3486.0 657.2L3486.8 658.8L3487.6 660.5L3488.5 662.3L3489.4 664.0L3490.4 665.6L3491.5 667.4L3492.6 669.2L3493.7 670.9L3494.7 672.5L3495.6 673.9L3496.5 675.0L3497.2 675.7L3498.0 676.2L3498.7 676.9L3499.3 677.8L3500.0 679.2L3500.6 681.1L3501.2 683.5L3501.8 686.2L3502.4 688.9L3503.0 691.6L3503.7 694.1L3504.5 696.6L3505.3 699.4L3506.1 702.1L3507.0 704.5L3507.8 706.0L3508.7 706.5L3509.5 705.5L3510.3 703.3L3511.2 700.4L3512.0 697.2L3512.8 694.1L3513.7 691.6L3514.5 689.4L3515.3 687.2L3516.1 685.1L3517.0 683.3L3517.8 682.1L3518.6 681.6L3519.5 682.2L3520.3 683.6L3521.2 685.6L3522.0 687.8L3522.8 689.9L3523.6 691.6L3524.2 693.1L3524.8 694.6L3525.4 696.1L3525.9 697.4L3526.6 698.2L3527.3 698.5L3528.2 698.2L3529.2 697.4L3530.3 696.1L3531.4 694.6L3532.5 693.1L3533.5 691.6L3534.6 690.1L3535.7 688.6L3536.8 687.0L3537.8 685.3L3538.8 683.5L3539.7 681.6L3540.5 679.6L3541.1 677.4L3541.7 675.1L3542.2 672.8L3542.8 670.8L3543.4 669.2L3544.2 667.9L3545.0 666.8L3545.9 665.9L3546.7 665.3L3547.6 665.2L3548.4 665.5L3549.2 666.5L3550.1 668.2L3550.9 670.2L3551.7 672.5L3552.5 674.7L3553.4 676.7L3554.2 678.5L3555.0 680.4L3555.9 682.2L3556.7 683.9L3557.5 685.4L3558.3 686.6L3559.2 687.5L3560.0 688.1L3560.8 688.6L3561.7 688.8L3562.5 688.8L3563.3 688.6L3564.1 688.0L3565.0 687.1L3565.9 686.0L3566.7 684.8L3567.5 683.7L3568.3 682.9L3569.0 682.3L3569.6 681.7L3570.2 681.3L3570.8 681.1L3571.4 681.0L3572.0 681.2L3572.6 681.7L3573.2 682.6L3573.9 683.7L3574.5 684.8L3575.1 685.8L3575.7 686.6L3576.3 687.3L3576.9 688.0L3577.5 688.7L3578.1 689.1L3578.8 689.1L3579.4 688.6L3580.2 687.4L3581.0 685.7L3581.8 683.5L3582.7 681.2L3583.6 678.9L3584.4 676.7L3585.3 674.5L3586.2 672.1L3587.0 669.8L3587.9 667.5L3588.7 665.7L3589.4 664.3L3589.9 663.3L3590.3 662.7L3590.7 662.4L3591.0 662.5L3591.4 662.9L3591.9 663.8L3592.4 665.1L3593.0 667.0L3593.6 669.3L3594.3 671.7L3594.9 674.3L3595.6 676.7L3596.2 679.2L3596.8 681.9L3597.4 684.6L3598.0 687.3L3598.6 689.6L3599.3 691.6L3600.1 693.0L3600.9 694.0L3601.7 694.7L3602.6 695.3L3603.4 695.8L3604.3 696.5L3605.1 697.4L3605.9 698.2L3606.8 699.0L3607.6 699.9L3608.4 700.7L3609.2 701.5L3610.1 702.5L3610.9 703.7L3611.7 704.8L3612.5 705.8L3613.4 706.4L3614.2 706.5L3615.0 705.8L3615.8 704.6L3616.6 703.1L3617.4 701.3L3618.3 699.5L3619.2 697.8L3620.2 696.2L3621.2 694.4L3622.3 692.7L3623.4 690.9L3624.5 689.3L3625.4 687.9L3626.1 686.6L3626.8 685.4L3627.4 684.4L3627.9 683.4L3628.5 682.5L3629.1 681.6L3629.7 680.8L3630.3 679.9L3631.0 679.0L3631.6 678.3L3632.2 677.9L3632.8 677.9L3633.4 678.4L3634.0 679.2L3634.6 680.3L3635.2 681.5L3635.9 682.8L3636.5 684.1L3637.2 685.6L3637.9 687.5L3638.7 689.4L3639.4 691.1L3640.2 692.3L3641.0 692.8L3641.9 692.4L3642.7 691.2L3643.6 689.5L3644.6 687.6L3645.5 685.7L3646.5 684.1L3647.5 682.8L3648.5 681.4L3649.5 680.0L3650.6 678.8L3651.6 677.6L3652.7 676.7L3653.7 676.0L3654.8 675.6L3655.9 675.3L3656.9 675.0L3657.9 674.7L3658.9 674.2L3659.8 673.4L3660.6 672.4L3661.4 671.3L3662.2 670.2L3663.0 669.5L3663.9 669.2L3664.7 669.5L3665.5 670.1L3666.3 671.0L3667.2 672.0L3668.0 673.1L3668.8 674.2L3669.6 675.3L3670.5 676.6L3671.3 678.0L3672.1 679.2L3673.0 680.3L3673.8 681.2L3674.6 681.8L3675.4 682.3L3676.3 682.6L3677.1 682.7L3677.9 682.4L3678.7 681.6L3679.6 680.4L3680.4 678.7L3681.3 676.6L3682.2 674.2L3683.0 671.7L3683.7 669.2L3684.4 666.6L3685.0 663.6L3685.7 660.5L3686.2 657.5L3686.8 654.5L3687.4 651.9L3688.0 649.4L3688.6 647.1L3689.2 644.9L3689.8 642.8L3690.5 641.0L3691.2 639.4L3691.9 638.1L3692.7 636.9L3693.5 636.0L3694.3 635.2L3695.2 634.7L3696.1 634.5L3697.1 634.5L3698.1 634.8L3699.2 635.3L3700.2 636.1L3701.3 637.1L3702.3 638.2L3703.4 639.6L3704.4 641.3L3705.5 643.2L3706.6 645.3L3707.6 647.4L3708.5 649.4L3709.4 651.4L3710.3 653.6L3711.1 655.8L3711.9 658.0L3712.7 660.0L3713.5 661.8L3714.3 663.4L3715.1 664.9L3715.9 666.3L3716.7 667.5L3717.6 668.3L3718.5 668.7L3719.4 668.6L3720.4 667.8L3721.5 666.8L3722.6 665.7L3723.6 664.7L3724.7 664.3L3725.7 664.4L3726.8 665.0L3727.9 665.8L3728.9 666.5L3729.9 666.9L3730.9 666.8L3731.8 665.9L3732.6 664.5L3733.4 662.9L3734.2 661.1L3735.0 659.4L3735.8 658.1L3736.7 656.9L3737.5 655.8L3738.3 654.8L3739.2 654.0L3740.0 653.4L3740.8 653.1L3741.6 653.1L3742.4 653.5L3743.2 654.0L3744.0 654.8L3744.9 655.7L3745.8 656.8L3746.7 658.1L3747.8 659.7L3748.8 661.5L3749.9 663.3L3750.9 665.1L3752.0 666.8L3753.0 668.3L3754.1 669.8L3755.2 671.3L3756.2 672.8L3757.2 674.2L3758.2 675.4L3759.1 676.7L3760.0 677.9L3760.8 679.1L3761.6 680.1L3762.4 681.0L3763.2 681.6L3763.8 681.9L3764.4 681.6L3765.0 681.3L3765.6 681.0L3766.2 681.0L3766.9 681.6L3767.7 682.9L3768.5 684.6L3769.4 686.6L3770.2 688.9L3771.1 691.4L3771.8 694.1L3772.5 697.0L3773.1 700.2L3773.7 703.7L3774.3 707.2L3774.9 710.7L3775.6 713.9L3776.3 717.2L3777.1 720.7L3778.0 724.1L3778.8 727.2L3779.7 729.7L3780.5 731.3L3781.4 731.8L3782.2 731.3L3783.1 730.1L3783.9 728.9L3784.7 727.9L3785.5 727.6L3786.2 727.9L3786.8 728.6L3787.4 729.5L3787.9 730.7L3788.5 732.1L3789.2 733.8L3790.0 735.8L3790.7 738.3L3791.6 741.0L3792.4 743.8L3793.3 746.4L3794.2 748.7L3795.2 750.7L3796.2 752.7L3797.3 754.6L3798.4 756.2L3799.4 757.6L3800.4 758.6L3801.3 759.2L3802.1 759.5L3802.8 759.5L3803.6 759.3L3804.4 759.0L3805.4 758.6L3806.5 758.1L3807.7 757.3L3808.9 756.4L3810.2 755.4L3811.5 754.5L3812.8 753.6L3814.1 752.9L3815.3 752.0L3816.6 751.2L3817.9 750.5L3819.1 750.0L3820.3 749.9L3821.4 750.3L3822.4 751.0L3823.4 751.9L3824.4 753.0L3825.4 754.0L3826.5 754.9L3827.5 755.7L3828.5 756.4L3829.5 757.2L3830.5 757.9L3831.6 758.4L3832.7 758.6L3833.9 758.5L3835.1 758.1L3836.4 757.4L3837.7 756.8L3838.9 756.3L3840.1 756.1L3841.2 756.3L3842.3 756.6L3843.3 757.1L3844.3 757.7L3845.3 758.2L3846.3 758.6L3847.4 759.0L3848.4 759.3L3849.5 759.7L3850.6 759.9L3851.6 760.0L3852.5 759.9L3853.4 759.4L3854.2 758.7L3855.0 757.9L3855.8 757.0L3856.6 755.9L3857.5 754.9L3858.5 753.6L3859.5 752.0L3860.5 750.3L3861.6 748.8L3862.7 747.8L3863.7 747.4L3864.8 748.0L3865.8 749.4L3866.9 751.2L3867.9 753.1L3868.9 754.9L3869.9 756.1L3870.8 756.9L3871.7 757.5L3872.5 757.9L3873.3 758.2L3874.1 758.4L3874.9 758.6L3875.7 758.6L3876.4 758.4L3877.2 758.1L3878.0 758.0L3878.9 758.1L3879.8 758.6L3880.9 759.7L3882.1 761.3L3883.4 763.2L3884.7 765.1L3886.0 767.0L3887.3 768.5L3888.6 769.8L3889.9 770.9L3891.1 771.9L3892.4 772.9L3893.6 773.8L3894.7 774.7L3895.7 775.7L3896.5 776.7L3897.3 777.6L3898.1 778.6L3898.9 779.5L3900.0 780.4L3901.3 781.3L3902.7 782.2L3904.2 783.1L3905.8 784.0L3907.4 784.9L3908.9 785.8L3910.4 786.8L3911.8 787.9L3913.3 789.0L3914.8 789.9L3916.3 790.7L3917.9 791.2L3919.6 791.2L3921.4 790.9L3923.3 790.4L3925.2 789.8L3927.0 789.2L3928.6 788.7L3930.0 788.1L3931.2 787.5L3932.3 786.8L3933.4 786.3L3934.5 785.9L3935.7 785.8L3937.1 786.2L3938.6 787.2L3940.1 788.3L3941.6 789.3L3943.2 789.7L3944.7 789.4L3946.2 787.9L3947.7 785.6L3949.3 782.8L3950.8 779.8L3952.2 777.1L3953.6 775.1L3954.9 773.5L3956.1 772.2L3957.3 771.0L3958.5 770.2L3959.6 769.8L3960.8 769.7L3962.0 770.1L3963.2 771.0L3964.3 772.3L3965.5 773.7L3966.7 775.3L3967.9 776.9L3969.1 778.5L3970.3 780.4L3971.5 782.4L3972.7 784.3L3973.9 786.1L3975.1 787.6L3976.2 788.8L3977.4 789.9L3978.5 790.9L3979.7 791.6L3980.9 792.1L3982.2 792.2L3983.6 791.9L3985.1 791.0L3986.7 789.9L3988.2 788.8L3989.7 787.9L3991.2 787.6L3992.4 787.8L3993.7 788.4L3994.8 789.3L3996.0 790.3L3997.1 791.3L3998.3 792.2L3999.5 793.2L4000.7 794.3L4001.9 795.5L4003.1 796.5L4004.3 797.1L4005.5 797.2L4006.6 796.6L4007.8 795.4L4009.0 793.9L4010.2 792.2L4011.4 790.6L4012.6 789.4L4013.8 788.3L4015.0 787.4L4016.2 786.5L4017.4 785.7L4018.6 785.3L4019.7 785.1L4020.9 785.3L4022.1 785.9L4023.3 786.7L4024.5 787.6L4025.7 788.6L4026.9 789.4L4028.1 790.2L4029.2 791.0L4030.4 791.9L4031.5 792.7L4032.8 793.3L4034.0 793.7L4035.5 793.6L4037.0 793.1L4038.5 792.5L4040.1 791.9L4041.6 791.4L4043.0 791.2L4044.3 791.2L4045.4 791.5L4046.6 791.8L4047.7 792.3L4048.9 793.0L4050.1 793.7L4051.5 794.6L4053.0 796.0L4054.6 797.4L4056.2 798.8L4057.7 799.7L4059.1 800.1L4060.4 799.6L4061.7 798.3L4062.9 796.6L4064.0 795.1L4065.2 793.9L4066.2 793.7L4067.2 794.3L4068.1 795.5L4068.9 797.2L4069.7 799.2L4070.6 801.4L4071.6 803.7L4072.7 806.2L4073.8 809.2L4075.0 812.4L4076.3 815.5L4077.5 818.4L4078.7 820.8L4079.9 822.5L4081.0 823.6L4082.2 824.5L4083.4 825.4L4084.6 826.7L4085.9 828.7L4087.3 831.6L4088.7 835.4L4090.2 839.5L4091.8 843.5L4093.3 847.2L4094.8 850.1L4096.3 852.1L4097.8 853.3L4099.3 854.1L4100.8 854.8L4102.3 855.8L4103.8 857.3L4105.3 859.5L4106.8 862.2L4108.3 865.1L4109.8 868.0L4111.3 870.4L4112.7 872.3L4114.0 873.5L4115.3 874.2L4116.5 874.5L4117.7 874.6L4118.8 874.6L4119.8 874.4L4120.8 874.0L4121.7 873.0L4122.5 871.8L4123.3 870.9L4124.2 870.5L4125.2 870.9L4126.3 872.2L4127.4 874.3L4128.6 876.8L4129.8 879.7L4131.0 882.8L4132.4 885.9L4133.7 889.1L4135.2 892.7L4136.7 896.4L4138.2 900.2L4139.8 903.8L4141.3 907.3L4142.8 910.8L4144.3 914.5L4145.8 918.1L4147.2 921.3L4148.7 924.0L4150.2 925.9L4151.7 926.7L4153.3 926.4L4154.8 925.6L4156.3 924.8L4157.8 924.2L4159.2 924.5L4160.5 925.7L4161.8 927.4L4163.1 929.4L4164.3 931.7L4165.3 933.9L4166.3 935.9L4167.2 937.9L4167.9 939.9L4168.5 942.0L4169.1 943.9L4169.5 945.5L4169.9 946.6" fill="none" stroke="#02024f" stroke-width="5" stroke-linejoin="round" stroke-linecap="round"/>
<rect x="2623" y="321" width="143" height="11.4" fill="#f8141c"/>
<rect x="3181.6" y="551.3" width="28.5" height="11.4" fill="#f8141c"/>
<rect x="3768.8" y="650" width="28.5" height="11.4" fill="#f8141c"/>
<path d="M2571.3 600.5L2571.3 443" stroke="#fba21c" stroke-width="5.2" fill="none"/>
<path d="M2571.3 436L2578.7000000000003 448.4L2563.9 448.4Z" fill="#fba21c" stroke="#fba21c" stroke-width="2.4" stroke-linejoin="round"/>
<path d="M3206.9 819L3206.9 739" stroke="#fba21c" stroke-width="5.2" fill="none"/>
<path d="M3206.9 732L3214.3 744.4L3199.5 744.4Z" fill="#fba21c" stroke="#fba21c" stroke-width="2.4" stroke-linejoin="round"/>
<path d="M4075 962.5L4075 926" stroke="#fba21c" stroke-width="5.2" fill="none"/>
<path d="M4075 919L4082.4 931.4L4067.6 931.4Z" fill="#fba21c" stroke="#fba21c" stroke-width="2.4" stroke-linejoin="round"/>
<path d="M2247.7 1123.6L2247.7 1441.9L2247.9 1441.9L2249.5 1443.5L2251.8 1446.0L2254.5 1448.2L2257.3 1448.6L2260.3 1449.4L2263.6 1451.3L2266.9 1451.7L2269.7 1452.2L2271.9 1451.6L2273.7 1450.3L2275.3 1450.9L2277.2 1450.5L2279.2 1450.3L2281.2 1451.6L2283.4 1451.2L2285.9 1452.6L2288.7 1452.9L2291.8 1452.9L2295.1 1455.2L2298.3 1455.4L2301.5 1457.3L2304.8 1458.4L2308.0 1457.1L2310.7 1457.9L2312.8 1456.0L2314.4 1454.4L2315.8 1452.2L2317.4 1450.8L2319.1 1452.7L2320.7 1454.6L2322.5 1457.8L2324.3 1461.0L2326.3 1462.7L2328.4 1466.7L2330.6 1468.8L2333.0 1471.5L2335.6 1473.0L2338.5 1473.8L2341.3 1474.9L2344.2 1474.7L2347.1 1474.5L2349.9 1472.2L2352.8 1470.4L2355.4 1469.1L2357.6 1466.5L2359.6 1463.6L2361.7 1460.6L2364.1 1458.1L2367.0 1455.3L2370.2 1453.3L2373.5 1450.3L2376.5 1449.1L2379.2 1446.9L2381.8 1445.3L2384.2 1444.7L2386.4 1444.2L2388.2 1443.4L2389.7 1444.2L2391.1 1443.5L2392.6 1442.9L2394.4 1441.5L2396.2 1439.1L2398.1 1438.2L2400.1 1436.9L2402.2 1437.1L2404.5 1435.3L2406.7 1435.6L2408.7 1435.6L2410.5 1436.8L2412.0 1437.1L2413.5 1439.7L2415.0 1441.4L2416.4 1443.6L2417.9 1447.3L2419.4 1448.6L2421.2 1451.6L2423.2 1454.4L2425.5 1458.3L2427.8 1462.0L2429.9 1464.1L2431.6 1464.7L2433.1 1464.3L2434.5 1465.6L2436.1 1465.4L2437.8 1467.7L2439.7 1470.5L2441.4 1472.5L2443.0 1474.2L2444.2 1473.4L2445.2 1471.5L2446.1 1470.0L2447.2 1467.8L2448.6 1468.0L2450.1 1467.0L2451.8 1465.8L2453.4 1465.2L2455.3 1462.9L2457.2 1460.6L2459.2 1459.4L2460.9 1456.7L2462.3 1457.8L2463.4 1459.5L2464.6 1458.3L2465.8 1460.5L2467.2 1456.8L2468.6 1454.2L2470.2 1451.6L2472.1 1449.5L2474.4 1447.3L2477.1 1443.9L2479.8 1442.4L2482.0 1441.3L2483.5 1440.1L2484.6 1441.0L2485.7 1441.8L2487.0 1442.3L2488.8 1440.6L2490.8 1439.8L2492.8 1438.1L2494.4 1436.0L2495.4 1434.0L2496.1 1432.6L2496.5 1429.8L2496.9 1423.3L2497.2 1414.6L2497.3 1403.0L2497.4 1390.5L2497.6 1379.5L2497.9 1370.8L2498.2 1361.9L2498.6 1353.3L2499.4 1349.1L2500.6 1344.8L2502.3 1343.7L2504.0 1344.4L2505.6 1343.2L2506.9 1341.5L2508.1 1341.9L2509.3 1340.9L2510.5 1339.9L2511.7 1337.3L2512.9 1336.6L2514.1 1334.1L2515.5 1333.9L2517.2 1332.6L2519.1 1333.1L2521.0 1333.3L2522.9 1334.7L2524.8 1336.5L2526.7 1337.2L2528.5 1337.9L2530.4 1339.8L2532.3 1339.8L2534.1 1340.6L2536.0 1340.9L2537.8 1341.5L2539.7 1343.0L2541.6 1344.7L2543.4 1346.9L2545.3 1348.6L2547.2 1351.1L2549.0 1352.6L2550.9 1354.9L2552.7 1358.4L2554.6 1360.4L2556.5 1362.4L2558.4 1363.4L2560.2 1365.7L2561.9 1366.7L2563.5 1368.7L2565.0 1370.1L2566.4 1371.8L2567.4 1374.1L2568.3 1375.9L2569.1 1378.4L2570.1 1380.9L2571.4 1383.4L2572.9 1385.0L2574.5 1387.1L2576.3 1388.3L2578.3 1389.4L2580.4 1389.6L2582.7 1388.1L2585.0 1389.1L2587.5 1389.7L2590.1 1391.5L2592.6 1390.6L2594.9 1392.6L2597.0 1392.9L2598.9 1395.2L2600.7 1395.5L2602.4 1397.0L2604.0 1399.1L2605.4 1401.8L2606.9 1404.6L2608.6 1406.4L2610.6 1406.9L2612.7 1409.0L2615.0 1409.4L2617.3 1410.1L2619.8 1411.1L2622.4 1413.1L2625.0 1413.3L2627.2 1414.8L2629.0 1417.8L2630.6 1420.9L2632.0 1422.2L2633.4 1424.7L2635.0 1426.4L2636.6 1428.5L2638.0 1430.2L2639.1 1433.4L2639.9 1437.1L2640.3 1442.6L2640.6 1448.3L2640.9 1454.4L2641.0 1457.9L2641.0 1462.0L2641.2 1465.9L2642.1 1468.7L2644.0 1470.3L2646.6 1470.3L2649.4 1471.5L2652.0 1471.7L2654.4 1470.1L2656.6 1470.5L2658.8 1469.8L2660.7 1470.5L2662.5 1470.9L2664.0 1472.6L2665.4 1474.5L2666.9 1476.2L2668.5 1477.7L2670.0 1480.0L2671.6 1482.8L2673.1 1486.7L2674.6 1487.9L2676.0 1489.8L2677.5 1491.9L2679.4 1491.8L2681.6 1493.1L2684.0 1492.6L2686.7 1493.1L2689.3 1492.1L2691.9 1493.1L2694.6 1493.7L2697.3 1494.0L2700.0 1493.0L2702.7 1492.8L2705.3 1492.3L2707.9 1490.3L2710.4 1489.1L2712.8 1486.7L2715.0 1483.7L2717.2 1480.6L2719.4 1478.9L2721.6 1477.5L2723.7 1478.2L2726.0 1477.9L2728.3 1477.3L2730.8 1475.5L2733.4 1471.6L2736.1 1468.3L2738.7 1465.5L2741.3 1464.6L2744.0 1464.4L2746.6 1462.8L2749.2 1460.3L2751.8 1456.4L2754.4 1452.6L2757.0 1446.9L2759.6 1441.8L2762.2 1436.4L2764.9 1432.9L2767.5 1428.1L2770.0 1423.1L2772.3 1416.7L2774.5 1408.9L2776.7 1402.5L2779.0 1394.7L2781.4 1390.8L2784.0 1387.6L2786.6 1385.3L2789.4 1382.3L2792.3 1377.2L2795.4 1372.0L2798.4 1367.9L2801.3 1364.3L2804.0 1360.2L2806.6 1358.4L2809.2 1355.0L2811.7 1353.3L2814.4 1352.1L2817.1 1352.5L2819.8 1351.7L2822.2 1351.8L2824.2 1351.9L2826.1 1353.2L2827.8 1355.3L2829.6 1359.0L2831.4 1361.9L2833.1 1365.0L2834.9 1368.6L2837.1 1372.1L2839.7 1376.8L2842.7 1381.5L2845.8 1385.7L2849.0 1389.6L2852.3 1392.6L2855.9 1396.6L2859.3 1399.8L2862.4 1404.8L2864.9 1410.2L2867.1 1417.1L2869.1 1423.7L2871.3 1429.4L2873.8 1435.4L2876.5 1438.9L2879.1 1444.3L2881.8 1448.8L2884.4 1454.7L2887.0 1461.4L2889.6 1467.1L2892.2 1472.3L2894.8 1477.0L2897.5 1480.9L2900.1 1484.9L2902.6 1487.9L2905.0 1489.9L2907.3 1490.6L2909.5 1492.5L2911.6 1493.3L2913.5 1492.1L2915.2 1491.5L2917.0 1491.3L2919.0 1489.2L2921.4 1487.6L2923.9 1484.2L2926.7 1480.7L2929.4 1478.8L2932.5 1476.4L2935.8 1474.2L2938.9 1471.4L2941.4 1469.6L2942.9 1469.2L2943.7 1466.3L2944.5 1466.0L2945.8 1463.3L2948.1 1462.8L2950.8 1461.9L2953.6 1461.1L2956.3 1459.4L2958.6 1458.0L2960.7 1457.3L2962.9 1455.0L2965.2 1452.2L2967.8 1449.1L2970.5 1446.2L2973.2 1441.2L2975.6 1438.0L2977.7 1435.0L2979.5 1432.5L2981.3 1431.3L2983.1 1429.8L2984.9 1425.7L2986.8 1421.4L2988.7 1417.2L2990.5 1414.4L2992.4 1412.2L2994.2 1412.7L2996.0 1412.0L2998.0 1413.0L3000.1 1413.6L3002.4 1413.7L3004.6 1415.1L3006.9 1415.3L3009.1 1414.0L3011.2 1412.3L3013.4 1411.6L3015.9 1410.6L3018.6 1410.8L3021.6 1412.0L3024.7 1413.8L3027.8 1415.2L3030.8 1415.1L3033.8 1413.9L3036.8 1413.7L3039.7 1414.2L3042.4 1415.6L3045.1 1418.3L3047.7 1420.3L3050.1 1421.8L3052.5 1422.2L3054.7 1421.2L3056.9 1419.5L3059.1 1419.4L3061.3 1417.0L3063.5 1416.0L3065.8 1414.4L3068.0 1413.0L3070.3 1413.2L3072.7 1413.3L3074.9 1412.7L3076.9 1412.6L3078.7 1412.6L3080.2 1409.0L3081.6 1408.0L3082.9 1408.5L3084.1 1410.1L3085.1 1412.8L3086.2 1416.8L3087.4 1420.6L3088.7 1424.3L3090.2 1428.6L3091.7 1433.3L3093.3 1435.7L3095.1 1437.6L3097.0 1439.6L3098.9 1440.7L3100.8 1441.0L3102.6 1442.7L3104.5 1443.8L3106.4 1445.6L3108.2 1446.5L3110.1 1445.7L3111.9 1445.5L3113.8 1443.5L3115.7 1442.9L3117.6 1443.6L3119.5 1445.0L3121.4 1445.9L3123.1 1441.6L3124.8 1435.7L3126.3 1425.8L3127.7 1415.2L3129.1 1402.2L3130.3 1389.6L3131.4 1377.0L3132.5 1362.7L3133.6 1349.7L3134.6 1337.6L3135.7 1327.4L3136.8 1316.8L3138.0 1306.9L3139.4 1298.8L3140.9 1290.8L3142.5 1283.3L3144.0 1277.4L3145.4 1272.6L3146.9 1269.8L3148.4 1266.9L3150.0 1263.3L3151.8 1258.8L3153.6 1252.8L3155.6 1248.9L3157.4 1245.3L3159.3 1242.5L3161.2 1239.9L3163.0 1237.7L3164.9 1238.4L3166.8 1237.6L3168.7 1238.6L3170.6 1238.2L3172.3 1240.7L3173.9 1242.5L3175.4 1245.1L3176.9 1249.3L3178.3 1253.8L3179.8 1259.5L3181.3 1265.5L3182.8 1272.1L3184.3 1278.1L3185.7 1283.6L3187.2 1289.9L3188.6 1296.3L3190.2 1301.3L3191.9 1304.9L3193.8 1308.1L3195.7 1312.9L3197.7 1316.5L3199.8 1322.4L3202.1 1326.8L3204.5 1333.1L3206.6 1337.4L3208.7 1341.0L3210.6 1343.5L3212.4 1346.6L3214.1 1349.5L3215.4 1353.1L3216.4 1358.1L3217.4 1362.8L3218.5 1367.1L3219.8 1370.5L3221.0 1373.0L3222.5 1375.7L3224.5 1379.0L3227.1 1381.5L3230.3 1386.1L3233.5 1389.9L3236.4 1392.3L3238.8 1398.0L3241.0 1403.6L3243.1 1407.8L3245.4 1415.0L3247.9 1421.6L3250.6 1428.2L3253.2 1435.4L3255.8 1441.5L3258.2 1448.4L3260.4 1454.6L3262.6 1460.1L3264.7 1465.4L3266.7 1469.1L3268.4 1473.3L3270.2 1477.9L3272.2 1480.8L3274.2 1482.2L3276.2 1483.5L3278.4 1484.4L3281.1 1486.8L3284.6 1486.8L3288.6 1487.5L3292.6 1486.8L3296.0 1486.7L3298.6 1485.6L3300.7 1484.2L3302.6 1483.5L3304.9 1483.2L3307.9 1480.6L3311.1 1480.0L3314.2 1478.0L3316.9 1478.0L3318.6 1477.0L3319.8 1477.5L3321.1 1479.0L3322.8 1477.2L3325.4 1479.0L3328.4 1477.9L3331.6 1476.7L3334.7 1477.1L3337.6 1476.7L3340.3 1477.7L3343.3 1478.1L3346.7 1479.2L3350.8 1479.2L3355.4 1480.5L3360.1 1482.8L3364.5 1482.8L3368.6 1482.9L3372.5 1482.6L3376.2 1482.8L3379.4 1483.4L3382.1 1483.3L3384.4 1484.7L3386.4 1485.5L3388.4 1485.3L3390.4 1486.5L3392.3 1487.0L3394.2 1486.2L3395.8 1486.7L3397.2 1488.4L3398.3 1490.0L3399.5 1491.2L3400.9 1492.8L3402.7 1491.8L3404.7 1489.9L3406.9 1488.6L3409.2 1485.7L3411.7 1482.8L3414.3 1480.0L3417.0 1478.5L3419.7 1476.2L3422.3 1474.4L3424.9 1475.8L3427.5 1475.7L3430.1 1475.5L3432.7 1475.3L3435.3 1473.6L3437.9 1471.3L3440.5 1470.8L3443.1 1470.8L3445.6 1470.5L3448.1 1471.1L3451.0 1471.0L3454.2 1472.6L3457.8 1473.4L3461.3 1473.2L3464.4 1473.6L3467.0 1475.0L3469.3 1476.6L3471.4 1477.1L3473.3 1477.3L3475.0 1477.0L3476.4 1475.2L3477.7 1475.1L3479.3 1474.9L3480.9 1475.6L3482.6 1478.0L3484.5 1478.9L3486.7 1480.0L3489.4 1480.7L3492.4 1480.1L3495.5 1479.2L3498.6 1478.9L3501.6 1479.1L3504.6 1479.5L3507.6 1479.2L3510.5 1480.1L3513.6 1480.4L3516.7 1479.0L3519.7 1478.0L3522.5 1477.9L3525.0 1476.7L3527.3 1474.8L3529.5 1474.0L3531.4 1472.6L3533.1 1472.3L3534.5 1470.1L3535.8 1470.3L3537.4 1468.0L3539.1 1466.7L3540.9 1464.1L3542.8 1462.4L3544.8 1461.5L3546.9 1460.9L3549.2 1460.4L3551.5 1461.5L3553.8 1462.5L3555.9 1464.3L3557.9 1464.3L3560.1 1465.4L3562.7 1465.9L3565.9 1466.1L3569.6 1465.9L3573.2 1464.4L3576.1 1465.5L3578.0 1466.2L3579.2 1467.2L3580.3 1468.4L3582.1 1470.2L3584.8 1468.6L3588.0 1468.6L3591.3 1469.6L3594.0 1467.8L3595.7 1468.7L3596.9 1468.8L3598.2 1468.7L3600.0 1468.9L3602.9 1469.6L3606.4 1470.1L3609.9 1470.3L3612.8 1469.7L3614.8 1468.0L3616.1 1465.9L3617.5 1463.8L3619.2 1460.5L3621.5 1457.1L3624.2 1454.6L3627.0 1449.7L3629.9 1448.3L3632.9 1447.0L3636.2 1444.7L3639.5 1443.5L3642.7 1443.3L3645.9 1442.8L3649.1 1441.1L3652.3 1441.0L3655.5 1439.8L3658.8 1438.0L3662.1 1437.8L3665.3 1435.9L3668.3 1436.3L3671.2 1437.2L3673.9 1438.9L3676.5 1440.2L3679.0 1442.4L3681.1 1443.4L3683.0 1448.9L3685.0 1449.8L3687.5 1452.4L3691.0 1454.2L3695.1 1454.3L3699.2 1454.4L3702.5 1451.7L3704.5 1448.7L3705.8 1444.7L3707.0 1439.8L3708.9 1435.3L3711.7 1430.6L3715.2 1425.6L3718.7 1421.4L3721.7 1415.3L3724.1 1409.8L3726.1 1403.9L3728.1 1396.6L3730.2 1390.4L3732.8 1383.7L3735.5 1376.9L3738.2 1369.6L3740.9 1363.1L3743.5 1357.3L3746.1 1351.3L3748.8 1347.0L3751.6 1343.0L3754.7 1339.5L3758.0 1336.5L3761.3 1333.7L3764.4 1332.5L3767.1 1333.3L3769.6 1333.6L3772.2 1334.5L3775.1 1336.9L3778.5 1338.2L3782.3 1339.5L3786.2 1342.4L3790.0 1343.9L3793.9 1346.8L3797.8 1348.6L3801.5 1352.6L3805.0 1356.3L3807.9 1360.8L3810.6 1365.5L3813.1 1371.7L3815.7 1376.6L3818.3 1384.5L3821.0 1392.5L3823.7 1399.0L3826.3 1404.3L3829.1 1412.3L3831.8 1418.7L3834.5 1425.7L3837.0 1432.9L3839.3 1441.7L3841.4 1450.1L3843.5 1457.1L3845.5 1463.3L3847.6 1465.0L3849.6 1465.3L3851.7 1462.3L3854.1 1462.9L3857.0 1464.4L3860.2 1467.6L3863.6 1469.1L3866.9 1471.0L3870.1 1470.9L3873.3 1468.8L3876.5 1466.7L3879.7 1465.9L3883.0 1465.7L3886.3 1466.1L3889.5 1467.2L3892.5 1468.1L3895.3 1468.9L3897.9 1468.6L3900.4 1470.0L3903.2 1471.2L3906.2 1470.0L3909.3 1470.7L3912.6 1470.3L3916.0 1471.2L3919.6 1471.7L3923.4 1471.8L3927.2 1472.2L3931.0 1472.8L3934.8 1475.6L3938.7 1478.4L3942.3 1481.1L3945.0 1482.1L3946.5 1479.8L3947.0 1474.7L3947.3 1469.0L3948.0 1462.9L3949.3 1456.5L3950.9 1448.6L3952.6 1441.7L3954.4 1432.7L3956.3 1425.7L3958.3 1417.8L3960.5 1411.1L3963.0 1404.1L3965.9 1395.8L3969.1 1387.7L3972.5 1380.0L3975.8 1373.6L3978.9 1367.4L3982.1 1363.4L3985.3 1359.1L3988.6 1354.6L3992.1 1350.7L3995.7 1346.6L3999.5 1344.7L4003.6 1340.6L4008.3 1338.7L4013.6 1338.1L4018.6 1335.7L4022.8 1335.3L4025.7 1336.2L4027.7 1339.9L4029.4 1343.0L4031.3 1345.7L4033.5 1348.2L4035.7 1352.8L4037.9 1356.4L4039.9 1360.9L4041.6 1365.3L4043.2 1369.1L4044.7 1372.5L4046.3 1374.1L4047.8 1372.0L4049.3 1366.1L4050.9 1361.4L4052.7 1355.7L4054.6 1351.8L4056.8 1348.8L4059.0 1343.5L4061.2 1339.1L4063.4 1334.0L4065.6 1327.1L4067.8 1319.3L4069.7 1313.5L4071.5 1307.0L4073.2 1300.3L4074.7 1295.3L4076.1 1287.9L4077.3 1281.2L4078.2 1274.8L4079.1 1267.9L4080.4 1261.6L4082.4 1258.4L4084.7 1255.8L4087.0 1253.1L4089.0 1250.0L4090.3 1245.3L4091.4 1240.0L4092.3 1234.0L4093.2 1228.2L4094.1 1222.2L4095.0 1212.8L4096.0 1206.8L4097.5 1200.6L4099.6 1196.4L4102.0 1194.5L4104.9 1192.9L4108.2 1189.0L4112.0 1185.6L4116.3 1180.9L4120.8 1175.1L4125.3 1170.6L4129.5 1166.4L4133.8 1161.0L4138.1 1155.7L4142.3 1150.5L4146.8 1145.4L4151.3 1141.5L4155.6 1136.0L4159.4 1132.0L4162.8 1128.9L4165.8 1126.2L4168.3 1125.7L4170.1 1123.9" fill="none" stroke="#000" stroke-width="5" stroke-linejoin="round" stroke-linecap="butt"/>
<rect x="3244.1" y="156.7" width="294.5" height="1357.8" fill="rgb(255,192,203)" fill-opacity="0.3"/>
<rect x="3215.5" y="233.7" width="157.7" height="1280.8" fill="rgb(255,192,203)" fill-opacity="0.3"/>
<rect x="3792.8" y="156.7" width="71.1" height="1357.8" fill="rgb(255,192,203)" fill-opacity="0.3"/>
<rect x="4082.3" y="156.7" width="22.0" height="1357.8" fill="rgb(255,192,203)" fill-opacity="0.3"/>
<rect x="3244.1" y="156.7" width="294.5" height="11.5" fill="#b22222"/>
<rect x="3215.5" y="233.7" width="157.7" height="11.5" fill="#b22222"/>
<rect x="3792.8" y="156.7" width="71.1" height="11.5" fill="#b22222"/>
<rect x="4082.3" y="156.7" width="22.0" height="11.5" fill="#b22222"/>
<text x="2694.5" y="264" font-size="39.6" text-anchor="middle" >EECO</text>
<text x="2571" y="659.5" font-size="39.6" text-anchor="middle" >PETM</text>
<text x="3195.5" y="499" font-size="39.6" text-anchor="middle" >EOT</text>
<text x="3784" y="598.5" font-size="39.6" text-anchor="middle" >MMCT</text>
<text x="3204.6" y="879" font-size="39.6" text-anchor="middle" >Oi-1</text>
<text x="4075" y="1019" font-size="39.6" text-anchor="middle" >M2</text>
<clipPath id="cpT"><rect x="2200" y="152.3" width="2000" height="878.2"/></clipPath>
<path d="M2735 1030.5L2735 100" stroke="rgb(31,120,180)" stroke-opacity="0.56" stroke-width="14.4" stroke-dasharray="58.75 58.75" fill="none" clip-path="url(#cpT)"/>
<path d="M2735 1590.5L2735 1050" stroke="rgb(31,120,180)" stroke-opacity="0.56" stroke-width="14.4" stroke-dasharray="58.75 58.75" fill="none"/>
<path d="M3279 1030.5L3279 100" stroke="rgb(31,120,180)" stroke-opacity="0.56" stroke-width="14.4" stroke-dasharray="58.75 58.75" fill="none" clip-path="url(#cpT)"/>
<path d="M3279 1590.5L3279 1050" stroke="rgb(31,120,180)" stroke-opacity="0.56" stroke-width="14.4" stroke-dasharray="58.75 58.75" fill="none"/>
<path d="M4041.6 1030.5L4041.6 100" stroke="rgb(31,120,180)" stroke-opacity="0.56" stroke-width="14.4" stroke-dasharray="58.75 58.75" fill="none" clip-path="url(#cpT)"/>
<path d="M4041.6 1590.5L4041.6 1050" stroke="rgb(31,120,180)" stroke-opacity="0.56" stroke-width="14.4" stroke-dasharray="58.75 58.75" fill="none"/>
<clipPath id="cpB"><rect x="2200" y="1400" width="2000" height="190.2"/></clipPath>
<g clip-path="url(#cpB)">
<rect x="2278.4" y="1515.8" width="286.6" height="74.7" fill="#ffa500" stroke="#000" stroke-width="4.6"/>
<rect x="2565.0" y="1515.8" width="633.4" height="74.7" fill="#ffff00" stroke="#000" stroke-width="4.6"/>
<rect x="3198.4" y="1515.8" width="311.5" height="74.7" fill="#00ff00" stroke="#000" stroke-width="4.6"/>
<rect x="3510.0" y="1515.8" width="507.2" height="74.7" fill="#87ceeb" stroke="#000" stroke-width="4.6"/>
<rect x="4017.2" y="1515.8" width="78.9" height="74.7" fill="#0000ff" stroke="#000" stroke-width="4.6"/>
<rect x="4096.1" y="1515.8" width="73.9" height="74.7" fill="#a020f0" stroke="#000" stroke-width="4.6"/>
</g>
<text x="2421.7" y="1566.5" font-size="38" font-weight="bold" text-anchor="middle">Paleocene</text>
<text x="2881.7" y="1566.5" font-size="38" font-weight="bold" text-anchor="middle">Eocene</text>
<text x="3354.2" y="1566.5" font-size="38" font-weight="bold" text-anchor="middle">Oligocene</text>
<text x="3763.6" y="1566.5" font-size="38" font-weight="bold" text-anchor="middle">Miocene</text>
<text x="4056.6" y="1562" font-size="25" font-weight="bold" text-anchor="middle">Plio.</text>
<text x="4133.0" y="1562" font-size="25" font-weight="bold" text-anchor="middle">Pleis.</text>
<path d="M2223.5 152.3L2223.5 1590.2" stroke="#000" fill="none" stroke-width="2.6"/>
<path d="M2222.2 1588.9L4172 1588.9" stroke="#000" fill="none" stroke-width="2.6"/>
<path d="M4170 152.3L4170 984.3" stroke="#000" fill="none" stroke-width="5"/>
<path d="M2209.8 218L2223 218" stroke="#000" fill="none" stroke-width="5"/>
<text x="2198" y="232.3" font-size="40" text-anchor="end" >-2</text>
<path d="M2209.8 437L2223 437" stroke="#000" fill="none" stroke-width="5"/>
<text x="2198" y="451.3" font-size="40" text-anchor="end" >0</text>
<path d="M2209.8 656L2223 656" stroke="#000" fill="none" stroke-width="5"/>
<text x="2198" y="670.3" font-size="40" text-anchor="end" >2</text>
<path d="M2209.8 875L2223 875" stroke="#000" fill="none" stroke-width="5"/>
<text x="2198" y="889.3" font-size="40" text-anchor="end" >4</text>
<path d="M2209.8 1590.7L2223 1590.7" stroke="#000" fill="none" stroke-width="5"/>
<text x="2198" y="1605.0" font-size="40" text-anchor="end" >0.00</text>
<path d="M2209.8 1403.7L2223 1403.7" stroke="#000" fill="none" stroke-width="5"/>
<text x="2198" y="1418.0" font-size="40" text-anchor="end" >0.05</text>
<path d="M2209.8 1217L2223 1217" stroke="#000" fill="none" stroke-width="5"/>
<text x="2198" y="1231.3" font-size="40" text-anchor="end" >0.10</text>
<path d="M2307.1 1590.5L2307.1 1602.5" stroke="#000" fill="none" stroke-width="5"/>
<text x="2307.1" y="1642.5" font-size="40" text-anchor="middle" >65</text>
<path d="M2593.7 1590.5L2593.7 1602.5" stroke="#000" fill="none" stroke-width="5"/>
<text x="2593.7" y="1642.5" font-size="40" text-anchor="middle" >55</text>
<path d="M2880.3 1590.5L2880.3 1602.5" stroke="#000" fill="none" stroke-width="5"/>
<text x="2880.3" y="1642.5" font-size="40" text-anchor="middle" >45</text>
<path d="M3166.9 1590.5L3166.9 1602.5" stroke="#000" fill="none" stroke-width="5"/>
<text x="3166.9" y="1642.5" font-size="40" text-anchor="middle" >35</text>
<path d="M3453.5 1590.5L3453.5 1602.5" stroke="#000" fill="none" stroke-width="5"/>
<text x="3453.5" y="1642.5" font-size="40" text-anchor="middle" >25</text>
<path d="M3740.1 1590.5L3740.1 1602.5" stroke="#000" fill="none" stroke-width="5"/>
<text x="3740.1" y="1642.5" font-size="40" text-anchor="middle" >15</text>
<path d="M4026.7 1590.5L4026.7 1602.5" stroke="#000" fill="none" stroke-width="5"/>
<text x="4026.7" y="1642.5" font-size="40" text-anchor="middle" >5</text>
<path d="M4170 217.7L4184 217.7" stroke="#000" fill="none" stroke-width="5"/>
<text x="4212.2" y="230.89999999999998" font-size="37.5" text-anchor="middle" >20</text>
<path d="M4170 327.4L4184 327.4" stroke="#000" fill="none" stroke-width="5"/>
<text x="4212.2" y="340.59999999999997" font-size="37.5" text-anchor="middle" >16</text>
<path d="M4170 437.2L4184 437.2" stroke="#000" fill="none" stroke-width="5"/>
<text x="4212.2" y="450.4" font-size="37.5" text-anchor="middle" >12</text>
<path d="M4170 547L4184 547" stroke="#000" fill="none" stroke-width="5"/>
<text x="4212.2" y="560.2" font-size="37.5" text-anchor="middle" >8</text>
<path d="M4170 669.7L4184 669.7" stroke="#000" fill="none" stroke-width="5"/>
<text x="4212.2" y="682.9000000000001" font-size="37.5" text-anchor="middle" >4</text>
<path d="M4170 808L4184 808" stroke="#000" fill="none" stroke-width="5"/>
<text x="4212.2" y="821.2" font-size="37.5" text-anchor="middle" >0</text>
<path d="M4170 945.8L4184 945.8" stroke="#000" fill="none" stroke-width="5"/>
<text x="4212.2" y="959.0" font-size="37.5" text-anchor="middle" >-4</text>
<text x="3169.5" y="1700.3" font-size="50" text-anchor="middle" >Time (Myr)</text>
<text transform="translate(2086.5 593) rotate(-90)" font-size="50.8" text-anchor="middle">Benthic δ<tspan font-size="35" dy="-19">18</tspan><tspan dy="19">O(‰)</tspan></text>
<text transform="translate(2072.8 1309) rotate(-90)" font-size="50.5" text-anchor="middle">CV of temperature</text>
<text transform="translate(4298 553) rotate(-90)" font-size="39" text-anchor="middle">Mean temperature</text>
<text transform="translate(4352.7 542.5) rotate(-90)" font-size="39" text-anchor="middle">difference to today (°C)</text>
<text x="81" y="136" font-size="98" text-anchor="start" >A</text>
<text x="2029.8" y="136" font-size="98" text-anchor="start" >B</text>
<circle cx="2700" cy="134.7" r="29.3" fill="none" stroke="#0f70c0" stroke-width="2.2"/>
<text x="2700" y="150.2" font-size="42" font-weight="bold" font-family="'Liberation Sans',sans-serif" text-anchor="middle" fill="#0f70c0">2</text>
<circle cx="3253.6" cy="116.6" r="26.4" fill="none" stroke="#0f70c0" stroke-width="1.3"/>
<text x="3253.6" y="136.1" font-size="55" font-weight="350" font-family="'Noto Sans CJK SC','Liberation Sans',sans-serif" text-anchor="middle" fill="#0f70c0">4</text>
<circle cx="3401" cy="117.6" r="29.4" fill="none" stroke="#c00000" stroke-width="2.2"/>
<text x="3401" y="133.1" font-size="42" font-weight="bold" font-family="'Liberation Sans',sans-serif" text-anchor="middle" fill="#c00000">5</text>
<circle cx="3325.5" cy="202.2" r="26.4" fill="none" stroke="#c00000" stroke-width="1.3"/>
<text x="3325.5" y="221.7" font-size="55" font-weight="350" font-family="'Noto Sans CJK SC','Liberation Sans',sans-serif" text-anchor="middle" fill="#c00000">3</text>
<circle cx="3830.9" cy="117.2" r="29.3" fill="none" stroke="#c00000" stroke-width="2.2"/>
<text x="3830.9" y="132.7" font-size="46" font-weight="bold" font-family="'Liberation Serif',serif" text-anchor="middle" fill="#c00000">7</text>
<circle cx="3997.3" cy="116.2" r="26.4" fill="none" stroke="#0f70c0" stroke-width="1.3"/>
<text x="3997.3" y="135.7" font-size="55" font-weight="350" font-family="'Noto Sans CJK SC','Liberation Sans',sans-serif" text-anchor="middle" fill="#0f70c0">1</text>
<circle cx="4097" cy="119.2" r="29.4" fill="none" stroke="#c00000" stroke-width="2.2"/>
<text x="4097" y="134.7" font-size="42" font-weight="bold" font-family="'Liberation Sans',sans-serif" text-anchor="middle" fill="#c00000">6</text>
<path d="M1083 228.8L133.2 228.8L133.2 934.4851562499998L327 934.4851562499998M1083 228.8L1083 273.1L1243 273.1M498.7 532.6703125L327 532.6703125L327 1336.2999999999997L352 1336.2999999999997M689.6 406.0L498.7 406.0L498.7 659.340625L557.3 659.340625M689.6 406.0L689.6 450.29999999999995L847 450.29999999999995M998.7 538.9L557.3 538.9L557.3 779.78125L575.2 779.78125M793 627.5L575.2 627.5L575.2 932.0625L717.8 932.0625M717.8 932.0625L717.8 793.6249999999999L774 793.6249999999999M1243 716.0999999999999L774 716.0999999999999L774 871.1499999999999L864.5 871.1499999999999M1038.5 804.6999999999999L864.5 804.6999999999999L864.5 937.5999999999999L899 937.5999999999999M899 937.5999999999999L899 981.9L1009 981.9M892 1203.3999999999999L352 1203.3999999999999L352 1469.1999999999998L849 1469.1999999999998M892 1203.3999999999999L892 1247.6999999999998L935.5 1247.6999999999998M1163 1380.6L849 1380.6L849 1557.8L1023 1557.8M1163 1380.6L1163 1336.3L1179.4 1336.3M1023 1557.8L1023 1602.1L1086 1602.1" fill="none" stroke="#000" stroke-width="4.7" stroke-linecap="square" />
<path d="M1083 226.5L1083 184.5L1243 184.5M689.6 403.7L689.6 361.7L819.6 361.7M717.8 934.3625L717.8 1070.5L726 1070.5M899 935.3L899 893.3L1012 893.3M892 1201.1L892 1159.1L984 1159.1M1163 1382.8999999999999L1163 1424.8999999999999L1199 1424.8999999999999M1023 1555.5L1023 1513.5L1051.5 1513.5" fill="none" stroke="#b22222" stroke-width="4.7" stroke-linecap="butt" stroke-linejoin="miter"/>
<path d="M819.6 361.7L1245 361.7" stroke="#b22222" stroke-width="5" stroke-dasharray="5.1 15.4" fill="none"/>
<circle cx="819.6" cy="361.7" r="18.6" fill="#b22222"/>
<path d="M847 450.3L1245 450.3" stroke="#000" stroke-width="5" stroke-dasharray="5.1 15.4" fill="none"/>
<circle cx="847" cy="450.3" r="18.6" fill="#000"/>
<path d="M998.7 538.9L1245 538.9" stroke="#000" stroke-width="5" stroke-dasharray="5.1 15.4" fill="none"/>
<circle cx="998.7" cy="538.9" r="18.6" fill="#000"/>
<path d="M793 627.5L1245 627.5" stroke="#000" stroke-width="5" stroke-dasharray="5.1 15.4" fill="none"/>
<circle cx="793" cy="627.5" r="18.6" fill="#000"/>
<path d="M1038.5 804.7L1245 804.7" stroke="#000" stroke-width="5" stroke-dasharray="5.1 15.4" fill="none"/>
<circle cx="1038.5" cy="804.7" r="18.6" fill="#000"/>
<path d="M1012 893.3L1245 893.3" stroke="#b22222" stroke-width="5" stroke-dasharray="5.1 15.4" fill="none"/>
<circle cx="1012" cy="893.3" r="18.6" fill="#b22222"/>
<path d="M1009 981.9L1245 981.9" stroke="#000" stroke-width="5" stroke-dasharray="5.1 15.4" fill="none"/>
<circle cx="1009" cy="981.9" r="18.6" fill="#000"/>
<path d="M726 1070.5L1245 1070.5" stroke="#b22222" stroke-width="5" stroke-dasharray="5.1 15.4" fill="none"/>
<circle cx="726" cy="1070.5" r="18.6" fill="#b22222"/>
<path d="M984 1159.1L1245 1159.1" stroke="#b22222" stroke-width="5" stroke-dasharray="5.1 15.4" fill="none"/>
<circle cx="984" cy="1159.1" r="18.6" fill="#b22222"/>
<path d="M935.5 1247.7L1245 1247.7" stroke="#000" stroke-width="5" stroke-dasharray="5.1 15.4" fill="none"/>
<circle cx="935.5" cy="1247.7" r="18.6" fill="#000"/>
<path d="M1179.4 1336.3L1245 1336.3" stroke="#000" stroke-width="5" stroke-dasharray="5.1 15.4" fill="none"/>
<circle cx="1179.4" cy="1336.3" r="18.6" fill="#000"/>
<path d="M1199 1424.9L1245 1424.9" stroke="#b22222" stroke-width="5" stroke-dasharray="5.1 15.4" fill="none"/>
<circle cx="1199" cy="1424.9" r="18.6" fill="#b22222"/>
<path d="M1051.5 1513.5L1245 1513.5" stroke="#b22222" stroke-width="5" stroke-dasharray="5.1 15.4" fill="none"/>
<circle cx="1051.5" cy="1513.5" r="18.6" fill="#b22222"/>
<path d="M1086 1602.1L1245 1602.1" stroke="#000" stroke-width="5" stroke-dasharray="5.1 15.4" fill="none"/>
<circle cx="1086" cy="1602.1" r="18.6" fill="#000"/>
<text x="1277.6" y="202.8" font-size="52.7" fill="#b22222" font-style="italic">Heteronetta atricapilla</text>
<text x="1277.6" y="291.4" font-size="52.7" fill="#000" font-style="italic">Biziura lobata</text>
<text x="1277.6" y="380.0" font-size="52.7" fill="#b22222" font-style="italic">Dromococcyx &amp; Tapera</text>
<text x="1277.6" y="468.6" font-size="52.7" fill="#000" font-style="italic">Neomorphus</text>
<text x="1277.6" y="557.2" font-size="52.7" fill="#000" font-style="italic">Centropus</text>
<text x="1277.6" y="645.8" font-size="52.7" fill="#000" font-style="italic">Coua &amp; Carpococcyx</text>
<text x="1277.6" y="734.4" font-size="52.7" fill="#000" font-style="italic">Ceuthmochares aereus</text>
<text x="1277.6" y="823.0" font-size="52.7" fill="#000" font-style="italic">Coccyzus &amp; Piaya</text>
<text x="1277.6" y="911.6" font-size="52.7" fill="#b22222" font-style="italic">Clamator</text>
<text x="1277.6" y="1000.2" font-size="52.7" fill="#000" font-style="italic">Phaenicophaeus</text>
<text x="1274.6" y="1088.8" font-size="52.7" fill="#b22222">Cuculinae</text>
<text x="1274.6" y="1177.4" font-size="52.7" fill="#b22222">Indicatoridae</text>
<text x="1274.6" y="1266.0" font-size="52.7" fill="#000">Picidae</text>
<text x="1277.6" y="1354.6" font-size="52.7" fill="#000" font-style="italic">Agelaius</text>
<text x="1277.6" y="1443.2" font-size="52.7" fill="#b22222" font-style="italic">Molothrus</text>
<text x="1274.6" y="1531.8" font-size="52.7" fill="#b22222">Viduidae</text>
<text x="1274.6" y="1620.4" font-size="52.7" fill="#000">Estrildidae</text>
<circle cx="1033.2" cy="185.4" r="29.4" fill="none" stroke="#000" stroke-width="2.2"/>
<text x="1033.2" y="200.9" font-size="46" font-weight="bold" font-family="'Liberation Serif',serif" text-anchor="middle" fill="#000">1</text>
<circle cx="641" cy="364.2" r="29.4" fill="none" stroke="#000" stroke-width="2.2"/>
<text x="641" y="379.7" font-size="46" font-weight="bold" font-family="'Liberation Serif',serif" text-anchor="middle" fill="#000">2</text>
<circle cx="669.5" cy="973.7" r="26.3" fill="none" stroke="#000" stroke-width="1.4"/>
<text x="669.5" y="993.2" font-size="55" font-weight="350" font-family="'Noto Sans CJK SC','Liberation Sans',sans-serif" text-anchor="middle" fill="#000">3</text>
<circle cx="942.4" cy="933.7" r="26.3" fill="none" stroke="#000" stroke-width="1.4"/>
<text x="942.4" y="953.2" font-size="55" font-weight="350" font-family="'Noto Sans CJK SC','Liberation Sans',sans-serif" text-anchor="middle" fill="#000">4</text>
<circle cx="847.9" cy="1161.3" r="29.4" fill="none" stroke="#000" stroke-width="2.2"/>
<text x="847.9" y="1176.8" font-size="42" font-weight="bold" font-family="'Liberation Sans',sans-serif" text-anchor="middle" fill="#000">5</text>
<circle cx="1118.5" cy="1421" r="29.4" fill="none" stroke="#000" stroke-width="2.2"/>
<text x="1118.5" y="1436.5" font-size="42" font-weight="bold" font-family="'Liberation Sans',sans-serif" text-anchor="middle" fill="#000">6</text>
<circle cx="975.3" cy="1515.5" r="26.3" fill="none" stroke="#000" stroke-width="1.4"/>
<text x="975.3" y="1535.0" font-size="55" font-weight="350" font-family="'Noto Sans CJK SC','Liberation Sans',sans-serif" text-anchor="middle" fill="#000">7</text>
</svg>
</body></html>
